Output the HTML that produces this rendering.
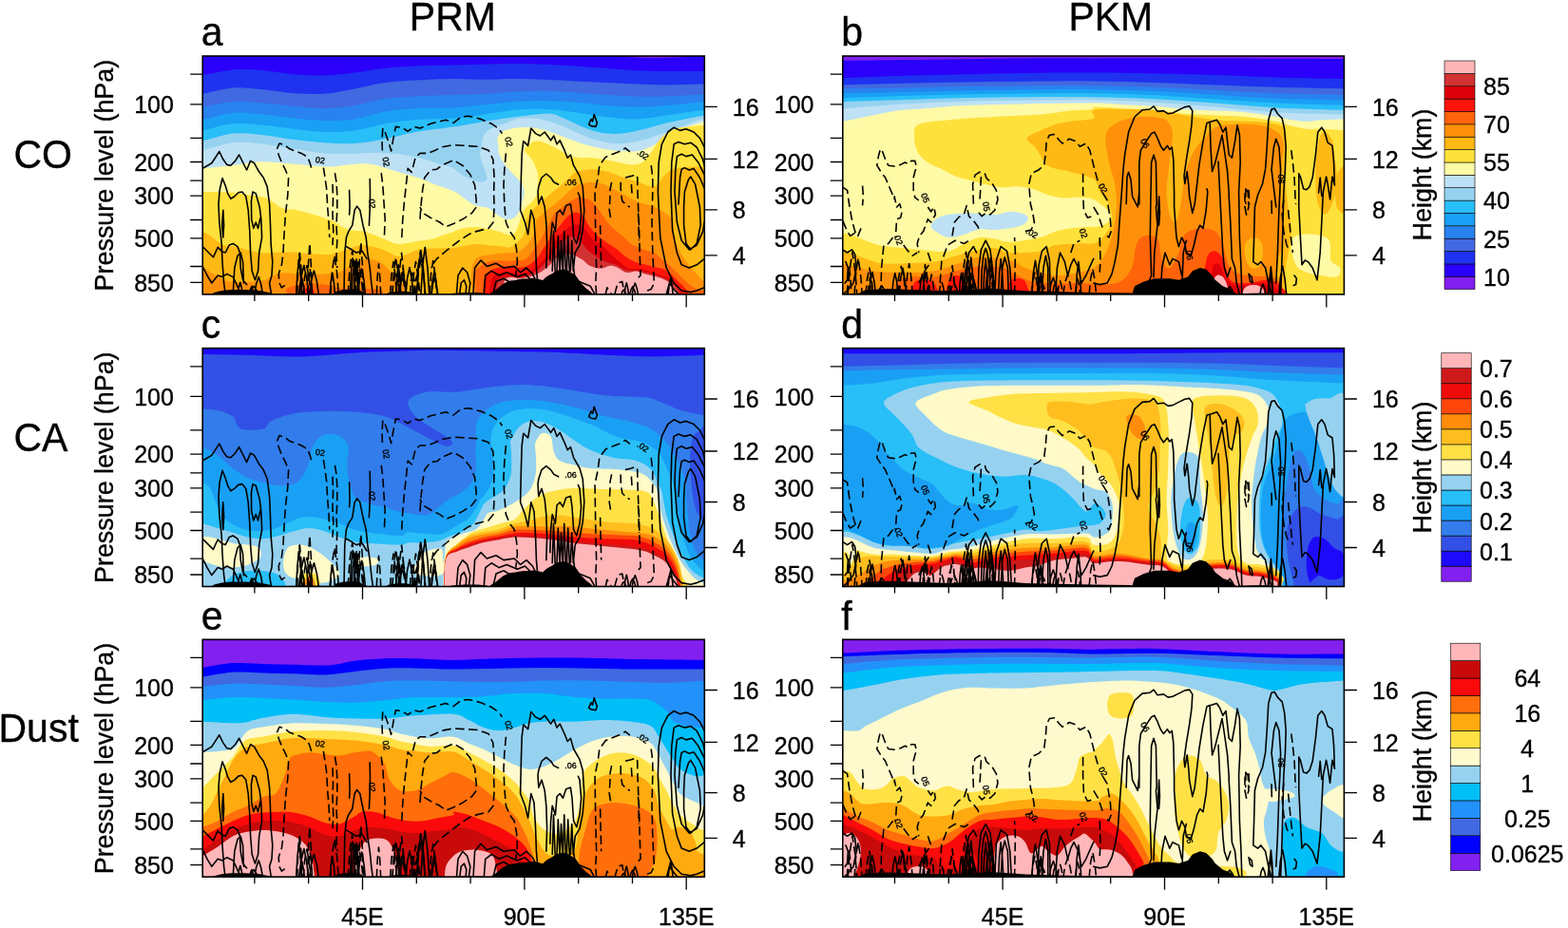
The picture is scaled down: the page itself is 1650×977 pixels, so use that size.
<!DOCTYPE html>
<html lang="en"><head><meta charset="utf-8"><title>Figure</title>
<style>html,body{margin:0;padding:0;background:#fff;overflow:hidden}svg{display:block}text{stroke:#000;stroke-width:0.35px}</style>
</head><body>
<svg width="1650" height="977" viewBox="0 0 1650 977" font-family='"Liberation Sans", Arial, Helvetica, sans-serif' fill="#000">
<rect width="1650" height="977" fill="#fff"/>
<defs>
<clipPath id="cpa"><rect x="0" y="0" width="528.1" height="250.9"/></clipPath>
<clipPath id="cpb"><rect x="0" y="0" width="527.6" height="250.9"/></clipPath>
<clipPath id="cpc"><rect x="0" y="0" width="528.1" height="250.9"/></clipPath>
<clipPath id="cpd"><rect x="0" y="0" width="527.6" height="250.9"/></clipPath>
<clipPath id="cpe"><rect x="0" y="0" width="528.1" height="249.9"/></clipPath>
<clipPath id="cpf"><rect x="0" y="0" width="527.6" height="249.9"/></clipPath>
</defs>
<g transform="translate(213.2 59)">
<g clip-path="url(#cpa)">
<rect x="-2" y="-2" width="532.1" height="254.9" fill="#2a00fa"/>
<path d="M432 -0.8C424.8 -0.3 452 1.6 464 1.9C476 2.3 496.8 1.7 504 1.3C511.2 0.8 519.2 -0.5 507.2 -0.8C495.2 -1.1 439.2 -1.3 432 -0.8Z" fill="#8220f0"/>
<path d="M-6 20C-5 20 -6.3 20.9 0 20C6.3 19.1 21.3 15.2 32 14.4C42.7 13.6 53.3 14.4 64 15.2C74.7 16 85.3 18.3 96 19.2C106.7 20.1 117.3 20.7 128 20.5C138.7 20.2 149.3 18.9 160 17.6C170.7 16.3 181.3 14 192 12.8C202.7 11.6 212 10.9 224 10.4C236 9.9 252 9.9 264 9.6C276 9.3 285.3 9.1 296 8.8C306.7 8.5 317.3 8 328 8C338.7 8 349.3 8.4 360 8.8C370.7 9.2 381.3 9.7 392 10.4C402.7 11.1 413.3 12 424 12.8C434.7 13.6 445.3 14.7 456 15.2C466.7 15.7 476 15.9 488 16C500 16.1 520.3 16 528 16C535.7 16 533.1 16 534.1 16V256.9H-6Z" fill="#1e32f0"/>
<path d="M-6 40C-5 40 -6.3 41.1 0 40C6.3 38.9 21.3 34.4 32 33.6C42.7 32.8 53.3 34.3 64 35.2C74.7 36.1 85.3 38.5 96 39.2C106.7 39.9 117.3 40.5 128 39.7C138.7 38.9 149.3 36.3 160 34.4C170.7 32.5 181.3 29.5 192 28C202.7 26.5 212 26.3 224 25.6C236 24.9 252 24.1 264 24C276 23.9 285.3 24.8 296 24.8C306.7 24.8 317.3 24 328 24C338.7 24 349.3 24.4 360 24.8C370.7 25.2 381.3 25.9 392 26.4C402.7 26.9 413.3 27.5 424 28C434.7 28.5 445.3 29.2 456 29.6C466.7 30 476 30.4 488 30.4C500 30.4 520.3 29.7 528 29.6C535.7 29.5 533.1 29.6 534.1 29.6V256.9H-6Z" fill="#4169e1"/>
<path d="M-6 53.6C-5 53.6 -6.3 54.5 0 53.6C6.3 52.7 21.3 48.7 32 48C42.7 47.3 53.3 48.8 64 49.6C74.7 50.4 85.3 51.9 96 52.8C106.7 53.7 117.3 55.3 128 55.2C138.7 55.1 149.3 53.7 160 52C170.7 50.3 181.3 46.4 192 44.8C202.7 43.2 212 43.1 224 42.4C236 41.7 252 41.2 264 40.8C276 40.4 285.3 40.5 296 40C306.7 39.5 317.3 38.1 328 37.6C338.7 37.1 349.3 36.7 360 36.8C370.7 36.9 381.3 37.7 392 38.4C402.7 39.1 413.3 40.1 424 40.8C434.7 41.5 445.3 42.1 456 42.4C466.7 42.7 476 42.8 488 42.4C500 42 520.3 40.4 528 40C535.7 39.6 533.1 40 534.1 40V256.9H-6Z" fill="#2882f0"/>
<path d="M-6 67.2C-5 67.2 -6.3 68.4 0 67.2C6.3 66 21.3 60.9 32 60C42.7 59.1 53.3 60.7 64 61.6C74.7 62.5 85.3 64.5 96 65.6C106.7 66.7 117.3 67.9 128 68C138.7 68.1 149.3 68 160 66.4C170.7 64.8 181.3 60.3 192 58.4C202.7 56.5 212 55.9 224 55.2C236 54.5 252 55.1 264 54.4C276 53.7 285.3 52.3 296 51.2C306.7 50.1 317.3 48.7 328 48C338.7 47.3 349.3 47.1 360 47.2C370.7 47.3 381.3 48 392 48.8C402.7 49.6 413.3 51.2 424 52C434.7 52.8 445.3 53.6 456 53.6C466.7 53.6 476 52.9 488 52C500 51.1 520.3 48.7 528 48C535.7 47.3 533.1 48 534.1 48V256.9H-6Z" fill="#19a0f5"/>
<path d="M-6 78.4C-5 78.4 -6.3 79.6 0 78.4C6.3 77.2 21.3 72.1 32 71.2C42.7 70.3 53.3 71.9 64 72.8C74.7 73.7 85.3 75.6 96 76.8C106.7 78 117.3 79.7 128 80C138.7 80.3 149.3 79.9 160 78.4C170.7 76.9 181.3 73.1 192 71.2C202.7 69.3 212 68.1 224 67.2C236 66.3 252 66.5 264 65.6C276 64.7 285.3 63.1 296 61.6C306.7 60.1 317.3 57.7 328 56.8C338.7 55.9 349.3 55.6 360 56C370.7 56.4 381.3 57.9 392 59.2C402.7 60.5 413.3 62.8 424 64C434.7 65.2 445.3 66.7 456 66.4C466.7 66.1 476 64 488 62.4C500 60.8 520.3 57.7 528 56.8C535.7 55.9 533.1 56.8 534.1 56.8V256.9H-6Z" fill="#28bef8"/>
<path d="M-6 89.6C-5 89.6 -6.3 90.9 0 89.6C6.3 88.3 21.3 82.7 32 81.6C42.7 80.5 53.3 82.1 64 83.2C74.7 84.3 85.3 86.7 96 88C106.7 89.3 117.3 90.5 128 91.2C138.7 91.9 149.3 92.7 160 92C170.7 91.3 181.3 89.2 192 87.2C202.7 85.2 212 82.1 224 80C236 77.9 253.3 76 264 74.4C274.7 72.8 280 71.7 288 70.4C296 69.1 299.7 68 312 66.4C324.3 64.8 351 61.1 362 60.8C373 60.5 372.7 62.9 378 64.8C383.3 66.7 388.7 69.7 394 72C399.3 74.3 404.7 76.8 410 78.4C415.3 80 420.7 81.1 426 81.6C431.3 82.1 436 82.3 442 81.6C448 80.9 454.3 79.5 462 77.6C469.7 75.7 477 72.9 488 70.4C499 67.9 520.3 63.7 528 62.4C535.7 61.1 533.1 62.4 534.1 62.4V256.9H-6Z" fill="#96d2f0"/>
<path d="M-6 99.2C-5 99.2 -6.3 100.5 0 99.2C6.3 97.9 21.3 92.3 32 91.2C42.7 90.1 53.3 91.7 64 92.8C74.7 93.9 85.3 96 96 97.6C106.7 99.2 118 101.5 128 102.4C138 103.3 147.3 103.1 156 103C164.7 102.9 172 101.8 180 101.8C188 101.8 197.3 102.4 204 103C210.7 103.6 214.7 104.3 220 105.4C225.3 106.5 230.7 107.9 236 109.4C241.3 110.9 247.3 112.7 252 114.2C256.7 115.7 260.7 116.5 264 118.2C267.3 119.9 268.7 122.6 272 124.6C275.3 126.6 280.3 128.9 284 130.2C287.7 131.5 291.9 132.7 294.4 132.6C296.9 132.5 298.7 131.3 299.2 129.4C299.7 127.5 298.5 124.5 297.6 121.4C296.7 118.3 294.5 114.1 293.6 111C292.7 107.9 292 105.7 292 103C292 100.3 292.9 98.3 293.6 95C294.3 91.7 294 86.5 296 83.2C298 79.9 301.6 77.3 305.6 75.2C309.6 73.1 315.9 71.9 320 70.4C324.1 68.9 325.7 67.2 330 66.4C334.3 65.6 340.7 65.3 346 65.6C351.3 65.9 356.7 66.7 362 68C367.3 69.3 372.7 71.5 378 73.6C383.3 75.7 388.7 78.5 394 80.8C399.3 83.1 404.7 85.5 410 87.2C415.3 88.9 420.7 90.4 426 91.2C431.3 92 436 92.4 442 92C448 91.6 454.3 90.8 462 88.8C469.7 86.8 477 83.9 488 80C499 76.1 520.3 68 528 65.6C535.7 63.2 533.1 65.6 534.1 65.6V256.9H-6Z" fill="#bee1f5"/>
<path d="M-6 118.2C-5 118.2 -6.3 118.7 0 118.2C6.3 117.7 22.7 116.1 32 115C41.3 113.9 48 111.9 56 111.4C64 110.9 72 111.7 80 112.2C88 112.7 95.3 113.5 104 114.2C112.7 114.9 124.7 116.5 132 116.6C139.3 116.7 142.7 115.5 148 115C153.3 114.5 158.7 113.5 164 113.4C169.3 113.3 174.7 113.3 180 114.2C185.3 115.1 190.7 117.4 196 119C201.3 120.6 206.7 122.2 212 123.8C217.3 125.4 222.7 126.7 228 128.6C233.3 130.5 238 132.7 244 135C250 137.3 258.7 139.7 264 142.2C269.3 144.7 272.7 147.9 276 150.2C279.3 152.5 281.6 154.5 284 155.8C286.4 157.1 287.7 157.5 290.4 158.2C293.1 158.9 297.5 158.9 300 159.8C302.5 160.7 303.6 162.3 305.6 163.8C307.6 165.3 309.6 167.3 312 168.6C314.4 169.9 317.6 171.4 320 171.8C322.4 172.2 324.4 172.1 326.4 171C328.4 169.9 330.4 168.1 332 165.4C333.6 162.7 334.9 158.7 336 155C337.1 151.3 338.4 146.3 338.4 143C338.4 139.7 337.1 137.3 336 135C334.9 132.7 334 131.7 332 129.4C330 127.1 326.7 124.5 324 121.4C321.3 118.3 318 114.1 316 111C314 107.9 312.8 105.7 312 103C311.2 100.3 311.5 97.8 311.2 95C310.9 92.2 309.7 88.9 310.4 86.4C311.1 83.9 311.9 81.8 315.2 80C318.5 78.2 324.9 76.4 330 75.6C335.1 74.8 340.7 74.7 346 75.2C351.3 75.7 356.7 76.9 362 78.4C367.3 79.9 372.7 82.4 378 84.4C383.3 86.4 388.7 88.6 394 90.4C399.3 92.2 404.7 93.9 410 95.2C415.3 96.5 420.7 97.6 426 98.4C431.3 99.2 436 99.9 442 100C448 100.1 454.3 101.5 462 99.2C469.7 96.9 481 90.1 488 86.4C495 82.7 497.3 79.7 504 76.8C510.7 73.9 523 70.1 528 68.8C533 67.5 533.1 68.8 534.1 68.8V256.9H-6Z" fill="#fffaa5"/>
<path d="M-6 143C-5 143 -3.7 143 0 143C3.7 143 10.7 142.9 16 143C21.3 143.1 26.7 143.3 32 143.8C37.3 144.3 42.7 145.4 48 146.2C53.3 147 60 147.5 64 148.6C68 149.7 69.3 151 72 152.6C74.7 154.2 77.3 156.7 80 158.2C82.7 159.7 85.3 160.9 88 161.4C90.7 161.9 92 160.7 96 161.4C100 162.1 106 163.7 112 165.4C118 167.1 127.3 170.1 132 171.8C136.7 173.5 137.3 174 140 175.4C142.7 176.8 145.3 178.9 148 180.2C150.7 181.5 152.7 182.7 156 183.4C159.3 184.1 164 183.4 168 184.2C172 185 176 186.7 180 188.2C184 189.7 188 191.4 192 193C196 194.6 200 197.1 204 197.8C208 198.5 212 197.5 216 197C220 196.5 224 195.3 228 194.6C232 193.9 236 193.9 240 193C244 192.1 248 190.3 252 189C256 187.7 260.7 186.2 264 185C267.3 183.8 268.2 182.6 272 181.8C275.8 181 282.5 180 287 180C291.5 180 295 181.3 299 182C303 182.7 307 183.3 311 184.4C315 185.5 320.1 188.1 323 188.4C325.9 188.7 327.1 187.6 328.6 186C330.1 184.4 331.1 181.1 332 179C332.9 176.9 333 176 334 173.2C335 170.4 336 165.2 338 162C340 158.8 343.7 156.7 346 154C348.3 151.3 350.5 148.7 351.6 146C352.7 143.3 352.2 140.7 352.4 138C352.6 135.3 353.1 133 353 130C352.9 127 352.8 123.7 351.6 120C350.4 116.3 348.1 111.5 346 108C343.9 104.5 339.2 101.9 339 99.2C338.8 96.5 342.5 93.6 345 92C347.5 90.4 349.8 88.9 354 89.6C358.2 90.3 364.7 93.5 370 96C375.3 98.5 381.3 102.9 386 104.8C390.7 106.7 394 106.8 398 107.2C402 107.6 405.3 106.8 410 107.2C414.7 107.6 420.3 108.6 426 109.6C431.7 110.6 439 112.6 444 113.4C449 114.2 452.7 114.6 456 114.2C459.3 113.8 461.2 113.4 464 111C466.8 108.6 469.9 104.2 473 100C476.1 95.8 478.8 89.8 482.7 86C486.6 82.2 490.8 79 496.4 77C501.9 75 510.7 74.7 516 74C521.3 73.3 525 73.2 528 73C531 72.8 533.1 73 534.1 73V256.9H-6Z" fill="#ffe13c"/>
<path d="M-6 185C-5 185 -2.3 184.3 0 185C2.3 185.7 5.3 187.3 8 189C10.7 190.7 13.3 193.7 16 195.4C18.7 197.1 20.7 198.5 24 199.4C27.3 200.3 32 200.2 36 201C40 201.8 43.3 203.1 48 204.2C52.7 205.3 58.7 207 64 207.4C69.3 207.8 74.7 206.7 80 206.6C85.3 206.5 90.7 206.3 96 206.6C101.3 206.9 106 207.8 112 208.2C118 208.6 127.3 209.1 132 209C136.7 208.9 136.7 208.3 140 207.4C143.3 206.5 148 204.7 152 203.4C156 202.1 160.7 200.1 164 199.4C167.3 198.7 168.7 199 172 199.4C175.3 199.8 180 200.6 184 201.8C188 203 192.7 205.1 196 206.6C199.3 208.1 201.3 210.1 204 210.6C206.7 211.1 208 211 212 209.8C216 208.6 222.7 204.6 228 203.4C233.3 202.2 238 202.9 244 202.6C250 202.3 256.8 202.6 264 201.8C271.2 201 280.5 198.4 287 198C293.5 197.6 298.3 199.2 303 199.6C307.7 200 311.7 200.1 315 200.4C318.3 200.7 320.3 201.9 323 201.2C325.7 200.5 328.3 198.9 331 196.4C333.7 193.9 337.3 189.9 339 186C340.7 182.1 339.8 176.7 341 173C342.2 169.3 343.8 166.5 346 163.6C348.2 160.7 351.3 158.1 354 155.6C356.7 153.1 359.3 150.7 362 148.4C364.7 146.1 367.3 144.1 370 142C372.7 139.9 375.3 137.9 378 135.6C380.7 133.3 383.3 130.3 386 128C388.7 125.7 390 123.1 394 121.6C398 120.1 404.7 119.2 410 119.2C415.3 119.2 422.3 120.8 426 121.6C429.7 122.4 429 122.6 432 123.8C435 125 439.3 127.1 444 128.6C448.7 130.1 455.7 131.6 460 133C464.3 134.4 467 136.5 470 137C473 137.5 475.2 138 478 136C480.8 134 483.5 127.9 486.6 125C489.7 122.1 491.5 120 496.4 118.6C501.3 117.2 510.7 117 516 116.7C521.3 116.4 525 116.7 528 116.7C531 116.7 533.1 116.7 534.1 116.7V256.9H-6Z" fill="#ffb914"/>
<path d="M-6 222.6C-5 222.6 -2.3 221.8 0 222.6C2.3 223.4 5.3 225.8 8 227.4C10.7 229 13.3 230.7 16 232.2C18.7 233.7 21.3 235.3 24 236.2C26.7 237.1 28 237.5 32 237.8C36 238.1 42.7 238.1 48 237.8C53.3 237.5 60 237.1 64 236.2C68 235.3 69.3 233.4 72 232.2C74.7 231 77.3 229.7 80 229C82.7 228.3 85.3 228.2 88 228.2C90.7 228.2 93.3 228.6 96 229C98.7 229.4 101.3 230.3 104 230.6C106.7 230.9 107.3 230.9 112 230.6C116.7 230.3 126.7 229.5 132 229C137.3 228.5 140 228.7 144 227.4C148 226.1 152.7 222.9 156 221C159.3 219.1 160.7 217.4 164 216.2C167.3 215 172 213.5 176 213.8C180 214.1 184.7 215.9 188 217.8C191.3 219.7 193.3 222.5 196 225C198.7 227.5 201.3 230.3 204 233C206.7 235.7 210 237.7 212 241C214 244.3 209.7 250.5 216 253C222.3 255.5 239.2 255.8 250 256C260.8 256.2 275.6 258.5 281 254C286.4 249.5 281.3 235.8 282.5 229C283.7 222.2 284.6 216.3 288 213C291.4 209.7 298.5 210.1 303 209.2C307.5 208.3 311 208 315 207.6C319 207.2 323.7 207.3 327 206.8C330.3 206.3 332.3 206.1 335 204.4C337.7 202.7 340.5 199.7 343 196.4C345.5 193.1 348.7 188.3 350 184.4C351.3 180.5 350.3 175.6 351 173.2C351.7 170.8 352.2 171.9 354 170C355.8 168.1 359.3 164.3 362 162C364.7 159.7 367.3 158.5 370 156.4C372.7 154.3 375.3 151.6 378 149.2C380.7 146.8 383.3 144.1 386 142C388.7 139.9 390.7 137.9 394 136.4C397.3 134.9 401.7 133.6 406 133.2C410.3 132.8 415.7 133.1 420 134.2C424.3 135.3 428 137.8 432 139.8C436 141.8 439.3 143.8 444 146.2C448.7 148.6 455.3 152.3 460 154.2C464.7 156.1 467.8 155.8 472 157.4C476.2 159 481.3 161.4 485 164C488.7 166.6 492.4 168.8 494.2 173C496 177.2 494.9 184.3 495.8 189C496.7 193.7 497.8 196.7 499.8 200.9C501.8 205.2 505.1 210.5 507.8 214.5C510.5 218.5 513.1 221.7 515.8 224.9C518.5 228.1 521.8 231.6 523.8 233.6C525.8 235.6 526.3 236.3 528 236.8C529.7 237.3 533.1 236.8 534.1 236.8V256.9H-6Z" fill="#ff910a"/>
<path d="M-6 253C8.3 253 64.3 254.3 80 253C95.7 251.7 84.7 247 88 245C91.3 243 96 241.9 100 241C104 240.1 106.7 239.4 112 239.4C117.3 239.4 126 240.1 132 241C138 241.9 141.3 244.3 148 245C154.7 245.7 165.3 244.7 172 245C178.7 245.3 184 245.3 188 246.6C192 247.9 185.7 251.4 196 253C206.3 254.6 235.3 255.7 250 256C264.7 256.3 277.8 259.9 284 255C290.2 250.1 285.8 232.3 287 226.8C288.2 221.3 289 223.6 291 222C293 220.4 295.7 218.3 299 217.2C302.3 216.1 306.3 215.9 311 215.6C315.7 215.3 322.3 215.9 327 215.6C331.7 215.3 335.7 215.6 339 214C342.3 212.4 344.3 209.3 347 206C349.7 202.7 352.3 198.3 355 194C357.7 189.7 360.5 184.7 363 180C365.5 175.3 367.5 169.4 370 166C372.5 162.6 375.3 161.7 378 159.6C380.7 157.5 383.3 154.9 386 153.2C388.7 151.5 392 150 394 149.2C396 148.4 395.3 147.7 398 148.4C400.7 149.1 406.7 150.7 410 153.2C413.3 155.7 415.3 160 418 163.6C420.7 167.2 423.3 171.8 426 175C428.7 178.2 431 180.3 434 183C437 185.7 441 188.8 444 191.4C447 194 449.3 196.8 452 198.5C454.7 200.2 457.3 200.6 460 201.7C462.7 202.8 465.3 203.9 468 205C470.7 206.1 473.3 206.4 476 208C478.7 209.6 481.3 212.3 484 214.5C486.7 216.7 489.3 218.5 492 220.9C494.7 223.3 497.3 226.2 500 228.9C502.7 231.6 505.3 234.4 508 236.8C510.7 239.2 513.3 241.6 516 243.2C518.7 244.8 522 245.7 524 246.4C526 247.1 526.3 247.1 528 247.2C529.7 247.3 533.1 247.2 534.1 247.2V256.9H-6Z" fill="#ff640a"/>
<path d="M295 256C295.3 252.3 295.3 239 296.6 234C297.9 229 299.9 228 303 226C306.1 224 311 222.7 315 222C319 221.3 323 222 327 222C331 222 335 223.3 339 222C343 220.7 347.7 217.3 351 214C354.3 210.7 356.3 206 359 202C361.7 198 364.3 193.7 367 190C369.7 186.3 372.2 183.5 375 180C377.8 176.5 381.1 171.6 384 169C386.9 166.4 389.7 164.5 392.4 164.4C395.1 164.3 398.1 166.1 400.4 168.4C402.7 170.7 403.7 174.8 406 178C408.3 181.2 410.7 184.4 414 187.6C417.3 190.8 422.3 194.4 426 197C429.7 199.6 433 201.1 436 203.3C439 205.6 441.3 208.5 444 210.5C446.7 212.5 449.3 214 452 215.3C454.7 216.6 457.3 217.7 460 218.5C462.7 219.3 465.3 219.3 468 220C470.7 220.7 473.3 221.8 476 222.5C478.7 223.2 481.3 222.9 484 224C486.7 225.1 489.3 226.8 492 228.9C494.7 231 497.3 234.2 500 236.8C502.7 239.5 505.7 241.6 508 244.8C510.3 248 513 254.1 514 256Z" fill="#ff140a"/>
<path d="M301.4 256C301.9 252.3 302.3 238.6 304.6 234C306.9 229.4 311.3 229.3 315 228.4C318.7 227.5 323 228.4 327 228.4C331 228.4 335 229.5 339 228.4C343 227.3 347 225.1 351 222C355 218.9 359.8 214.3 363 210C366.2 205.7 366.8 200.5 370 196C373.2 191.5 378.3 186.1 382 183C385.7 179.9 389.1 177.4 392.4 177.2C395.7 177 399.1 179.5 402 182C404.9 184.5 406.7 189.2 410 192.4C413.3 195.6 418.7 198.2 422 201C425.3 203.8 427.7 206.8 430 209C432.3 211.2 433.7 212.5 436 214.5C438.3 216.5 441.6 219.3 444 220.9C446.4 222.5 447.6 223.5 450.3 224C453 224.5 457.1 223.7 460 224C462.9 224.3 465.3 224.9 468 225.7C470.7 226.5 473.3 228 476 228.9C478.7 229.8 481.3 230.1 484 231.3C486.7 232.5 489.3 234 492 236C494.7 238 497.7 239.9 500 243.2C502.3 246.5 505 253.9 506 256Z" fill="#dc000a"/>
<path d="M308 256C308.5 252.8 309 240.9 311 237C313 233.1 316 233.2 320 232.5C324 231.8 329.8 234 335 233C340.2 232 346.3 229.5 351 226.5C355.7 223.5 359.5 218.9 363 215C366.5 211.1 368.8 206.7 372 203C375.2 199.3 379 195.2 382 193C385 190.8 387.3 189.5 390 190C392.7 190.5 395.2 193.3 398 196C400.8 198.7 403.5 203 407 206C410.5 209 415.5 212.1 419 214C422.5 215.9 425.2 216.7 428 217.7C430.8 218.7 433.3 218.9 436 220.1C438.7 221.3 441.3 224 444 224.9C446.7 225.8 449.3 225.4 452 225.7C454.7 226 457.3 226.1 460 226.5C462.7 226.9 465.3 227.3 468 228C470.7 228.7 473.3 229.7 476 230.5C478.7 231.3 481.3 231.7 484 232.9C486.7 234.1 489.3 235.6 492 237.6C494.7 239.6 498 241.7 500 244.8C502 247.9 503.3 254.1 504 256Z" fill="#d23232"/>
<path d="M316 256C316.2 253 316.2 241.8 317.4 238C318.6 234.2 320.1 233.7 323 233C325.9 232.3 330.3 234.5 335 234C339.7 233.5 346.3 232 351 230C355.7 228 359 225.2 363 222C367 218.8 371 213.1 375 210.8C379 208.5 383 207.9 387 208.4C391 208.9 395.7 212 399 214C402.3 216 403.7 218.8 407 220.4C410.3 222 415.5 223.5 419 223.6C422.5 223.7 425.2 221.1 428 220.9C430.8 220.7 433.3 221.4 436 222.5C438.7 223.6 441.8 226.4 444 227.3C446.2 228.2 447 228.1 449 228C451 227.9 453.5 226.3 456 226.5C458.5 226.7 460.7 228.1 464 229C467.3 229.9 472.7 231.1 476 232C479.3 232.9 481.3 233.3 484 234.5C486.7 235.7 489.7 237.2 492 239.2C494.3 241.2 496.4 243.6 498 246.4C499.6 249.2 500.8 254.4 501.4 256Z" fill="#ffb6b9"/>
<path d="M106.4 252.2C104.8 251 107.1 246.5 108 245C108.9 243.5 110.7 243.4 112 243.4C113.3 243.4 115.1 243.5 116 245C116.9 246.5 119.2 251 117.6 252.2C116 253.4 108 253.4 106.4 252.2Z" fill="#ff140a"/>
<path d="M0 118.4L9.6 112.8L17.6 100.5L21.6 108.8L25.6 114.4L29.6 115.2L34.4 110.4L38.4 104L42.4 112L46.4 120L50.4 110.4L54.4 112.8L59.2 121.6L64 128L68 137.6L70.4 156L71.2 175L72 199L73.6 216.6L72.8 231L70.4 239L72.3 251M24 251L22.4 239L20.8 216.6L20 197.4L17.6 175L16.8 155.8L17.9 141.4L20.8 128.6L24 136.6L26.4 144.6L29.6 150.2L33.6 147.8L37.6 143.8L41.6 143L45.6 147.8L48 162.2L49.6 184.6L50.4 207L52 226.2L55.2 235.8L58.4 226.2L59.5 207L62.4 191L61.6 171.8L60 159L56 144.6L52.8 143L51.2 152.6L51.5 171.8L53.6 181.4L56 175L58.4 181.4L60.8 170.2M21.6 162.2L22.4 178.2L21.6 191L20.5 178.2L21.6 162.2M0 200.6L6.4 207L11.2 211.8L16 201.4L20 205.4L24 207L28 199L32 197.4L36.8 200.6L39.2 207L40 223L42.4 235.8L46.4 240.6M0 221.4L4.8 231L9.6 239L16 231L20.8 232.6L25.6 229.4L32 232.6L35.2 239L40 251M32 251L33.6 223L36.8 210.2L40 207L42.4 216.6L43.2 239M176 129.6L176.3 144L176 162.2L175.2 178.2M154.4 141.4L154.9 159L154.4 167M148.8 251L149.6 207L151.2 191L153.6 184.6L157.6 178.2L160 162.2L162.4 158.2L165.6 162.2L168.8 178.2L172 191L173.6 207L176 223L177.6 239L179.2 251M151.2 200.6L156.8 203.8L161.6 207L168 205.4L172.8 213.4M353.6 251L351.2 223L350.4 199L348.8 171.8L345.6 162.2L342.4 187.8L339.2 175L334.4 162.2L335.2 127L336 102.4L337.6 89.6L342.4 94.4L345.6 76L350.4 81.6L355.2 84L360 80L366.4 88.8L369.6 84L372.8 92.8L376 88.8L380.8 99.2L384 107.2L387.2 104L390.4 115.2L396.8 126.4L400 137.6L401.6 162.2L400 183L396.8 199L392 207L390.4 223L392 235.8L400 239L408 242.2L412.8 251M361.6 223L362.4 199L361.6 175L360 159L356.8 147.8L353.6 155.8L352.8 143L353.6 137.6L356.8 128L361.6 124L366.4 128L369.6 132.8L374.4 135.2M395.2 144L396.8 147.8L398.4 167L396.8 184.6L393.6 197.4L390.4 191L388.8 167L387.2 155.8L382.4 157.4L379.2 167L376 162.2L372.8 165.4L371.2 184.6L368 175L366.4 191L365.6 215M368 226.2L369.3 184.6L370.9 226.2M372.8 226.2L374.1 189.4L375.7 226.2M376 226.2L377.3 194.2L378.9 226.2M379.2 226.2L380.5 184.6L382.1 226.2M383.2 226.2L384.5 189.4L386.1 226.2M387.2 226.2L388.5 194.2L390.1 226.2M406.4 72L408.8 66.4L410.4 68.8L412 61.6L415.2 70.4L413.6 74.4L408.8 73.6L406.4 72M284.8 251L286.4 223L292.8 215L299.2 221.4L308.8 218.2L316.8 223L328 221.4L334.4 227.8L340.8 223L347.2 229.4L352 239M296 251L297.6 231L304 226.2L312 231L320 227.8L331.2 232.6L339.2 229.4L345.6 235.8M305.6 251L308.8 237.4L316.8 234.2L324.8 239L332.8 235.8L340.8 240.6M267.2 251L268.8 231L273.6 223L278.4 227.8L281.6 239L280 251M270.4 251L272 239L275.2 235.8L277.6 242.2L276.8 251M513.6 248.6L504 247L496 239L488 223L481.6 191L479.2 143L480 112L483.2 92.8L489.6 80L496 75.2L502.4 78.4L508.8 76.8L516.8 80L523.2 86.4L528 96M528 243.8L520 247L513.6 248.6M528 213.4L520 219.8L512 223L504 219.8L499.2 207L494.4 183L492.8 143L493.6 112L496 92.8L500.8 90.4L507.2 92.8L513.6 91.2L520 96L526.4 108.8L528 115.2M528 175L526.4 184.6L520 199L512 203.8L504 194.2L499.2 175L496.8 143L497.6 120L499.2 105.6L504 103.2L508.8 105.6L515.2 104L521.6 112L528 124.8M506.4 159L507.2 143L511.2 130.2L513.6 127L518.4 135L523.2 159L524 178.2L520 197.4L513.6 203.8L508.8 197.4L506.4 178.2ZM500.8 156L502.4 128L504 119.2L507.2 117.6L512 120L516.8 118.4L523.2 128L528 139.2M488 251L491.2 239L496 245.4L500.8 251M101.9 251L103.8 232.6L106.7 220.3L109.5 234.1L111.5 251M112.5 251L114.4 236L117.3 226.1L120.2 237.3L122.1 251M98.5 251L99.7 229.1L101.4 214.5L103.1 230.9L104.3 251M101.4 251L102.5 240.2L104.3 233.1L106.1 241.1L107.3 251M163.7 251L165.2 234.7L167.5 223.8L169.7 236L171.2 251M156.6 251L158 230.1L160.2 216.1L162.4 231.8L163.8 251M133.9 251L135 237.6L136.6 228.6L138.2 238.7L139.3 251M158.9 251L160.1 228.7L161.9 213.9L163.7 230.6L164.9 251M155.1 251L156.2 228.1L158 212.9L159.8 230L160.9 251M229.7 251L231.5 221.1L234.1 201.2L236.8 223.6L238.5 251M213.8 251L215.4 233.9L217.8 222.5L220.2 235.3L221.8 251M203.4 251L204.5 232.3L206 219.8L207.6 233.9L208.6 251M206 251L207.7 240.8L210.3 233.9L212.8 241.6L214.5 251M207.6 251L208.9 236.8L210.8 227.3L212.7 238L214 251M240.9 251L242.2 240.3L244.2 233.2L246.2 241.2L247.6 251M225.3 251L227.1 223.4L229.7 205.1L232.4 225.7L234.1 251M240.6 251L241.9 236.2L243.9 226.3L245.8 237.4L247.1 251M49.2 251L51 245.8L53.8 242.4L56.6 246.2L58.4 251M54.7 251L56.4 239.9L59 232.5L61.6 240.8L63.3 251M37.2 251L38.2 243.3L39.6 238.2L41.1 244L42 251M49.4 251L50.3 245.8L51.7 242.3L53.1 246.2L54 251M449.5 251L450.7 246.1L452.5 242.8L454.4 246.5L455.6 251M440.6 251L441.6 248L443.2 246L444.7 248.2L445.7 251M443.9 251L444.8 243.6L446.1 238.7L447.4 244.3L448.3 251M489.9 251L491 240.6L492.5 233.7L494 241.5L495 251M452 251L453.3 243.8L455.1 239.1L457 244.4L458.3 251" fill="none" stroke="#000" stroke-width="1.6" stroke-linejoin="round" stroke-linecap="round"/>
<path d="M114.4 117.6L112.8 112L110.4 106.4L104 102.4L97.6 100L91.2 97.6L86.4 93.6L80.8 92L78.4 97.6L80 104L83.2 112L87.2 120L90.4 128L89.6 146.2L87.2 167L85.6 191L84.8 207L83.2 219.8L80 229.4L80.8 239L83.2 243.8L89.6 239M127.2 117.6L128.8 128L130.4 139.2L131.5 159L132.8 175L133.6 191M139.2 123.2L140.8 132.8L141.6 146.2L141.6 162.2L140.8 178.2L141.6 194.2L140.8 210.2L141.6 223M136.8 135L137.3 151L136.8 167L137.6 184.6L136.8 199M189.6 76L188.8 89.6L189.3 102.4M188 123.2L189.6 136L190.9 155.8L192 171.8L191.2 191M192 80L196 91.2L198.4 100L200.8 86.4L203.2 74.4L209.6 75.2L216 79.2L222.4 74.4L228.8 76L240 71.2L249.6 68.8L256 67.2L264 70.4L272 64L280 63.2L292.8 66.4L304 71.2L312 76.8L315.2 81.6M319.2 102.4L317.6 120L316.8 136L317.6 155.8L318.4 165.4L319.2 175L323.2 184.6L328 191L330.4 203.8L331.2 216.6L329.6 231M209.6 191L210.4 175L212 155.8L213.6 140.8L215.2 126.4L216 118.4L220 122.4L224 106.4L228.8 102.4L236.8 102.4L244.8 99.2L251.2 96L264 93.6L276.8 94.4L289.6 95.2L300.8 99.2L305.6 108.8L306.9 128L306.4 144L306.9 159L305.9 175L300.8 181.4L288 184.6L280 187.8L270.4 194.2L264 199L256 205.4L246.4 213.4L240 223M228.8 171.8L229.6 159L231.5 140.8L233.6 128L240 120L246.4 119.2L252.8 114.4L264 109.6L273.6 115.2L281.6 124.8L286.4 136L288 152L288 159L283.2 165.4L273.6 171.8L264 176.6L256 179.8L249.6 175L240 170.2L232 165.4L228.8 159M414.4 251L413.6 239L414.4 223L413.6 191L412.8 143L416 128L417.6 115.2L424 106.4L433.6 102.4L440 100L444.8 96.8L449.6 100.8M472 115.2L473.6 128L473.6 143L472.8 175L473.6 207L475.2 239L472 245.4L464 248.6M430.4 132.8L428.8 140.8L428.8 147.8L428 162.2L429.6 171.8M440 132.8L440 139.8L440.8 147.8L441.6 152.6L446.4 157.4L449.6 159M444.8 128L451.2 126.4L456 124.8L457.6 128L457.6 136.6L458.4 159L459.2 175L460 207L460.8 231L456 235.8M451.2 135L452 147.8M418.4 178.2L418.9 199L419.5 223M458.4 165.4L459.2 194.2M424 251L425.6 243.8L430.4 251M433.6 251L436.8 239L441.6 237.4L443.2 247M105.8 251L107.4 232.8L109.7 220.7L112.1 234.3L113.6 251M99 251L100.3 224.7L102.2 207.2L104 226.9L105.3 251M99.5 251L100.4 225.3L101.7 208.2L103.1 227.5L103.9 251M110.7 251L111.6 234.5L113 223.6L114.4 235.9L115.4 251M110.3 251L111.3 218.6L112.7 197.1L114.2 221.3L115.2 251M163.8 251L164.9 218L166.6 196.1L168.2 220.8L169.4 251M153 251L154.8 223.2L157.6 204.7L160.3 225.6L162.1 251M159.1 251L161 230.4L163.9 216.6L166.8 232.1L168.8 251M134.6 251L136.3 226.5L138.8 210.1L141.4 228.5L143.1 251M183.1 251L184 231.7L185.3 218.8L186.6 233.3L187.5 251M199.7 251L201.2 227.5L203.4 211.9L205.6 229.5L207.1 251M206.6 251L208.2 234.3L210.6 223.2L213.1 235.7L214.7 251M197.4 251L198.8 230.3L200.8 216.5L202.8 232L204.2 251M206 251L207.3 224.8L209.4 207.4L211.5 227L212.8 251M199.2 251L200.8 238.1L203.2 229.5L205.7 239.2L207.3 251M224.6 251L226.5 223.1L229.4 204.5L232.2 225.4L234.1 251M218.3 251L219.4 235.8L221 225.7L222.7 237.1L223.8 251M220.6 251L222.1 230.3L224.3 216.5L226.6 232L228.1 251M222.2 251L223.5 238.9L225.5 230.9L227.5 239.9L228.8 251M225 251L226.9 228.8L229.8 214L232.6 230.7L234.5 251M238.8 251L240.3 229.7L242.6 215.5L244.9 231.5L246.4 251" fill="none" stroke="#000" stroke-width="1.6" stroke-linejoin="round" stroke-dasharray="9.5 4.5"/>
<text x="123.2" y="112.8" font-size="9" text-anchor="middle" transform="rotate(8 123.2 112.8)">02</text>
<text x="190.1" y="112" font-size="9" text-anchor="middle" transform="rotate(80 190.1 112)">02</text>
<text x="319.2" y="91.2" font-size="9" text-anchor="middle" transform="rotate(75 319.2 91.2)">02</text>
<text x="175.2" y="155.8" font-size="9" text-anchor="middle" transform="rotate(85 175.2 155.8)">02</text>
<text x="387.2" y="136" font-size="9" text-anchor="middle" transform="rotate(0 387.2 136)">.06</text>
<text x="461.6" y="106.4" font-size="9" text-anchor="middle" transform="rotate(35 461.6 106.4)">.02</text>
<path d="M300 252L304 249L308 246.5L316 240L320 238L324 236.5L330 236L336 234.6L342 234.5L348 233.8L354 235L358 236L361 233L364 231L368 229L371 226.5L376 225L380 224.5L384 225.5L388 228L392 230.5L394 233L396 236L398 239L400 241L404 245L408 248L412 252Z" fill="#000"/>
<path d="M8 252L12 249L20 247L30 246L45 246L60 247L70 249L76 252Z" fill="#000"/>
<path d="M136 252L140 248L148 246L158 245.5L166 247L172 250L176 252Z" fill="#000"/>
<path d="M190 252L196 249L206 247.5L216 248L224 250L228 252Z" fill="#000"/>
<path d="M256 252L262 250L275 249L290 249L300 250L300 252Z" fill="#000"/>
<path d="M76 252L90 250.5L110 250L136 250.5L136 252Z" fill="#000"/>
<path d="M412 252L420 250.5L440 250.5L450 252Z" fill="#000"/>
</g>
<rect x="0" y="0" width="528.1" height="250.9" fill="none" stroke="#000" stroke-width="1.6"/>
</g>
<path d="M200.2 78.2H213.2M200.2 109.8H213.2M200.2 145.3H213.2M200.2 170.5H213.2M200.2 190.2H213.2M200.2 206.2H213.2M200.2 231.5H213.2M200.2 250.9H213.2M200.2 280.5H213.2M200.2 297.4H213.2M741.3 112.4H754.8M741.3 167.4H754.8M741.3 220.9H754.8M741.3 268.9H754.8M267.9 309.9V316.9M324.7 309.9V316.9M381.5 309.9V323.4M438.3 309.9V316.9M495.1 309.9V316.9M551.9 309.9V323.4M608.7 309.9V316.9M665.5 309.9V316.9M722.2 309.9V323.4" stroke="#000" stroke-width="1.3" fill="none"/>
<text font-size="25" text-anchor="end" transform="translate(182.9 118.9) scale(1 1.043)">100</text>
<text font-size="25" text-anchor="end" transform="translate(182.9 179.6) scale(1 1.043)">200</text>
<text font-size="25" text-anchor="end" transform="translate(182.9 215.3) scale(1 1.043)">300</text>
<text font-size="25" text-anchor="end" transform="translate(182.9 260) scale(1 1.043)">500</text>
<text font-size="25" text-anchor="end" transform="translate(182.9 306.5) scale(1 1.043)">850</text>
<text font-size="25" text-anchor="start" transform="translate(770.8 121.8) scale(1 1.043)">16</text>
<text font-size="25" text-anchor="start" transform="translate(770.8 176.8) scale(1 1.043)">12</text>
<text font-size="25" text-anchor="start" transform="translate(770.8 230.3) scale(1 1.043)">8</text>
<text font-size="25" text-anchor="start" transform="translate(770.8 278.3) scale(1 1.043)">4</text>
<text font-size="41" text-anchor="start" transform="translate(211.7 48.4) scale(1 1.043)">a</text>
<text font-size="26.9" text-anchor="middle" transform="translate(118.6 184.6) rotate(-90) scale(1 1.043)">Pressure level (hPa)</text>
<g transform="translate(886.8 59)">
<g clip-path="url(#cpb)">
<rect x="-2" y="-2" width="531.6" height="254.9" fill="#8220f0"/>
<path d="M-6 4.8C-5 4.8 -11.7 4.9 0 4.8C11.7 4.7 42.7 4.3 64 4C85.3 3.7 106.7 3.5 128 3.2C149.3 2.9 169.3 2.5 192 2.4C214.7 2.3 230.7 2.4 264 2.4C297.3 2.4 348 2.3 392 2.4C436 2.5 504.4 2.8 528 2.9C551.6 3 532.7 2.9 533.6 2.9V256.9H-6Z" fill="#2a00fa"/>
<path d="M-6 23.2C-5 23.2 -11.7 23.6 0 23.2C11.7 22.8 42.7 21.5 64 20.8C85.3 20.1 106.7 19.7 128 19.2C149.3 18.7 169.3 18.2 192 17.9C214.7 17.7 241.3 17.5 264 17.6C286.7 17.7 306.7 18 328 18.4C349.3 18.8 370.7 19.3 392 20C413.3 20.7 433.3 21.7 456 22.4C478.7 23.1 515.1 23.7 528 24C540.9 24.3 532.7 24 533.6 24V256.9H-6Z" fill="#1e32f0"/>
<path d="M-6 30.4C-5 30.4 -11.7 30.7 0 30.4C11.7 30.1 42.7 29.3 64 28.8C85.3 28.3 106.7 27.9 128 27.5C149.3 27.2 169.3 26.9 192 26.7C214.7 26.5 241.3 26.2 264 26.4C286.7 26.6 306.7 27.3 328 28C349.3 28.7 370.7 29.6 392 30.4C413.3 31.2 433.3 32.1 456 32.8C478.7 33.5 515.1 34.1 528 34.4C540.9 34.7 532.7 34.4 533.6 34.4V256.9H-6Z" fill="#4169e1"/>
<path d="M-6 34.4C-5 34.4 -11.7 34.5 0 34.4C11.7 34.3 42.7 34 64 33.6C85.3 33.2 106.7 32.4 128 32C149.3 31.6 169.3 31.5 192 31.4C214.7 31.2 241.3 31 264 31.2C286.7 31.4 306.7 32 328 32.8C349.3 33.6 370.7 34.9 392 36C413.3 37.1 433.3 38.4 456 39.2C478.7 40 515.1 40.5 528 40.8C540.9 41.1 532.7 40.8 533.6 40.8V256.9H-6Z" fill="#2882f0"/>
<path d="M-6 39.2C-5 39.2 -11.7 39.4 0 39.2C11.7 39 42.7 38.5 64 38.1C85.3 37.6 106.7 36.9 128 36.5C149.3 36.1 169.3 35.7 192 35.5C214.7 35.3 241.3 34.9 264 35.2C286.7 35.5 306.7 36.2 328 37.1C349.3 38.1 370.7 39.5 392 40.8C413.3 42.1 433.3 43.9 456 44.8C478.7 45.7 515.1 46.1 528 46.4C540.9 46.7 532.7 46.4 533.6 46.4V256.9H-6Z" fill="#19a0f5"/>
<path d="M-6 44C-5 44 -11.7 44.3 0 44C11.7 43.7 42.7 42.5 64 41.9C85.3 41.3 106.7 40.7 128 40.3C149.3 39.9 169.3 39.7 192 39.5C214.7 39.3 241.3 38.9 264 39.2C286.7 39.5 306.7 40.2 328 41.3C349.3 42.3 370.7 44.2 392 45.6C413.3 47 433.3 48.5 456 49.6C478.7 50.7 515.1 51.6 528 52C540.9 52.4 532.7 52 533.6 52V256.9H-6Z" fill="#28bef8"/>
<path d="M-6 48C-5 48 -11.7 48.3 0 48C11.7 47.7 42.7 46.6 64 45.9C85.3 45.3 106.7 44.5 128 44C149.3 43.5 169.3 43.3 192 43.2C214.7 43.1 241.3 42.9 264 43.2C286.7 43.5 306.7 44.2 328 45.3C349.3 46.3 370.7 48.1 392 49.6C413.3 51.1 433.3 53.2 456 54.4C478.7 55.6 515.1 56.4 528 56.8C540.9 57.2 532.7 56.8 533.6 56.8V256.9H-6Z" fill="#96d2f0"/>
<path d="M-6 55.2C-5 55.2 -11.7 56 0 55.2C11.7 54.4 42.7 51.7 64 50.4C85.3 49.1 106.7 48.3 128 47.7C149.3 47.1 169.3 46.9 192 46.7C214.7 46.5 241.3 46.1 264 46.4C286.7 46.7 306.7 47.6 328 48.8C349.3 50 370.7 51.9 392 53.6C413.3 55.3 433.3 57.9 456 59.2C478.7 60.5 515.1 61.2 528 61.6C540.9 62 532.7 61.6 533.6 61.6V256.9H-6Z" fill="#bee1f5"/>
<path d="M-6 68.8C-5 68.8 -5 69.6 0 68.8C5 68 16 65.6 24 64C32 62.4 41.3 60.4 48 59.2C54.7 58 56 57.6 64 56.8C72 56 85.3 55.2 96 54.4C106.7 53.6 112 52.7 128 52C144 51.3 169.3 50.8 192 50.4C214.7 50 246.7 49.5 264 49.6C281.3 49.7 285.3 50.7 296 51.2C306.7 51.7 317.3 52 328 52.8C338.7 53.6 349.3 55.2 360 56C370.7 56.8 381.3 57.1 392 57.6C402.7 58.1 413.3 58.1 424 59.2C434.7 60.3 448 62.7 456 64C464 65.3 466.7 66.4 472 67.2C477.3 68 482.7 68.8 488 68.8C493.3 68.8 497.3 67.6 504 67.2C510.7 66.8 523.1 66.5 528 66.4C532.9 66.3 532.7 66.4 533.6 66.4V256.9H-6Z" fill="#fffaa5"/>
<path d="M-6 186.2C-5 186.2 -3.7 185.4 0 186.2C3.7 187 10.7 189.1 16 191C21.3 192.9 26.7 195.8 32 197.4C37.3 199 40 199.5 48 200.6C56 201.7 72 203 80 203.8C88 204.6 90.7 205.1 96 205.4C101.3 205.7 106.7 206.7 112 205.4C117.3 204.1 122.7 199.8 128 197.4C133.3 195 138.7 191.8 144 191C149.3 190.2 154.7 191.8 160 192.6C165.3 193.4 168 196.1 176 195.8C184 195.5 200 192.9 208 191C216 189.1 218.7 186.2 224 184.6C229.3 183 233.3 182.2 240 181.4C246.7 180.6 258.4 180.3 264 179.8C269.6 179.3 270.7 179.5 273.6 178.2C276.5 176.9 280.8 174.5 281.6 171.8C282.4 169.1 281.3 165.7 278.4 162.2C275.5 158.7 269.1 153.3 264 151C258.9 148.7 253.3 148.9 248 148.6C242.7 148.3 237.3 149.8 232 149.4C226.7 149 221.3 147.8 216 146.2C210.7 144.6 205.3 141.3 200 139.8C194.7 138.3 189.3 137.7 184 137.4C178.7 137.1 174.7 138.9 168 138.2C161.3 137.5 152 135.3 144 133.4C136 131.5 126.7 129.4 120 127C113.3 124.6 109.3 121.7 104 119C98.7 116.3 92.3 114.2 88 111C83.7 107.8 80.5 104.2 78.4 99.8C76.3 95.4 74.9 89.4 75.2 84.8C75.5 80.2 73.9 74.9 80 72C86.1 69.1 98.7 68.5 112 67.2C125.3 65.9 144 64.9 160 64C176 63.1 194.7 62.7 208 61.6C221.3 60.5 230.7 58.5 240 57.6C249.3 56.7 260 56.7 264 56C268 55.3 258.7 53.7 264 53.6C269.3 53.5 285.3 54.7 296 55.2C306.7 55.7 317.3 55.9 328 56.8C338.7 57.7 349.3 59.9 360 60.8C370.7 61.7 381.3 61.9 392 62.4C402.7 62.9 413.3 62.9 424 64C434.7 65.1 448 67.2 456 68.8C464 70.4 466.7 72.3 472 73.6C477.3 74.9 482.7 76.3 488 76.8C493.3 77.3 497.3 76.5 504 76.8C510.7 77.1 523.1 78.1 528 78.4C532.9 78.7 532.7 78.4 533.6 78.4V256.9H-6Z" fill="#ffe13c"/>
<path d="M-6 205.4C-5 205.4 -3.7 204.6 0 205.4C3.7 206.2 9.3 208.1 16 210.2C22.7 212.3 32 216.9 40 218.2C48 219.5 54.7 218.5 64 218.2C73.3 217.9 86.7 217.9 96 216.6C105.3 215.3 112 212.3 120 210.2C128 208.1 137.3 205.1 144 203.8C150.7 202.5 154.7 201.7 160 202.2C165.3 202.7 168 206.5 176 207C184 207.5 200 206.7 208 205.4C216 204.1 217.3 200.3 224 199C230.7 197.7 241.3 197.7 248 197.4C254.7 197.1 259.7 198.5 264 197.4C268.3 196.3 270.4 194.7 273.6 191C276.8 187.3 282.1 180.9 283.2 175C284.3 169.1 282.1 161.1 280 155.8C277.9 150.5 273.1 147.4 270.4 143C267.7 138.6 269.1 132.9 264 129.4C258.9 125.9 248 124.5 240 122.2C232 119.9 221.3 118.7 216 115.8C210.7 112.9 210.4 108.1 208 104.6C205.6 101.1 204 98 201.6 95C199.2 92 192.5 89.2 193.6 86.4C194.7 83.6 202.9 80.8 208 78.4C213.1 76 218.7 73.6 224 72C229.3 70.4 233.3 69.9 240 68.8C246.7 67.7 260 67.6 264 65.6C268 63.6 258.7 58.4 264 56.8C269.3 55.2 285.3 56 296 56C306.7 56 317.3 55.7 328 56.8C338.7 57.9 349.3 60.7 360 62.4C370.7 64.1 381.3 66.1 392 67.2C402.7 68.3 414.7 68.3 424 68.8C433.3 69.3 441.3 69.3 448 70.4C454.7 71.5 460.8 72 464 75.2C467.2 78.4 466.7 86.3 467.2 89.6C467.7 92.9 467.5 88.8 467.2 95C466.9 101.2 465.3 116.3 465.6 127C465.9 137.7 467.7 149.7 468.8 159C469.9 168.3 472 175 472 183C472 191 469.9 199 468.8 207C467.7 215 465.1 223 465.6 231C466.1 239 460.7 251 472 255C483.3 259 523.3 255 533.6 255V256.9H-6Z" fill="#ffb914"/>
<path d="M500.8 89.6C502.4 83.1 504.8 80 507.2 80C509.6 80 513.3 84.3 515.2 89.6C517.1 94.9 517.6 105.8 518.4 112C519.2 118.2 520.3 120.5 520 127C519.7 133.5 518.9 144.3 516.8 151C514.7 157.7 510.1 167 507.2 167C504.3 167 500.8 159 499.2 151C497.6 143 497.3 129.2 497.6 119C497.9 108.8 499.2 96.1 500.8 89.6Z" fill="#ffb914"/>
<path d="M521.6 121.6C523.5 118.8 528.3 111.6 529.6 118.4C530.9 125.2 531.2 155.4 529.6 162.2C528 169 521.9 163.5 520 159C518.1 154.5 518.1 141.2 518.4 135C518.7 128.8 519.7 124.4 521.6 121.6Z" fill="#ffb914"/>
<path d="M-6 218.2C-5 218.2 -6.3 216.9 0 218.2C6.3 219.5 21.3 224.6 32 226.2C42.7 227.8 53.3 227.8 64 227.8C74.7 227.8 85.3 228.1 96 226.2C106.7 224.3 120 219 128 216.6C136 214.2 136 212.1 144 211.8C152 211.5 168 213.1 176 215C184 216.9 186.7 220.9 192 223C197.3 225.1 202.7 226.5 208 227.8C213.3 229.1 218.7 230.7 224 231C229.3 231.3 233.3 230.7 240 229.4C246.7 228.1 257.9 226.7 264 223C270.1 219.3 273.3 213.7 276.8 207C280.3 200.3 282.9 191 284.8 183C286.7 175 287.7 167 288 159C288.3 151 287.7 143 286.4 135C285.1 127 281.6 119.6 280 111C278.4 102.4 275.5 90 276.8 83.2C278.1 76.4 282.1 73.6 288 70.4C293.9 67.2 304 64.8 312 64C320 63.2 330.7 64.3 336 65.6C341.3 66.9 342.1 69.1 344 72C345.9 74.9 347.2 76.7 347.2 83.2C347.2 89.7 345.1 101 344 111C342.9 121 340.8 133.7 340.8 143C340.8 152.3 342.4 161.7 344 167C345.6 172.3 348.5 176.3 350.4 175C352.3 173.7 353.6 167 355.2 159C356.8 151 357.9 136.3 360 127C362.1 117.7 364.8 109.5 368 103C371.2 96.5 375.2 92.6 379.2 88C383.2 83.4 387.2 77.9 392 75.2C396.8 72.5 401.3 72.5 408 72C414.7 71.5 425.3 71.5 432 72C438.7 72.5 443.2 73.3 448 75.2C452.8 77.1 458.1 79.7 460.8 83.2C463.5 86.7 463.7 91.4 464 96C464.3 100.6 462.9 103.2 462.4 111C461.9 118.8 460.5 132.3 460.8 143C461.1 153.7 463.7 165.7 464 175C464.3 184.3 463.7 191 462.4 199C461.1 207 456.3 216.3 456 223C455.7 229.7 459.2 233.7 460.8 239C462.4 244.3 453.5 252.3 465.6 255C477.7 257.7 522.3 255 533.6 255V256.9H-6Z" fill="#ff910a"/>
<path d="M424 197.4C425.6 193.7 430.7 190.7 433.6 191C436.5 191.3 440.5 194.2 441.6 199C442.7 203.8 441.9 215.8 440 219.8C438.1 223.8 433.1 224.1 430.4 223C427.7 221.9 425.1 217.7 424 213.4C422.9 209.1 422.4 201.1 424 197.4Z" fill="#ffb914"/>
<path d="M-6 255C3 255 37.7 257.7 48 255C58.3 252.3 52 242.7 56 239C60 235.3 65.3 233.7 72 232.6C78.7 231.5 88 233.7 96 232.6C104 231.5 112 228.1 120 226.2C128 224.3 136 221.9 144 221.4C152 220.9 161.3 221.4 168 223C174.7 224.6 178.7 228.6 184 231C189.3 233.4 193.3 236.1 200 237.4C206.7 238.7 216 238.7 224 239C232 239.3 237.3 239 248 239C258.7 239 278.7 241.7 288 239C297.3 236.3 300.5 229.7 304 223C307.5 216.3 306.7 204.6 308.8 199C310.9 193.4 313.1 190.5 316.8 189.4C320.5 188.3 328 188.3 331.2 192.6C334.4 196.9 333.9 209.9 336 215C338.1 220.1 341.1 224.3 344 223C346.9 221.7 350.9 212.9 353.6 207C356.3 201.1 356.3 192.1 360 187.8C363.7 183.5 370.7 181.9 376 181.4C381.3 180.9 388 181.7 392 184.6C396 187.5 397.3 192.6 400 199C402.7 205.4 404 217.7 408 223C412 228.3 417.3 229.4 424 231C430.7 232.6 441.9 231.3 448 232.6C454.1 233.9 457.9 235.3 460.8 239C463.7 242.7 453.5 252.3 465.6 255C477.7 257.7 522.3 255 533.6 255V256.9H-6Z" fill="#ff640a"/>
<path d="M72 255C68 252.3 73.1 242.2 75.2 239C77.3 235.8 81.3 235.8 84.8 235.8C88.3 235.8 93.6 235.8 96 239C98.4 242.2 103.2 252.3 99.2 255C95.2 257.7 76 257.7 72 255Z" fill="#ff140a"/>
<path d="M110.4 255C107.2 251.8 110.4 239.8 112 235.8C113.6 231.8 117.3 231 120 231C122.7 231 126.1 231.8 128 235.8C129.9 239.8 134.1 251.8 131.2 255C128.3 258.2 113.6 258.2 110.4 255Z" fill="#ff140a"/>
<path d="M172.8 255C169.6 252.1 174.1 240.9 176 237.4C177.9 233.9 181.3 234.2 184 234.2C186.7 234.2 190.1 233.9 192 237.4C193.9 240.9 198.4 252.1 195.2 255C192 257.9 176 257.9 172.8 255Z" fill="#ff140a"/>
<path d="M380.8 231C380.8 223.5 382.1 214.5 384 210.2C385.9 205.9 389.3 204.9 392 205.4C394.7 205.9 397.3 208.3 400 213.4C402.7 218.5 404 231.5 408 235.8C412 240.1 417.3 239 424 239C430.7 239 441.9 235.3 448 235.8C454.1 236.3 458.4 239 460.8 242.2C463.2 245.4 475.2 252.9 462.4 255C449.6 257.1 397.6 259 384 255C370.4 251 380.8 238.5 380.8 231Z" fill="#ff140a"/>
<path d="M388.8 232.6C388.5 226.7 389.1 221.9 390.4 219.8C391.7 217.7 394.7 217.4 396.8 219.8C398.9 222.2 400 230.5 403.2 234.2C406.4 237.9 409.9 241.4 416 242.2C422.1 243 433.3 238.5 440 239C446.7 239.5 453.3 242.7 456 245.4C458.7 248.1 466.7 253.4 456 255C445.3 256.6 403.2 258.7 392 255C380.8 251.3 389.1 238.5 388.8 232.6Z" fill="#dc000a"/>
<path d="M390.4 239C389.1 236.1 392 232.1 393.6 231C395.2 229.9 398.1 230.7 400 232.6C401.9 234.5 404.5 239.5 404.8 242.2C405.1 244.9 404 249.1 401.6 248.6C399.2 248.1 391.7 241.9 390.4 239Z" fill="#ffb6b9"/>
<path d="M420.8 248.6C421.1 246.7 422.9 243.4 425.6 242.2C428.3 241 433.9 240.6 436.8 241.4C439.7 242.2 442.7 245 443.2 247C443.7 249 443.2 252.3 440 253.4C436.8 254.5 427.2 254.2 424 253.4C420.8 252.6 420.5 250.5 420.8 248.6Z" fill="#ffb6b9"/>
<path d="M472 199C472 193.9 472.8 191.3 476.8 189.4C480.8 187.5 490.1 187 496 187.8C501.9 188.6 509.1 189.7 512 194.2C514.9 198.7 511.7 210.2 513.6 215C515.5 219.8 522.1 220.1 523.2 223C524.3 225.9 523.2 231.3 520 232.6C516.8 233.9 509.3 231.8 504 231C498.7 230.2 492.5 229.7 488 227.8C483.5 225.9 479.5 224.6 476.8 219.8C474.1 215 472 204.1 472 199Z" fill="#fffaa5"/>
<path d="M92.8 178.2C93.6 175.4 98.1 170.7 104 168.6C109.9 166.5 118.7 165.7 128 165.4C137.3 165.1 152 167.3 160 167C168 166.7 170.7 163.8 176 163.8C181.3 163.8 188.9 165.4 192 167C195.1 168.6 195.7 171.3 194.4 173.4C193.1 175.5 189.7 178.2 184 179.8C178.3 181.4 166.7 182.6 160 183C153.3 183.4 149.3 181.4 144 182.2C138.7 183 133.3 186.3 128 187.8C122.7 189.3 116.8 191.4 112 191C107.2 190.6 102.4 187.5 99.2 185.4C96 183.3 92 181 92.8 178.2Z" fill="#bee1f5"/>
<path d="M142.4 251L143.2 223L145.6 203.8L150.4 194.2L155.2 203.8L157.6 223L158.4 251M145.6 251L146.4 226.2L148 210.2L150.4 202.2L152.8 210.2L154.4 226.2L155.2 251M148 251L148.8 231L150.4 213.4L152 231L152.8 251M160 251L161.6 215L166.4 200.6L172.8 205.4L176 223L177.6 251M166.4 251L168 223L170.4 211.8L173.6 223L174.4 251M204.8 251L206.4 219.8L209.6 205.4L214.4 200.6L217.6 215L218.4 251M209.6 251L211.2 223L213.6 210.2L216 223L216 251M128 251L129.6 223L132.8 207L137.6 200.6L140.8 207M0 203.8L4.8 207L9.6 203.8L12.8 208.6L14.4 223L11.2 239L4.8 247L0 251M3.2 216.6L5.6 223L4.8 235.8L2.4 239M224 251L225.6 223L228.8 207L233.6 216.6L236.8 231L240 219.8L243.2 213.4L248 223L251.2 239L256 231L262.4 216.6L264 213.4M264 239L270.4 240.6L278.4 239L283.2 229.4L286.4 216.6L289.6 199L291.2 175L293.6 143L295.2 119L296.8 104L300.8 80L307.2 64L315.2 56.8L323.2 56L327.2 52.8L331.2 58.4L337.6 57.6L342.4 60.8L347.2 60L353.6 56.8L360 53.6L364.8 52.8L368 57.6L367.2 72L364.8 89.6L361.6 108.8L359.2 126.4L360 134.4L362.4 121.6L364 136L364.8 147.8L368 165.4L370.4 155.8L372.8 135L375.2 114.2L379.2 89.6L383.2 70.4L388.8 68.8L393.6 67.2L396.8 72L400 80L403.2 75.2L404.8 89.6L406.4 104L409.6 107.2L412.8 89.6L415.2 72.8L417.6 83.2L418.4 112L416.8 143L417.6 191L419.2 223L420 251M312 156L312 112L313.6 99.2L318.4 91.2L324.8 81.6L328 80L331.2 86.4L334.4 94.4L337.6 99.2L341.6 94.4L344 98.4L346.4 96L348 108.8L348.8 144L348.8 159L351.2 191L353.6 200.6L356.8 191L360 197.4L361.6 207L366.4 210.2L369.6 199L372.8 184.6L376 178.2L379.2 181.4L382.4 162.2L384 143L383.2 139.8M312 155.8L312 143L310.4 159L304.8 147.8L303.2 130.2L300.8 122.2L299.2 127L298.4 155.8M324 156L324.8 112L327.2 104L329.6 112L330.4 156M324 155.8L323.5 191L324.8 231L321.6 239M330.4 155.8L329.6 159L331.2 178.2L328 207L327.2 232.6M386.4 70.4L387.2 96L388.8 121.6L392 112L396.8 92.8L399.2 83.2L401.6 99.2L404.8 121.6L406.4 144L406.4 147.8L408 175L409.6 213.4L412.8 223L414.4 239L417.6 251M395.2 111L396.8 143L398.4 175L400 207L401.6 223L404.8 232.6L408 223M451.2 251L448 239L444.8 223L440 216.6L436.8 219.8L432 216.6L432.8 191L433.6 159L436.8 146.2L441.6 135L444.8 119L446.4 96L448 67.2L451.2 56L454.4 55.2L457.6 60.8L462.4 65.6L464.8 76.8L466.4 96L465.6 120L464 144L463.2 175L462.4 207L461.6 231L460.8 251M456 159L451.2 119L451.2 120L453.6 96L456 87.2L459.2 96L460.8 120L460 144L459.2 159L457.6 207L456 239M480 123.8L480 159L481.6 191L483.2 219.8L486.4 215L489.6 216.6L494.4 223L499.2 235.8L502.4 207L504 175L505.6 143L508.8 127L510.4 135L512.8 151L515.2 127L517.6 136L516.8 112L515.2 94.4L510.4 91.2L507.2 80L504 75.2L500 80L497.6 104L494.4 128L491.2 137.6L488 140.8L484.8 139.8L481.6 127L480 123.8M500.8 144L502.4 128L504 147.2M475.2 231L477.6 234.2L476.8 240.6L474.4 241.4M332.8 147.8L333.6 165.4L332.8 178.2L332 165.4L332.8 147.8M451.2 152.6L451.5 165.4M356.8 251L358.4 207L361.6 194.2M334.4 251L336 223L339.2 207L344 219.8L347.2 213.4L353.6 216.6L356.8 231M427.2 229.4L430.4 232.6L431.2 239L428.8 237.4L427.2 229.4M36.9 251L38.6 245.5L41.1 241.8L43.7 245.9L45.4 251M51.9 251L53.1 237.6L55 228.6L57 238.7L58.2 251M122.7 251L123.5 237.6L124.8 228.6L126 238.7L126.9 251M27.8 251L29.2 236.9L31.2 227.5L33.3 238.1L34.6 251M125.2 251L126.2 242.1L127.5 236.2L128.9 242.9L129.8 251M80.8 251L82 238.3L83.7 229.8L85.4 239.3L86.5 251M245.3 251L246.4 230.3L248.1 216.5L249.8 232L250.9 251M149.9 251L151.8 231.7L154.7 218.8L157.5 233.3L159.4 251M151 251L152.8 227.9L155.6 212.5L158.3 229.8L160.1 251M206.1 251L207 237.4L208.5 228.4L209.9 238.5L210.9 251M132.3 251L133.4 227.7L135 212.1L136.7 229.6L137.8 251M217.2 251L219 240.4L221.6 233.3L224.2 241.3L226 251M204.9 251L206 239.7L207.5 232.2L209.1 240.7L210.1 251M220.9 251L222 243.8L223.6 238.9L225.3 244.4L226.4 251M198.9 251L200.4 229.7L202.7 215.4L205 231.4L206.5 251M163.8 251L164.8 228.5L166.4 213.5L168 230.4L169.1 251M128.8 251L130.1 240.2L132.2 232.9L134.2 241.1L135.5 251M134.7 251L136 241.8L137.9 235.7L139.7 242.6L141 251M439.1 251L440.3 244.5L442.2 240.1L444.1 245L445.3 251M459 251L460.5 233.3L462.9 221.4L465.3 234.7L466.9 251M447.4 251L448.4 238.5L449.9 230.1L451.4 239.5L452.4 251M402.6 251L404.5 246L407.3 242.6L410.1 246.4L411.9 251M448.4 251L449.3 233.5L450.6 221.8L451.9 235L452.7 251" fill="none" stroke="#000" stroke-width="1.6" stroke-linejoin="round" stroke-linecap="round"/>
<path d="M39.2 99.2L37.6 105.6L36 115.2L40 121.6L44.8 128L49.6 139.2L54.4 150.4L54.4 147.8L56.8 159L60 155.8L62.4 163.8L60.8 170.2L56.8 171.8L56 184.6L55.2 191M41.6 100L44.8 108.8L48 115.2L54.4 116L60.8 114.4L65.6 112L68.8 113.6L72 110.4L76 110.4L77.6 116.8L76 121.6L74.4 128L74.4 140.8L76 148.8L80 152M89.6 159L92.8 163.8L96 159L97.6 167L92.8 175L89.6 171.8L84.8 184.6L80.8 189.4L78.4 197.4L80 207M0 138.2L4.8 141.4L7.2 159L9.6 171.8L12 181.4L14.4 189.4M20.8 136.6L21.6 147.8L20.8 157.4M0 173.4L4.8 184.6L8 189.4L12.8 186.2L16 189.4L19.2 181.4M137.6 155.8L136.8 135L139.2 125.4L144 122.2L149.6 123.8L151.2 128.6L156.8 133.4L161.6 141.4L163.2 151L160 162.2L155.2 167L150.4 165.4L146.4 168.6L140.8 162.2M145.6 127L144.8 143L144 154.2M192 184.6L198.4 183L201.6 175L200 165.4L197.6 155.8L196 135L198.4 123.8L206.4 119.8L212 114.2L213.6 101.4L214.4 89.6L217.6 83.2L223.2 82.4L227.2 88L231.2 92L238.4 87.2L244.8 89.6L249.6 95.2L256 92L260 99.2L262.4 108.8L265.6 121.6L268.8 132.8M273.6 144L278.4 152L280 162.2L281.6 171.8L282.4 184.6L280 191L276.8 187.8M252.8 123.8L252.8 143L253.6 162.2L257.6 170.2L262.4 168.6M115.2 189.4L117.6 175L121.6 170.2L128 165.4L130.4 157.4L132.8 168.6L137.6 173.4L142.4 179.8L144 186.2M102.4 239L104 216.6L110.4 199L118.4 194.2L128 197.4L132.8 194.2M89.6 207L92.8 216.6L86.4 226.2L80 239M40 251L40.8 223L43.2 199L48 197.4L52.8 191M64 199L68.8 205.4L73.6 210.2L78.4 207M180.8 251L181.6 207L180.8 191M240 207L243.2 197.4L249.6 194.2M264 159L268.8 167L273.6 181.4M270.4 191L271.2 215L270.4 227.8M424 139.8L426.4 143L427.2 159L424.8 167L423.2 159L423.2 146.2L424 139.8M472 99.2L473.6 112L475.2 128L476 144L476 147.8L476.8 155.8M464 151L462.4 167L464 184.6L467.2 199L470.4 205.4M468.8 162.2L470.4 178.2L472 194.2L473.6 207M424 139.2L424 156M427.2 140.8L428 156M56.9 251L58.7 233.2L61.5 221.4L64.4 234.7L66.2 251M59.5 251L61 234.3L63.2 223.2L65.5 235.7L67 251M24.2 251L25.8 234.2L28.1 223.1L30.4 235.6L31.9 251M101.2 251L102.4 243L104.1 237.7L105.9 243.7L107.1 251M12.3 251L13.9 228L16.3 212.7L18.8 229.9L20.4 251M5.4 251L7.4 224.4L10.2 206.6L13.1 226.6L15 251M84.2 251L85.2 232.1L86.7 219.5L88.3 233.7L89.3 251M4.6 251L5.5 233.9L6.9 222.5L8.2 235.3L9.1 251M26.6 251L27.5 239.9L28.8 232.5L30.1 240.8L31 251M58.5 251L60.3 235.7L63 225.6L65.7 237L67.5 251M66.4 251L67.8 231.6L69.9 218.6L72 233.2L73.4 251M84.9 251L86.1 235.4L87.8 225L89.5 236.7L90.7 251M125.3 251L127 224.1L129.7 206.2L132.4 226.3L134.2 251M90.7 251L91.8 238.4L93.5 230L95.1 239.4L96.2 251M110 251L111.9 238L114.8 229.4L117.7 239.1L119.6 251M226.1 251L227.2 242.5L228.9 236.9L230.5 243.2L231.7 251M112.8 251L114.6 243.7L117.2 238.9L119.8 244.3L121.5 251M126.9 251L128.2 233.3L130.2 221.4L132.2 234.7L133.6 251M129.9 251L130.9 229.6L132.4 215.4L133.9 231.4L134.9 251M206.2 251L207.5 242.6L209.4 236.9L211.4 243.3L212.7 251M131.4 251L133.3 239.3L136.2 231.6L139.1 240.3L141 251M232 251L233.8 238.6L236.6 230.4L239.3 239.6L241.2 251M131.3 251L133.1 236.7L135.8 227.2L138.5 237.9L140.3 251M204.2 251L206.2 242.9L209.1 237.5L212 243.6L214 251M132 251L133.7 239.6L136.3 232L138.8 240.5L140.5 251M153.6 251L154.5 238.8L155.9 230.6L157.3 239.8L158.2 251M112.5 251L113.7 232.8L115.3 220.6L117 234.3L118.1 251M198.8 251L200.2 237.2L202.2 228L204.2 238.3L205.6 251M259.3 251L260.8 234.8L263.1 224.1L265.3 236.2L266.8 251M244.8 251L245.8 241.2L247.3 234.6L248.8 242L249.8 251" fill="none" stroke="#000" stroke-width="1.6" stroke-linejoin="round" stroke-dasharray="9.5 4.5"/>
<text x="84" y="150.4" font-size="9" text-anchor="middle" transform="rotate(70 84 150.4)">05</text>
<text x="56" y="195" font-size="9" text-anchor="middle" transform="rotate(70 56 195)">02</text>
<text x="148" y="159" font-size="9" text-anchor="middle" transform="rotate(80 148 159)">05</text>
<text x="197.6" y="189.4" font-size="9" text-anchor="middle" transform="rotate(30 197.6 189.4)">.02</text>
<text x="271.2" y="140.8" font-size="9" text-anchor="middle" transform="rotate(60 271.2 140.8)">02</text>
<text x="250.4" y="187.8" font-size="9" text-anchor="middle" transform="rotate(70 250.4 187.8)">02</text>
<text x="315.5" y="93.6" font-size="9" text-anchor="middle" transform="rotate(60 315.5 93.6)">06</text>
<text x="458.4" y="129.6" font-size="9" text-anchor="middle" transform="rotate(90 458.4 129.6)">06</text>
<text x="361.6" y="210.2" font-size="9" text-anchor="middle" transform="rotate(80 361.6 210.2)">06</text>
<path d="M304 251.8L307.2 242.2L316.8 237.4L328 234.2L344 234.2L353.6 235.8L363.2 232.6L368 226.2L376 223L382.4 224.6L388.8 231L392 235.8L400 242.2L408 245.4L416 251.8Z" fill="#000"/>
<path d="M12.8 251.8L24 246.2L48 245.1L80 246.2L112 247.3L136 246.2L152 244.6L168 245.4L192 247.3L224 248.1L264 248.9L264 251.8Z" fill="#000"/>
<path d="M264 248.9L304 249.4L304 251.8L264 251.8Z" fill="#000"/>
<path d="M416 250.2L440 249.4L456 250.5L456 251.8L416 251.8Z" fill="#000"/>
</g>
<rect x="0" y="0" width="527.6" height="250.9" fill="none" stroke="#000" stroke-width="1.6"/>
</g>
<path d="M873.8 78.2H886.8M873.8 109.8H886.8M873.8 145.3H886.8M873.8 170.5H886.8M873.8 190.2H886.8M873.8 206.2H886.8M873.8 231.5H886.8M873.8 250.9H886.8M873.8 280.5H886.8M873.8 297.4H886.8M1414.4 112.4H1427.9M1414.4 167.4H1427.9M1414.4 220.9H1427.9M1414.4 268.9H1427.9M941.5 309.9V316.9M998.3 309.9V316.9M1055.1 309.9V323.4M1111.9 309.9V316.9M1168.7 309.9V316.9M1225.5 309.9V323.4M1282.3 309.9V316.9M1339.1 309.9V316.9M1395.8 309.9V323.4" stroke="#000" stroke-width="1.3" fill="none"/>
<text font-size="25" text-anchor="end" transform="translate(856.5 118.9) scale(1 1.043)">100</text>
<text font-size="25" text-anchor="end" transform="translate(856.5 179.6) scale(1 1.043)">200</text>
<text font-size="25" text-anchor="end" transform="translate(856.5 215.3) scale(1 1.043)">300</text>
<text font-size="25" text-anchor="end" transform="translate(856.5 260) scale(1 1.043)">500</text>
<text font-size="25" text-anchor="end" transform="translate(856.5 306.5) scale(1 1.043)">850</text>
<text font-size="25" text-anchor="start" transform="translate(1443.9 121.8) scale(1 1.043)">16</text>
<text font-size="25" text-anchor="start" transform="translate(1443.9 176.8) scale(1 1.043)">12</text>
<text font-size="25" text-anchor="start" transform="translate(1443.9 230.3) scale(1 1.043)">8</text>
<text font-size="25" text-anchor="start" transform="translate(1443.9 278.3) scale(1 1.043)">4</text>
<text font-size="41" text-anchor="start" transform="translate(885.3 48.4) scale(1 1.043)">b</text>
<g transform="translate(213.2 366.6)">
<g clip-path="url(#cpc)">
<rect x="-2" y="-2" width="532.1" height="254.9" fill="#1e0afa"/>
<path d="M-6 6.4C-5 6.4 -9 6.3 0 6.4C9 6.5 30.7 6.8 48 7.2C65.3 7.6 85.3 9.2 104 8.8C122.7 8.4 140 5.9 160 4.8C180 3.7 206.7 2.8 224 2.4C241.3 2 241.3 2.1 264 2.4C286.7 2.7 333.3 3.2 360 4C386.7 4.8 405.3 6.4 424 7.2C442.7 8 454.7 8.8 472 8.8C489.3 8.8 517.6 7.5 528 7.2C538.4 6.9 533.1 7.2 534.1 7.2V256.9H-6Z" fill="#3250e6"/>
<path d="M-6 64C-5 64 -3.7 63.7 0 64C3.7 64.3 10.7 64.3 16 65.6C21.3 66.9 28 68.8 32 72C36 75.2 34.7 82.7 40 84.8C45.3 86.9 58.7 86.1 64 84.8C69.3 83.5 66.7 79.5 72 76.8C77.3 74.1 86.7 70.5 96 68.8C105.3 67.1 117.3 66.7 128 66.4C138.7 66.1 149.3 66.3 160 67.2C170.7 68.1 182.7 69.3 192 72C201.3 74.7 208 79.2 216 83.2C224 87.2 233.3 92.7 240 96C246.7 99.3 252.1 102.5 256 103.2C259.9 103.9 263.2 101.7 263.2 100C263.2 98.3 259.9 95.6 256 92.8C252.1 90 245.3 86.7 240 83.2C234.7 79.7 228 76.3 224 72C220 67.7 216 61.3 216 57.6C216 53.9 220 51.6 224 49.6C228 47.6 233.3 46.1 240 45.6C246.7 45.1 256 46.8 264 46.4C272 46 280 44.3 288 43.2C296 42.1 304 40.8 312 40C320 39.2 328 38.4 336 38.4C344 38.4 350.7 38.9 360 40C369.3 41.1 381.3 43.2 392 44.8C402.7 46.4 413.3 48.5 424 49.6C434.7 50.7 448 50.7 456 51.2C464 51.7 466.7 51.5 472 52.8C477.3 54.1 482.7 57.1 488 59.2C493.3 61.3 497.3 63.7 504 65.6C510.7 67.5 523 69.6 528 70.4C533 71.2 533.1 70.4 534.1 70.4V256.9H-6Z" fill="#327deb"/>
<path d="M516 94C517.5 90 519.3 89 522 88C524.7 87 530.3 72.7 532 88C533.7 103.3 533.3 165 532 180C530.7 195 526.3 180.3 524 178C521.7 175.7 519.7 172.3 518 166C516.3 159.7 514.8 149 514 140C513.2 131 512.7 119.7 513 112C513.3 104.3 514.5 98 516 94Z" fill="#3250e6"/>
<path d="M-6 104.6C-5 104.6 -3.7 103.3 0 104.6C3.7 105.9 10.7 108.9 16 112.6C21.3 116.3 26.7 123 32 127C37.3 131 42.7 134.2 48 136.6C53.3 139 58.7 140.1 64 141.4C69.3 142.7 74.7 144.3 80 144.6C85.3 144.9 92 144.3 96 143C100 141.7 101.3 140.3 104 136.6C106.7 132.9 110.1 125.9 112 120.6C113.9 115.3 113.1 109.2 115.2 104.6C117.3 100 121.3 95.2 124.8 92.8C128.3 90.4 132.3 90.1 136 90.4C139.7 90.7 144.3 92.1 147.2 94.4C150.1 96.7 152.8 99.6 153.6 104C154.4 108.4 152 115.2 152 120.6C152 126 152.3 130.7 153.6 136.6C154.9 142.5 156.3 151.3 160 155.8C163.7 160.3 170.7 161.9 176 163.8C181.3 165.7 188 165.9 192 167C196 168.1 196 169.3 200 170.4C204 171.5 210.7 172.7 216 173.6C221.3 174.5 228 175.9 232 176C236 176.1 237.3 175.7 240 174.4C242.7 173.1 245 170.4 248 168C251 165.6 254 162.7 258 160C262 157.3 267.7 155.3 272 152C276.3 148.7 281.3 144.5 284 140C286.7 135.5 287.5 130 288 125C288.5 120 287 114.8 287 110C287 105.2 287.8 101 288 96C288.2 91 286.7 84.8 288 80C289.3 75.2 292 70.9 296 67.2C300 63.5 305.3 59.7 312 57.6C318.7 55.5 328 54.7 336 54.4C344 54.1 350.7 54.7 360 56C369.3 57.3 381.3 59.7 392 62.4C402.7 65.1 414.7 69.6 424 72C433.3 74.4 440 74.7 448 76.8C456 78.9 465.3 81.1 472 84.8C478.7 88.5 484 94.7 488 99.2C492 103.7 493.3 107.2 496 112C498.7 116.8 501.9 122.7 504 128C506.1 133.3 508 140.2 508.8 144C509.6 147.8 508.5 145.8 508.8 151C509.1 156.2 509.6 167 510.4 175C511.2 183 512 192.1 513.6 199C515.2 205.9 517.6 212.6 520 216.6C522.4 220.6 525.6 221.9 528 223C530.4 224.1 533.1 223 534.1 223V256.9H-6Z" fill="#19a0f5"/>
<path d="M-6 141.4C-5 141.4 -2.3 140.3 0 141.4C2.3 142.5 5.3 143.5 8 147.8C10.7 152.1 13.3 161.7 16 167C18.7 172.3 20 176.1 24 179.8C28 183.5 34.7 187.3 40 189.4C45.3 191.5 50.7 192.3 56 192.6C61.3 192.9 66.7 192.3 72 191C77.3 189.7 82.7 186.7 88 184.6C93.3 182.5 98.7 179.3 104 178.2C109.3 177.1 113.3 177.1 120 178.2C126.7 179.3 137.3 182.5 144 184.6C150.7 186.7 154.7 189.4 160 191C165.3 192.6 168 193.1 176 194.2C184 195.3 201.3 197.5 208 197.4C214.7 197.3 212 194 216 193.6C220 193.2 226.7 194.8 232 195.2C237.3 195.6 244 196.3 248 196C252 195.7 253.3 194.8 256 193.6C258.7 192.4 261.3 190.4 264 188.8C266.7 187.2 269.3 185.6 272 184C274.7 182.4 277.3 181.9 280 179.2C282.7 176.5 286 171.2 288 168C290 164.8 290 163 292 160C294 157 297.7 154.2 300 150C302.3 145.8 305 140 306 135C307 130 306.3 125 306 120C305.7 115 304.3 110.1 304 105C303.7 99.9 302.7 94.6 304 89.6C305.3 84.6 308 79.2 312 75.2C316 71.2 321.3 67.5 328 65.6C334.7 63.7 344 63.5 352 64C360 64.5 366.7 66.1 376 68.8C385.3 71.5 400 76.8 408 80C416 83.2 418.7 85.6 424 88C429.3 90.4 433.3 92.5 440 94.4C446.7 96.3 457.3 96.5 464 99.2C470.7 101.9 476 106.1 480 110.4C484 114.7 485.3 119.2 488 124.8C490.7 130.4 494.4 139.6 496 144C497.6 148.4 496.8 145.8 497.6 151C498.4 156.2 499.5 167 500.8 175C502.1 183 503.5 191.5 505.6 199C507.7 206.5 510.7 214.5 513.6 219.8C516.5 225.1 520.8 228.6 523.2 231C525.6 233.4 526.2 233.7 528 234.2C529.8 234.7 533.1 234.2 534.1 234.2V256.9H-6Z" fill="#28bef8"/>
<path d="M-6 184.6C-5 184.6 -3.7 183.8 0 184.6C3.7 185.4 10.7 187.8 16 189.4C21.3 191 26.7 192.6 32 194.2C37.3 195.8 42.7 197.9 48 199C53.3 200.1 58.7 200.9 64 200.6C69.3 200.3 74.7 198.7 80 197.4C85.3 196.1 90.7 193.9 96 192.6C101.3 191.3 106.7 189.4 112 189.4C117.3 189.4 122.7 191 128 192.6C133.3 194.2 138.7 197.1 144 199C149.3 200.9 154.7 202.7 160 203.8C165.3 204.9 168 204.9 176 205.4C184 205.9 201.3 207.1 208 207C214.7 206.9 212 205.2 216 204.8C220 204.4 226.7 205.1 232 204.8C237.3 204.5 243.3 204.1 248 203C252.7 201.9 256 199.6 260 198C264 196.4 268 195.6 272 193.6C276 191.6 280.7 189.6 284 186C287.3 182.4 290 175.7 292 172C294 168.3 294 166.3 296 164C298 161.7 300.7 160.3 304 158C307.3 155.7 312.7 153.8 316 150C319.3 146.2 322.5 140.8 324 135C325.5 129.2 325 120.8 325 115C325 109.2 324 103.2 324 100C324 96.8 323.3 98.8 324.8 96C326.3 93.2 329.6 86.4 332.8 83.2C336 80 339.5 77.6 344 76.8C348.5 76 354.7 76.8 360 78.4C365.3 80 370.7 83.2 376 86.4C381.3 89.6 386.7 94.1 392 97.6C397.3 101.1 401.3 104.3 408 107.2C414.7 110.1 424 113.3 432 115.2C440 117.1 449.3 116.3 456 118.4C462.7 120.5 468 123.7 472 128C476 132.3 478.1 140.2 480 144C481.9 147.8 481.9 145.8 483.2 151C484.5 156.2 485.9 167 488 175C490.1 183 493.1 191.5 496 199C498.9 206.5 502.4 213.9 505.6 219.8C508.8 225.7 511.5 230.5 515.2 234.2C518.9 237.9 524.9 240.9 528 242.2C531.1 243.5 533.1 242.2 534.1 242.2V256.9H-6Z" fill="#96d2f0"/>
<path d="M256 203.2C258.7 202 266.7 198.1 272 196C277.3 193.9 284 193.1 288 190.4C292 187.7 294 182.8 296 180C298 177.2 298 174.9 300 173.6C302 172.3 305 172.9 308 172C311 171.1 314 170 318 168C322 166 327.7 163 332 160C336.3 157 341 154.2 344 150C347 145.8 348.8 140 350 135C351.2 130 351 125 351 120C351 115 350.1 108.5 350 105C349.9 101.5 349.3 101.8 350.4 99.2C351.5 96.6 354.1 90.7 356.8 89.6C359.5 88.5 364.3 89.6 366.4 92.8C368.5 96 368 104.5 369.6 108.8C371.2 113.1 372.3 116 376 118.4C379.7 120.8 386.7 121.9 392 123.2C397.3 124.5 400 125.6 408 126.4C416 127.2 430.7 126.9 440 128C449.3 129.1 458.1 130.1 464 132.8C469.9 135.5 472.8 141 475.2 144C477.6 147 477.1 145.8 478.4 151C479.7 156.2 481.1 167 483.2 175C485.3 183 488.3 191.5 491.2 199C494.1 206.5 497.6 213.9 500.8 219.8C504 225.7 507.2 230.2 510.4 234.2C513.6 238.2 516.8 241.4 520 243.8C523.2 246.2 528 246.7 529.6 248.6C531.2 250.5 573.9 253.9 529.6 255C485.3 256.1 309.9 254.8 264 255C218.1 255.2 255.7 261 254 256C252.3 251 254 230.2 254 225Z" fill="#fffac8"/>
<path d="M254 258C254.2 251.8 253 228.8 255 221C257 213.2 261.8 215.2 266 211C270.2 206.8 275 199.5 280 196C285 192.5 290.7 191.8 296 190C301.3 188.2 306.7 186.6 312 185C317.3 183.4 324 182.7 328 180.5C332 178.3 332.7 175.4 336 172C339.3 168.6 344 163.2 348 160C352 156.8 355.3 154.8 360 153C364.7 151.2 370.7 149.9 376 149C381.3 148.1 384 147.6 392 147.5C400 147.4 413.3 148.2 424 148.5C434.7 148.8 449 149 456 149.4C463 149.8 463.3 149.9 466 151C468.7 152.1 469.7 151.8 472 155.8C474.3 159.8 477.3 167.8 480 175C482.7 182.2 485.3 191 488 199C490.7 207 493.3 216.3 496 223C498.7 229.7 501.3 234.2 504 239C506.7 243.8 510.3 248.8 512 252C513.7 255.2 513.7 257 514 258Z" fill="#ffe146"/>
<path d="M253.7 258C254 251.6 253.6 228.2 256 219.5C258.4 210.8 264 209.7 268 206C272 202.3 275.3 199.7 280 197.6C284.7 195.5 290.7 194.7 296 193.5C301.3 192.3 306.7 191.9 312 190.4C317.3 188.9 322.7 186.1 328 184.6C333.3 183.1 338.7 182.8 344 181.5C349.3 180.2 354.7 177.5 360 176.6C365.3 175.7 370.7 175.7 376 176C381.3 176.3 386.7 177.4 392 178.2C397.3 179 402.7 179.8 408 180.6C413.3 181.4 418.7 182.4 424 183C429.3 183.6 434.7 183.7 440 184C445.3 184.3 451.7 184.1 456 184.6C460.3 185.1 462.8 186 466 187C469.2 188 472.1 188.7 475.3 190.6C478.6 192.5 482.5 195.4 485.5 198.5C488.5 201.6 490.8 204.5 493.5 209.2C496.2 213.9 499.3 219.4 501.5 226.5C503.7 233.6 505.5 246.8 506.5 252C507.5 257.2 507.3 257 507.5 258Z" fill="#ffbe1e"/>
<path d="M253.8 258C254.2 251.7 253.6 228.3 256 220C258.4 211.7 264 211.3 268 208C272 204.7 275.3 202.1 280 200.1C284.7 198.1 290.7 197 296 195.9C301.3 194.8 306.7 194.8 312 193.4C317.3 192.1 322.7 188.8 328 187.8C333.3 186.8 338.7 187.3 344 187.3C349.3 187.3 354.7 187.8 360 187.8C365.3 187.8 370.7 187.5 376 187.5C381.3 187.5 386.7 187.4 392 187.8C397.3 188.2 402.7 189.2 408 189.8C413.3 190.4 418.7 190.9 424 191.4C429.3 191.9 434.7 192.3 440 192.8C445.3 193.3 451.7 193.8 456 194.2C460.3 194.7 463 194.9 466 195.5C469 196.1 471.3 196.3 474.3 197.6C477.2 198.9 480.9 201.1 483.8 203.5C486.7 205.9 489.1 208.1 491.8 212.2C494.5 216.3 497.6 221.4 499.8 228C502 234.6 503.8 247 504.8 252C505.8 257 505.6 257 505.8 258Z" fill="#ff8c0a"/>
<path d="M254 258C254.3 251.8 253.7 228.5 256 220.5C258.3 212.5 264 212.8 268 210C272 207.2 275.3 205.4 280 203.6C284.7 201.8 290.7 200.2 296 198.9C301.3 197.6 306.7 197.2 312 196C317.3 194.8 322.7 192.2 328 191.4C333.3 190.6 338.7 191 344 191.1C349.3 191.2 354.7 191.5 360 191.8C365.3 192 370.7 192.2 376 192.6C381.3 193 386.7 193.7 392 194.2C397.3 194.7 402.7 195.1 408 195.4C413.3 195.7 418.7 196 424 196.2C429.3 196.4 434.7 196.6 440 196.8C445.3 197 451.7 196.9 456 197.4C460.3 197.9 463.1 199.1 466 200C468.9 200.9 470.8 201.7 473.6 203.1C476.3 204.5 479.8 206.4 482.6 208.5C485.4 210.6 487.9 212.1 490.6 215.7C493.3 219.3 496.4 223.9 498.6 230C500.8 236.1 502.6 247.3 503.6 252C504.6 256.7 504.4 257 504.6 258Z" fill="#ff460a"/>
<path d="M254.1 258C254.4 251.8 253.7 228.8 256 221C258.3 213.2 264 214 268 211.5C272 209 275.3 207.7 280 206C284.7 204.3 290.7 202.4 296 201.1C301.3 199.8 306.7 199.2 312 198.2C317.3 197.1 322.7 195.4 328 194.8C333.3 194.2 338.7 194.6 344 194.7C349.3 194.8 354.7 195 360 195.4C365.3 195.8 370.7 196.4 376 197C381.3 197.6 386.7 198.5 392 199C397.3 199.5 402.7 199.7 408 200C413.3 200.3 418.7 200.4 424 200.6C429.3 200.8 434.7 201 440 201.2C445.3 201.4 451.7 201.2 456 201.8C460.3 202.4 463.2 203.5 466 204.5C468.8 205.5 470.4 206.3 473 207.6C475.6 208.9 478.8 210.6 481.6 212.5C484.4 214.4 486.9 215.8 489.6 219.2C492.3 222.6 495.4 227.5 497.6 233C499.8 238.5 501.6 247.8 502.6 252C503.6 256.2 503.4 257 503.6 258Z" fill="#f00a0a"/>
<path d="M254.2 258C254.5 251.9 253.7 229 256 221.5C258.3 214 264 215.1 268 212.8C272 210.6 275.3 209.7 280 208C284.7 206.3 290.7 204.2 296 202.9C301.3 201.6 306.7 200.9 312 200C317.3 199.1 322.7 197.8 328 197.4C333.3 197 338.7 197.5 344 197.7C349.3 197.9 354.7 197.9 360 198.4C365.3 198.9 370.7 200 376 200.8C381.3 201.6 386.7 202.7 392 203.4C397.3 204.1 402.7 204.4 408 204.8C413.3 205.2 418.7 205.7 424 206.1C429.3 206.5 434.7 206.9 440 207.4C445.3 207.8 451.7 208.2 456 208.8C460.3 209.4 463.3 210.2 466 211C468.7 211.8 470 212.5 472.4 213.6C474.9 214.7 478 215.9 480.7 217.5C483.4 219.1 486 220.1 488.7 223.2C491.4 226.3 494.5 231.2 496.7 236C498.9 240.8 500.7 248.3 501.7 252C502.7 255.7 502.5 257 502.7 258Z" fill="#cd1919"/>
<path d="M254.4 258C254.7 252 253.7 229.3 256 222C258.3 214.7 264 216.1 268 214C272 211.9 275.3 211.2 280 209.6C284.7 208 290.7 205.8 296 204.5C301.3 203.2 306.7 202.5 312 201.6C317.3 200.7 322.7 199.3 328 199C333.3 198.7 338.7 199.2 344 199.5C349.3 199.8 354.7 200 360 200.6C365.3 201.2 370.7 202.2 376 203C381.3 203.8 386.7 204.7 392 205.4C397.3 206.1 402.7 206.5 408 207C413.3 207.5 418.7 208.1 424 208.6C429.3 209.1 434.7 209.7 440 210.2C445.3 210.7 451.7 211.2 456 211.8C460.3 212.4 463.3 213.2 466 214C468.7 214.8 469.7 215.5 472 216.6C474.3 217.7 477.3 218.9 480 220.5C482.7 222.1 485.3 223.1 488 226.2C490.7 229.3 493.8 234.7 496 239C498.2 243.3 500 248.8 501 252C502 255.2 501.8 257 502 258Z" fill="#ffb6b9"/>
<path d="M0 199C3.7 197.1 10.7 199.5 16 200.6C21.3 201.7 26.7 204.3 32 205.4C37.3 206.5 43.5 206.2 48 207C52.5 207.8 57.1 208.1 59.2 210.2C61.3 212.3 62.7 216.9 60.8 219.8C58.9 222.7 52.8 225.9 48 227.8C43.2 229.7 37.3 230.7 32 231C26.7 231.3 21.3 230.7 16 229.4C10.7 228.1 3.7 225.9 0 223C-3.7 220.1 -6.4 215.8 -6.4 211.8C-6.4 207.8 -3.7 200.9 0 199Z" fill="#fffac8"/>
<path d="M84.8 227.8C84.8 223 86.4 213.7 89.6 210.2C92.8 206.7 98.9 206.5 104 207C109.1 207.5 114.7 210.2 120 213.4C125.3 216.6 132 221.9 136 226.2C140 230.5 145.3 235.5 144 239C142.7 242.5 134.7 246.2 128 247C121.3 247.8 110.4 245.1 104 243.8C97.6 242.5 92.8 241.7 89.6 239C86.4 236.3 84.8 232.6 84.8 227.8Z" fill="#fffac8"/>
<path d="M160 223C160 221.4 164 220.1 168 219.8C172 219.5 181.6 220.1 184 221.4C186.4 222.7 185.1 226.5 182.4 227.8C179.7 229.1 171.7 230.2 168 229.4C164.3 228.6 160 224.6 160 223Z" fill="#fffac8"/>
<path d="M224 238C219.6 235.7 224.3 227.7 225.6 224C226.9 220.3 229.3 218 232 216C234.7 214 238.4 212.8 241.6 212C244.8 211.2 249.3 209.7 251.2 211.2C253.1 212.7 252.7 216.3 252.8 220.8C252.9 225.3 256.8 235.1 252 238C247.2 240.9 228.4 240.3 224 238Z" fill="#fffac8"/>
<path d="M24 255C15.5 252.3 26.7 242.5 32 239C37.3 235.5 48 234.2 56 234.2C64 234.2 75.5 235.5 80 239C84.5 242.5 92.5 252.3 83.2 255C73.9 257.7 32.5 257.7 24 255Z" fill="#28bef8"/>
<path d="M102.4 248.6C101.3 246.2 104 241.1 105.6 239C107.2 236.9 109.6 235.8 112 235.8C114.4 235.8 118.1 236.9 120 239C121.9 241.1 124.5 246.2 123.2 248.6C121.9 251 115.5 253.4 112 253.4C108.5 253.4 103.5 251 102.4 248.6Z" fill="#ffe146"/>
<path d="M107.2 248.6C106.7 246.7 107.9 243.7 108.8 242.2C109.7 240.7 111.5 239.7 112.8 239.8C114.1 239.9 115.9 241.3 116.8 243C117.7 244.7 119.2 248.5 118.4 250.2C117.6 251.9 113.9 253.7 112 253.4C110.1 253.1 107.7 250.5 107.2 248.6Z" fill="#ff8c0a"/>
<path d="M110.4 251C109.7 250.1 110.7 246.5 111.2 245.4C111.7 244.3 112.9 243.7 113.6 244.6C114.3 245.5 115.7 249.9 115.2 251C114.7 252.1 111.1 251.9 110.4 251Z" fill="#f00a0a"/>
<path d="M0 118.4L9.6 112.8L17.6 100.5L21.6 108.8L25.6 114.4L29.6 115.2L34.4 110.4L38.4 104L42.4 112L46.4 120L50.4 110.4L54.4 112.8L59.2 121.6L64 128L68 137.6L70.4 156L71.2 175L72 199L73.6 216.6L72.8 231L70.4 239L72.3 251M24 251L22.4 239L20.8 216.6L20 197.4L17.6 175L16.8 155.8L17.9 141.4L20.8 128.6L24 136.6L26.4 144.6L29.6 150.2L33.6 147.8L37.6 143.8L41.6 143L45.6 147.8L48 162.2L49.6 184.6L50.4 207L52 226.2L55.2 235.8L58.4 226.2L59.5 207L62.4 191L61.6 171.8L60 159L56 144.6L52.8 143L51.2 152.6L51.5 171.8L53.6 181.4L56 175L58.4 181.4L60.8 170.2M21.6 162.2L22.4 178.2L21.6 191L20.5 178.2L21.6 162.2M0 200.6L6.4 207L11.2 211.8L16 201.4L20 205.4L24 207L28 199L32 197.4L36.8 200.6L39.2 207L40 223L42.4 235.8L46.4 240.6M0 221.4L4.8 231L9.6 239L16 231L20.8 232.6L25.6 229.4L32 232.6L35.2 239L40 251M32 251L33.6 223L36.8 210.2L40 207L42.4 216.6L43.2 239M176 129.6L176.3 144L176 162.2L175.2 178.2M154.4 141.4L154.9 159L154.4 167M148.8 251L149.6 207L151.2 191L153.6 184.6L157.6 178.2L160 162.2L162.4 158.2L165.6 162.2L168.8 178.2L172 191L173.6 207L176 223L177.6 239L179.2 251M151.2 200.6L156.8 203.8L161.6 207L168 205.4L172.8 213.4M353.6 251L351.2 223L350.4 199L348.8 171.8L345.6 162.2L342.4 187.8L339.2 175L334.4 162.2L335.2 127L336 102.4L337.6 89.6L342.4 94.4L345.6 76L350.4 81.6L355.2 84L360 80L366.4 88.8L369.6 84L372.8 92.8L376 88.8L380.8 99.2L384 107.2L387.2 104L390.4 115.2L396.8 126.4L400 137.6L401.6 162.2L400 183L396.8 199L392 207L390.4 223L392 235.8L400 239L408 242.2L412.8 251M361.6 223L362.4 199L361.6 175L360 159L356.8 147.8L353.6 155.8L352.8 143L353.6 137.6L356.8 128L361.6 124L366.4 128L369.6 132.8L374.4 135.2M395.2 144L396.8 147.8L398.4 167L396.8 184.6L393.6 197.4L390.4 191L388.8 167L387.2 155.8L382.4 157.4L379.2 167L376 162.2L372.8 165.4L371.2 184.6L368 175L366.4 191L365.6 215M368 226.2L369.3 184.6L370.9 226.2M372.8 226.2L374.1 189.4L375.7 226.2M376 226.2L377.3 194.2L378.9 226.2M379.2 226.2L380.5 184.6L382.1 226.2M383.2 226.2L384.5 189.4L386.1 226.2M387.2 226.2L388.5 194.2L390.1 226.2M406.4 72L408.8 66.4L410.4 68.8L412 61.6L415.2 70.4L413.6 74.4L408.8 73.6L406.4 72M284.8 251L286.4 223L292.8 215L299.2 221.4L308.8 218.2L316.8 223L328 221.4L334.4 227.8L340.8 223L347.2 229.4L352 239M296 251L297.6 231L304 226.2L312 231L320 227.8L331.2 232.6L339.2 229.4L345.6 235.8M305.6 251L308.8 237.4L316.8 234.2L324.8 239L332.8 235.8L340.8 240.6M267.2 251L268.8 231L273.6 223L278.4 227.8L281.6 239L280 251M270.4 251L272 239L275.2 235.8L277.6 242.2L276.8 251M513.6 248.6L504 247L496 239L488 223L481.6 191L479.2 143L480 112L483.2 92.8L489.6 80L496 75.2L502.4 78.4L508.8 76.8L516.8 80L523.2 86.4L528 96M528 243.8L520 247L513.6 248.6M528 213.4L520 219.8L512 223L504 219.8L499.2 207L494.4 183L492.8 143L493.6 112L496 92.8L500.8 90.4L507.2 92.8L513.6 91.2L520 96L526.4 108.8L528 115.2M528 175L526.4 184.6L520 199L512 203.8L504 194.2L499.2 175L496.8 143L497.6 120L499.2 105.6L504 103.2L508.8 105.6L515.2 104L521.6 112L528 124.8M506.4 159L507.2 143L511.2 130.2L513.6 127L518.4 135L523.2 159L524 178.2L520 197.4L513.6 203.8L508.8 197.4L506.4 178.2ZM500.8 156L502.4 128L504 119.2L507.2 117.6L512 120L516.8 118.4L523.2 128L528 139.2M488 251L491.2 239L496 245.4L500.8 251M101.9 251L103.8 232.6L106.7 220.3L109.5 234.1L111.5 251M112.5 251L114.4 236L117.3 226.1L120.2 237.3L122.1 251M98.5 251L99.7 229.1L101.4 214.5L103.1 230.9L104.3 251M101.4 251L102.5 240.2L104.3 233.1L106.1 241.1L107.3 251M163.7 251L165.2 234.7L167.5 223.8L169.7 236L171.2 251M156.6 251L158 230.1L160.2 216.1L162.4 231.8L163.8 251M133.9 251L135 237.6L136.6 228.6L138.2 238.7L139.3 251M158.9 251L160.1 228.7L161.9 213.9L163.7 230.6L164.9 251M155.1 251L156.2 228.1L158 212.9L159.8 230L160.9 251M229.7 251L231.5 221.1L234.1 201.2L236.8 223.6L238.5 251M213.8 251L215.4 233.9L217.8 222.5L220.2 235.3L221.8 251M203.4 251L204.5 232.3L206 219.8L207.6 233.9L208.6 251M206 251L207.7 240.8L210.3 233.9L212.8 241.6L214.5 251M207.6 251L208.9 236.8L210.8 227.3L212.7 238L214 251M240.9 251L242.2 240.3L244.2 233.2L246.2 241.2L247.6 251M225.3 251L227.1 223.4L229.7 205.1L232.4 225.7L234.1 251M240.6 251L241.9 236.2L243.9 226.3L245.8 237.4L247.1 251M49.2 251L51 245.8L53.8 242.4L56.6 246.2L58.4 251M54.7 251L56.4 239.9L59 232.5L61.6 240.8L63.3 251M37.2 251L38.2 243.3L39.6 238.2L41.1 244L42 251M49.4 251L50.3 245.8L51.7 242.3L53.1 246.2L54 251M449.5 251L450.7 246.1L452.5 242.8L454.4 246.5L455.6 251M440.6 251L441.6 248L443.2 246L444.7 248.2L445.7 251M443.9 251L444.8 243.6L446.1 238.7L447.4 244.3L448.3 251M489.9 251L491 240.6L492.5 233.7L494 241.5L495 251M452 251L453.3 243.8L455.1 239.1L457 244.4L458.3 251" fill="none" stroke="#000" stroke-width="1.6" stroke-linejoin="round" stroke-linecap="round"/>
<path d="M114.4 117.6L112.8 112L110.4 106.4L104 102.4L97.6 100L91.2 97.6L86.4 93.6L80.8 92L78.4 97.6L80 104L83.2 112L87.2 120L90.4 128L89.6 146.2L87.2 167L85.6 191L84.8 207L83.2 219.8L80 229.4L80.8 239L83.2 243.8L89.6 239M127.2 117.6L128.8 128L130.4 139.2L131.5 159L132.8 175L133.6 191M139.2 123.2L140.8 132.8L141.6 146.2L141.6 162.2L140.8 178.2L141.6 194.2L140.8 210.2L141.6 223M136.8 135L137.3 151L136.8 167L137.6 184.6L136.8 199M189.6 76L188.8 89.6L189.3 102.4M188 123.2L189.6 136L190.9 155.8L192 171.8L191.2 191M192 80L196 91.2L198.4 100L200.8 86.4L203.2 74.4L209.6 75.2L216 79.2L222.4 74.4L228.8 76L240 71.2L249.6 68.8L256 67.2L264 70.4L272 64L280 63.2L292.8 66.4L304 71.2L312 76.8L315.2 81.6M319.2 102.4L317.6 120L316.8 136L317.6 155.8L318.4 165.4L319.2 175L323.2 184.6L328 191L330.4 203.8L331.2 216.6L329.6 231M209.6 191L210.4 175L212 155.8L213.6 140.8L215.2 126.4L216 118.4L220 122.4L224 106.4L228.8 102.4L236.8 102.4L244.8 99.2L251.2 96L264 93.6L276.8 94.4L289.6 95.2L300.8 99.2L305.6 108.8L306.9 128L306.4 144L306.9 159L305.9 175L300.8 181.4L288 184.6L280 187.8L270.4 194.2L264 199L256 205.4L246.4 213.4L240 223M228.8 171.8L229.6 159L231.5 140.8L233.6 128L240 120L246.4 119.2L252.8 114.4L264 109.6L273.6 115.2L281.6 124.8L286.4 136L288 152L288 159L283.2 165.4L273.6 171.8L264 176.6L256 179.8L249.6 175L240 170.2L232 165.4L228.8 159M414.4 251L413.6 239L414.4 223L413.6 191L412.8 143L416 128L417.6 115.2L424 106.4L433.6 102.4L440 100L444.8 96.8L449.6 100.8M472 115.2L473.6 128L473.6 143L472.8 175L473.6 207L475.2 239L472 245.4L464 248.6M430.4 132.8L428.8 140.8L428.8 147.8L428 162.2L429.6 171.8M440 132.8L440 139.8L440.8 147.8L441.6 152.6L446.4 157.4L449.6 159M444.8 128L451.2 126.4L456 124.8L457.6 128L457.6 136.6L458.4 159L459.2 175L460 207L460.8 231L456 235.8M451.2 135L452 147.8M418.4 178.2L418.9 199L419.5 223M458.4 165.4L459.2 194.2M424 251L425.6 243.8L430.4 251M433.6 251L436.8 239L441.6 237.4L443.2 247M105.8 251L107.4 232.8L109.7 220.7L112.1 234.3L113.6 251M99 251L100.3 224.7L102.2 207.2L104 226.9L105.3 251M99.5 251L100.4 225.3L101.7 208.2L103.1 227.5L103.9 251M110.7 251L111.6 234.5L113 223.6L114.4 235.9L115.4 251M110.3 251L111.3 218.6L112.7 197.1L114.2 221.3L115.2 251M163.8 251L164.9 218L166.6 196.1L168.2 220.8L169.4 251M153 251L154.8 223.2L157.6 204.7L160.3 225.6L162.1 251M159.1 251L161 230.4L163.9 216.6L166.8 232.1L168.8 251M134.6 251L136.3 226.5L138.8 210.1L141.4 228.5L143.1 251M183.1 251L184 231.7L185.3 218.8L186.6 233.3L187.5 251M199.7 251L201.2 227.5L203.4 211.9L205.6 229.5L207.1 251M206.6 251L208.2 234.3L210.6 223.2L213.1 235.7L214.7 251M197.4 251L198.8 230.3L200.8 216.5L202.8 232L204.2 251M206 251L207.3 224.8L209.4 207.4L211.5 227L212.8 251M199.2 251L200.8 238.1L203.2 229.5L205.7 239.2L207.3 251M224.6 251L226.5 223.1L229.4 204.5L232.2 225.4L234.1 251M218.3 251L219.4 235.8L221 225.7L222.7 237.1L223.8 251M220.6 251L222.1 230.3L224.3 216.5L226.6 232L228.1 251M222.2 251L223.5 238.9L225.5 230.9L227.5 239.9L228.8 251M225 251L226.9 228.8L229.8 214L232.6 230.7L234.5 251M238.8 251L240.3 229.7L242.6 215.5L244.9 231.5L246.4 251" fill="none" stroke="#000" stroke-width="1.6" stroke-linejoin="round" stroke-dasharray="9.5 4.5"/>
<text x="123.2" y="112.8" font-size="9" text-anchor="middle" transform="rotate(8 123.2 112.8)">02</text>
<text x="190.1" y="112" font-size="9" text-anchor="middle" transform="rotate(80 190.1 112)">02</text>
<text x="319.2" y="91.2" font-size="9" text-anchor="middle" transform="rotate(75 319.2 91.2)">02</text>
<text x="175.2" y="155.8" font-size="9" text-anchor="middle" transform="rotate(85 175.2 155.8)">02</text>
<text x="387.2" y="136" font-size="9" text-anchor="middle" transform="rotate(0 387.2 136)">.06</text>
<text x="461.6" y="106.4" font-size="9" text-anchor="middle" transform="rotate(35 461.6 106.4)">.02</text>
<path d="M300 252L304 249L308 246.5L316 240L320 238L324 236.5L330 236L336 234.6L342 234.5L348 233.8L354 235L358 236L361 233L364 231L368 229L371 226.5L376 225L380 224.5L384 225.5L388 228L392 230.5L394 233L396 236L398 239L400 241L404 245L408 248L412 252Z" fill="#000"/>
<path d="M8 252L12 249L20 247L30 246L45 246L60 247L70 249L76 252Z" fill="#000"/>
<path d="M136 252L140 248L148 246L158 245.5L166 247L172 250L176 252Z" fill="#000"/>
<path d="M190 252L196 249L206 247.5L216 248L224 250L228 252Z" fill="#000"/>
<path d="M256 252L262 250L275 249L290 249L300 250L300 252Z" fill="#000"/>
<path d="M76 252L90 250.5L110 250L136 250.5L136 252Z" fill="#000"/>
<path d="M412 252L420 250.5L440 250.5L450 252Z" fill="#000"/>
</g>
<rect x="0" y="0" width="528.1" height="250.9" fill="none" stroke="#000" stroke-width="1.6"/>
</g>
<path d="M200.2 385.8H213.2M200.2 417.4H213.2M200.2 452.9H213.2M200.2 478.1H213.2M200.2 497.8H213.2M200.2 513.8H213.2M200.2 539.1H213.2M200.2 558.5H213.2M200.2 588.1H213.2M200.2 605H213.2M741.3 420H754.8M741.3 475H754.8M741.3 528.5H754.8M741.3 576.5H754.8M267.9 617.5V624.5M324.7 617.5V624.5M381.5 617.5V631M438.3 617.5V624.5M495.1 617.5V624.5M551.9 617.5V631M608.7 617.5V624.5M665.5 617.5V624.5M722.2 617.5V631" stroke="#000" stroke-width="1.3" fill="none"/>
<text font-size="25" text-anchor="end" transform="translate(182.9 426.5) scale(1 1.043)">100</text>
<text font-size="25" text-anchor="end" transform="translate(182.9 487.2) scale(1 1.043)">200</text>
<text font-size="25" text-anchor="end" transform="translate(182.9 522.9) scale(1 1.043)">300</text>
<text font-size="25" text-anchor="end" transform="translate(182.9 567.6) scale(1 1.043)">500</text>
<text font-size="25" text-anchor="end" transform="translate(182.9 614.1) scale(1 1.043)">850</text>
<text font-size="25" text-anchor="start" transform="translate(770.8 429.4) scale(1 1.043)">16</text>
<text font-size="25" text-anchor="start" transform="translate(770.8 484.4) scale(1 1.043)">12</text>
<text font-size="25" text-anchor="start" transform="translate(770.8 537.9) scale(1 1.043)">8</text>
<text font-size="25" text-anchor="start" transform="translate(770.8 585.9) scale(1 1.043)">4</text>
<text font-size="41" text-anchor="start" transform="translate(211.7 356) scale(1 1.043)">c</text>
<text font-size="26.9" text-anchor="middle" transform="translate(118.6 492.2) rotate(-90) scale(1 1.043)">Pressure level (hPa)</text>
<g transform="translate(886.8 366.6)">
<g clip-path="url(#cpd)">
<rect x="-2" y="-2" width="531.6" height="254.9" fill="#1e0afa"/>
<path d="M-6 5.6C-5 5.6 -45 5.6 0 5.6C45 5.6 198.7 5.7 264 5.6C329.3 5.5 348 4.9 392 4.8C436 4.7 504.4 4.8 528 4.8C551.6 4.8 532.7 4.8 533.6 4.8V256.9H-6Z" fill="#3250e6"/>
<path d="M-6 19.2C-5 19.2 -11.7 19.5 0 19.2C11.7 18.9 42.7 18.1 64 17.6C85.3 17.1 106.7 16.4 128 16C149.3 15.6 169.3 15.3 192 15.2C214.7 15.1 241.3 15.2 264 15.2C286.7 15.2 306.7 15.1 328 15.2C349.3 15.3 370.7 15.5 392 16C413.3 16.5 433.3 17.6 456 18.4C478.7 19.2 515.1 20.4 528 20.8C540.9 21.2 532.7 20.8 533.6 20.8V256.9H-6Z" fill="#327deb"/>
<path d="M-6 23.7C-5 23.7 -11.7 23.9 0 23.7C11.7 23.5 42.7 22.7 64 22.4C85.3 22.1 106.7 21.9 128 21.6C149.3 21.3 169.3 20.9 192 20.8C214.7 20.7 241.3 20.8 264 20.8C286.7 20.8 306.7 20.5 328 20.8C349.3 21.1 370.7 21.6 392 22.4C413.3 23.2 433.3 24.7 456 25.6C478.7 26.5 515.1 27.6 528 28C540.9 28.4 532.7 28 533.6 28V256.9H-6Z" fill="#19a0f5"/>
<path d="M-6 39.2C-5 39.2 -6.3 39.6 0 39.2C6.3 38.8 21.3 38 32 36.8C42.7 35.6 53.3 33.3 64 32C74.7 30.7 85.3 29.5 96 28.8C106.7 28.1 112 27.9 128 27.5C144 27.1 169.3 26.7 192 26.6C214.7 26.4 241.3 26.4 264 26.4C286.7 26.4 306.7 26 328 26.4C349.3 26.8 370.7 27.6 392 28.8C413.3 30 433.3 32.3 456 33.6C478.7 34.9 515.1 36.3 528 36.8C540.9 37.3 532.7 36.8 533.6 36.8V256.9H-6Z" fill="#28bef8"/>
<path d="M-6.4 76.8C-5.3 58.8 -3.7 78.9 0 80C3.7 81.1 10.7 81.1 16 83.2C21.3 85.3 26.7 88 32 92.8C37.3 97.6 42.7 106.1 48 112C53.3 117.9 58.7 124 64 128C69.3 132 74.7 133.3 80 136C85.3 138.7 93.3 142.6 96 144C98.7 145.4 93.3 141.6 96 144.6C98.7 147.6 107.2 158.7 112 162.2C116.8 165.7 120.8 165.3 124.8 165.4C128.8 165.5 131.5 162.3 136 163C140.5 163.7 146.7 168.2 152 169.4C157.3 170.6 162.7 170.9 168 170.2C173.3 169.5 181.6 165.1 184 165.4C186.4 165.7 183.7 169.4 182.4 171.8C181.1 174.2 179.7 177.5 176 179.8C172.3 182.1 165.3 183.5 160 185.4C154.7 187.3 149.3 188.7 144 191C138.7 193.3 133.3 196.3 128 199C122.7 201.7 117.3 205.1 112 207C106.7 208.9 101.3 209.7 96 210.2C90.7 210.7 88 210.7 80 210.2C72 209.7 56 208.1 48 207C40 205.9 37.3 205.7 32 203.8C26.7 201.9 21.3 198.2 16 195.8C10.7 193.4 3.7 190.7 0 189.4C-3.7 188.1 -5.3 206.6 -6.4 187.8C-7.5 169 -7.5 94.8 -6.4 76.8Z" fill="#19a0f5"/>
<path d="M464 76.8C465.3 75.7 468 72 472 70.4C476 68.8 482.7 66.4 488 67.2C493.3 68 499.7 71.5 504 75.2C508.3 78.9 509.3 86.1 513.6 89.6C517.9 93.1 526.9 68.4 529.6 96C532.3 123.6 539.7 228.5 529.6 255C519.5 281.5 480 257.7 468.8 255C457.6 252.3 465.1 243.8 462.4 239C459.7 234.2 456 231.5 452.8 226.2C449.6 220.9 445.3 215.5 443.2 207C441.1 198.5 440 185.7 440 175C440 164.3 441.1 152.3 443.2 143C445.3 133.7 450.1 127 452.8 119C455.5 111 458.1 99 459.2 95Z" fill="#19a0f5"/>
<path d="M486.4 59.2C488 58.3 491.7 54.7 496 53.6C500.3 52.5 506.4 52.7 512 52.8C517.6 52.9 526.7 38.6 529.6 54.4C532.5 70.2 531.2 131.7 529.6 147.8C528 163.9 522.9 153.1 520 151C517.1 148.9 514.7 141.7 512 135C509.3 128.3 506.1 117.5 504 111C501.9 104.5 501.1 101.2 499.2 96C497.3 90.8 494.7 84.8 492.8 80C490.9 75.2 488.8 69.3 488 67.2Z" fill="#96d2f0"/>
<path d="M468.8 255C468 251 465.3 239 464 231C462.7 223 461.1 216.3 460.8 207C460.5 197.7 461.3 185.7 462.4 175C463.5 164.3 465.6 152.3 467.2 143C468.8 133.7 470.4 124.9 472 119C473.6 113.1 474.7 109.1 476.8 107.8C478.9 106.5 482.4 107.8 484.8 111C487.2 114.2 489.3 120.9 491.2 127C493.1 133.1 493.3 142.5 496 147.8C498.7 153.1 503.2 156.3 507.2 159C511.2 161.7 516.3 162.7 520 163.8C523.7 164.9 528 150.2 529.6 165.4C531.2 180.6 529.6 240.1 529.6 255Z" fill="#327deb"/>
<path d="M476.8 255C475.7 251 472 239 470.4 231C468.8 223 467.5 214.7 467.2 207C466.9 199.3 467.2 190.7 468.8 184.6C470.4 178.5 473.6 173.1 476.8 170.2C480 167.3 483.5 166.2 488 167C492.5 167.8 498.7 172.9 504 175C509.3 177.1 515.7 178.7 520 179.8C524.3 180.9 528 168.9 529.6 181.4C531.2 193.9 529.6 242.7 529.6 255Z" fill="#3250e6"/>
<path d="M491.2 247C490.7 244.3 488.3 237.1 488 231C487.7 224.9 488.3 215.5 489.6 210.2C490.9 204.9 493.1 200.6 496 199C498.9 197.4 503.7 198.7 507.2 200.6C510.7 202.5 513.6 207.5 516.8 210.2C520 212.9 524.8 211.8 526.4 216.6C528 221.4 528.5 234.5 526.4 239C524.3 243.5 517.9 243.8 513.6 243.8C509.3 243.8 502.9 239.8 500.8 239Z" fill="#1e0afa"/>
<path d="M-6 193C-5 193 -2.3 192.9 0 193C2.3 193.1 5.3 193.1 8 193.8C10.7 194.5 13.3 195.9 16 197C18.7 198.1 21.3 199 24 200.2C26.7 201.4 29.3 203.1 32 204.2C34.7 205.3 37.3 205.9 40 206.6C42.7 207.3 44 207.9 48 208.2C52 208.5 58.7 207.9 64 208.2C69.3 208.5 76 209.3 80 209.8C84 210.3 85.3 211.2 88 211.4C90.7 211.6 92.7 211.4 96 211C99.3 210.6 104 210 108 209C112 208 114 206.4 120 205C126 203.6 140 201.3 144 200.6C148 199.9 141.3 201.1 144 200.6C146.7 200.1 154.7 198.5 160 197.4C165.3 196.3 170.7 195.3 176 194.2C181.3 193.1 186.7 191.3 192 191C197.3 190.7 202.7 192.6 208 192.6C213.3 192.6 218.7 191.7 224 191C229.3 190.3 234.7 189.3 240 188.6C245.3 187.9 250.9 187.7 256 187C261.1 186.3 266.9 186.6 270.4 184.6C273.9 182.6 276.8 178.2 276.8 175C276.8 171.8 272.5 167.3 270.4 165.4C268.3 163.5 266.4 162.7 264 163.8C261.6 164.9 260 173.1 256 171.8C252 170.5 245.3 160.6 240 155.8C234.7 151 229.3 146.2 224 143C218.7 139.8 213.3 138.2 208 136.6C202.7 135 198.7 133.7 192 133.4C185.3 133.1 176 135.3 168 135C160 134.7 152 133.4 144 131.8C136 130.2 128 128.3 120 125.4C112 122.5 102.7 117.7 96 114.2C89.3 110.7 84 108.7 80 104.6C76 100.5 76 95 72 89.6C68 84.2 60.8 77.3 56 72C51.2 66.7 43.2 61.6 43.2 57.6C43.2 53.6 51.2 50.7 56 48C60.8 45.3 65.3 43.5 72 41.6C78.7 39.7 86.7 38 96 36.8C105.3 35.6 112 34.9 128 34.4C144 33.9 169.3 33.7 192 33.6C214.7 33.5 241.3 33.5 264 33.6C286.7 33.7 306.7 33.9 328 34.4C349.3 34.9 376 36 392 36.8C408 37.6 414.7 37.7 424 39.2C433.3 40.7 442.7 43.3 448 45.6C453.3 47.9 453.9 49.7 456 52.8C458.1 55.9 459.7 59.5 460.8 64C461.9 68.5 463.2 74.8 462.4 80C461.6 85.2 458.4 88.5 456 95C453.6 101.5 450.7 111 448 119C445.3 127 441.6 133.7 440 143C438.4 152.3 438.4 165.7 438.4 175C438.4 184.3 438.4 191.5 440 199C441.6 206.5 444.5 213.7 448 219.8C451.5 225.9 457.1 229.9 460.8 235.8C464.5 241.7 458.3 251.8 470.4 255C482.5 258.2 523.1 255 533.6 255V256.9H-6Z" fill="#96d2f0"/>
<path d="M-6 198.6C-5 198.6 -2.3 198.5 0 198.6C2.3 198.7 5.3 198.7 8 199.4C10.7 200.1 13.3 201.4 16 202.6C18.7 203.8 21.3 205.4 24 206.6C26.7 207.8 29.3 209 32 209.8C34.7 210.6 37.3 211 40 211.4C42.7 211.8 45.3 211.9 48 212.2C50.7 212.5 53.3 212.7 56 213C58.7 213.3 61.3 213.5 64 213.8C66.7 214.1 69.3 214.3 72 214.6C74.7 214.9 77.3 215.1 80 215.4C82.7 215.7 85.3 216.1 88 216.2C90.7 216.3 93.3 216.6 96 216.2C98.7 215.8 101.3 214.5 104 213.8C106.7 213.1 109.3 212.6 112 212.2C114.7 211.8 116 212 120 211.4C124 210.8 129.3 210.1 136 208.6C142.7 207.1 150.7 204.3 160 202.2C169.3 200.1 181.3 196.9 192 195.8C202.7 194.7 213.3 195.9 224 195.8C234.7 195.7 249.3 194.5 256 195C262.7 195.5 261.1 198.6 264 199C266.9 199.4 270.7 198.7 273.6 197.4C276.5 196.1 279.9 194.7 281.6 191C283.3 187.3 283.7 179.8 284 175C284.3 170.2 284.4 166.2 283.2 162.2C282 158.2 280 153.4 276.8 151C273.6 148.6 268.8 149.7 264 147.8C259.2 145.9 253.3 143.3 248 139.8C242.7 136.3 237.3 129.9 232 127C226.7 124.1 221.3 124.1 216 122.2C210.7 120.3 206.7 117.9 200 115.8C193.3 113.7 185.3 112.1 176 109.4C166.7 106.7 153.3 102.6 144 99.8C134.7 97 126.7 95 120 92.8C113.3 90.6 109.3 89.9 104 86.4C98.7 82.9 92.5 76.8 88 72C83.5 67.2 75.5 61.6 76.8 57.6C78.1 53.6 90.1 50.4 96 48C101.9 45.6 104 44.5 112 43.2C120 41.9 130.7 40.7 144 40C157.3 39.3 172 39.3 192 39.2C212 39.1 244 39.3 264 39.2C284 39.1 296 38.1 312 38.4C328 38.7 346.7 40.1 360 40.8C373.3 41.5 381.3 41.6 392 42.4C402.7 43.2 416 44.1 424 45.6C432 47.1 436 48.1 440 51.2C444 54.3 446.9 59.2 448 64C449.1 68.8 447.7 74.8 446.4 80C445.1 85.2 442.1 87.2 440 95C437.9 102.8 435.2 116.3 433.6 127C432 137.7 430.7 148.3 430.4 159C430.1 169.7 430.9 181.7 432 191C433.1 200.3 434.1 208.9 436.8 215C439.5 221.1 444 223.8 448 227.8C452 231.8 457.6 234.5 460.8 239C464 243.5 455.1 252.3 467.2 255C479.3 257.7 522.5 255 533.6 255V256.9H-6Z" fill="#fffac8"/>
<path d="M347.2 143C348.5 134.5 350.9 121.4 353.6 115.8C356.3 110.2 359.7 109.4 363.2 109.4C366.7 109.4 372.3 110.2 374.4 115.8C376.5 121.4 375.2 133.1 376 143C376.8 152.9 379.2 164.3 379.2 175C379.2 185.7 377.9 199.3 376 207C374.1 214.7 371.2 219.3 368 221.4C364.8 223.5 360 223.5 356.8 219.8C353.6 216.1 350.7 207.8 348.8 199C346.9 190.2 345.9 176.3 345.6 167C345.3 157.7 345.9 151.5 347.2 143Z" fill="#96d2f0"/>
<path d="M355.2 191C355.2 183.8 356.8 172.6 358.4 167C360 161.4 362.1 157.9 364.8 157.4C367.5 156.9 372.5 159.3 374.4 163.8C376.3 168.3 376 177.4 376 184.6C376 191.8 376 201.7 374.4 207C372.8 212.3 369.1 216.1 366.4 216.6C363.7 217.1 360.3 214.5 358.4 210.2C356.5 205.9 355.2 198.2 355.2 191Z" fill="#28bef8"/>
<path d="M360 197.4C360.3 193.1 361.6 186.7 363.2 184.6C364.8 182.5 368 182.5 369.6 184.6C371.2 186.7 373.1 192.6 372.8 197.4C372.5 202.2 369.9 211.3 368 213.4C366.1 215.5 362.9 212.9 361.6 210.2C360.3 207.5 359.7 201.7 360 197.4Z" fill="#19a0f5"/>
<path d="M-6 208.2C-5 208.2 -2.3 207.8 0 208.2C2.3 208.6 5.3 209.8 8 210.6C10.7 211.4 13.3 212.2 16 213C18.7 213.8 21.3 214.7 24 215.4C26.7 216.1 29.3 216.6 32 217C34.7 217.4 37.3 217.8 40 217.8C42.7 217.8 44 217 48 217C52 217 58.7 217.5 64 217.8C69.3 218.1 76 218.3 80 218.6C84 218.9 85.3 219.4 88 219.4C90.7 219.4 93.3 219 96 218.6C98.7 218.2 101.3 217.7 104 217C106.7 216.3 109.3 215.1 112 214.6C114.7 214.1 116 214.1 120 213.8C124 213.5 129.3 213.7 136 212.6C142.7 211.5 150.7 209 160 207C169.3 205 181.3 201.7 192 200.6C202.7 199.5 213.3 200.9 224 200.6C234.7 200.3 249.3 197.9 256 199C262.7 200.1 260 205.9 264 207C268 208.1 276 207.5 280 205.4C284 203.3 286.1 199.3 288 194.2C289.9 189.1 290.9 180.9 291.2 175C291.5 169.1 291.2 164.3 289.6 159C288 153.7 284.5 147.3 281.6 143C278.7 138.7 274.9 136.9 272 133.4C269.1 129.9 266.7 125.2 264 122.2C261.3 119.2 258.7 118 256 115.2C253.3 112.4 252 109.1 248 105.6C244 102.1 237.3 97.6 232 94.4C226.7 91.2 221.3 88.3 216 86.4C210.7 84.5 205.3 84.3 200 83.2C194.7 82.1 189.3 81.6 184 80C178.7 78.4 173.3 76 168 73.6C162.7 71.2 157.9 68.4 152 65.6C146.1 62.8 132.8 59.1 132.8 56.8C132.8 54.5 143.5 53.5 152 52C160.5 50.5 172 48.8 184 48C196 47.2 210.7 47.5 224 47.2C237.3 46.9 252 46.7 264 46.4C276 46.1 286.7 45.3 296 45.6C305.3 45.9 313.3 46.8 320 48C326.7 49.2 332.5 50.1 336 52.8C339.5 55.5 339.7 59.5 340.8 64C341.9 68.5 342 74.8 342.4 80C342.8 85.2 343.2 87.2 343.2 95C343.2 102.8 342.8 116.3 342.4 127C342 137.7 340.8 148.3 340.8 159C340.8 169.7 342.4 181.7 342.4 191C342.4 200.3 340.5 209.4 340.8 215C341.1 220.6 340.8 222.5 344 224.6C347.2 226.7 354.7 227.8 360 227.8C365.3 227.8 372.3 228.1 376 224.6C379.7 221.1 381.1 215.3 382.4 207C383.7 198.7 384.3 185.7 384 175C383.7 164.3 382.1 153.7 380.8 143C379.5 132.3 377.9 122.8 376 111C374.1 99.2 370.9 81.2 369.6 72C368.3 62.8 366.9 59.5 368 56C369.1 52.5 370.7 52.3 376 51.2C381.3 50.1 392 49.3 400 49.6C408 49.9 418.1 50.4 424 52.8C429.9 55.2 433.1 59.5 435.2 64C437.3 68.5 437.6 74.8 436.8 80C436 85.2 433.1 87.2 430.4 95C427.7 102.8 423.2 116.3 420.8 127C418.4 137.7 417.1 148.3 416 159C414.9 169.7 414.4 181.7 414.4 191C414.4 200.3 414.4 209.1 416 215C417.6 220.9 420 224.1 424 226.2C428 228.3 434.7 226.7 440 227.8C445.3 228.9 452 230.2 456 232.6C460 235 462.1 238.5 464 242.2C465.9 245.9 455.6 252.9 467.2 255C478.8 257.1 522.5 255 533.6 255V256.9H-6Z" fill="#ffe146"/>
<path d="M-6 229C-5 229 -2.3 228.7 0 229C2.3 229.3 6 231.3 8 230.6C10 229.9 10.7 226.6 12 225C13.3 223.4 14 221.9 16 221C18 220.1 21.3 219.7 24 219.4C26.7 219.1 29.3 219 32 219C34.7 219 37.3 219.3 40 219.4C42.7 219.5 44 219.3 48 219.4C52 219.5 58.7 219.7 64 219.8C69.3 219.9 76 220 80 220.2C84 220.4 85.3 221 88 221C90.7 221 93.3 220.6 96 220.2C98.7 219.8 101.3 219.1 104 218.6C106.7 218.1 109.3 217.5 112 217C114.7 216.5 116 215.6 120 215.4C124 215.2 129.3 216.7 136 215.8C142.7 214.9 150.7 211.9 160 210.2C169.3 208.5 181.3 206.2 192 205.4C202.7 204.6 213.3 205.7 224 205.4C234.7 205.1 249.3 202.5 256 203.8C262.7 205.1 260 212.1 264 213.4C268 214.7 275.5 213.4 280 211.8C284.5 210.2 288.5 208.6 291.2 203.8C293.9 199 295.5 190.5 296 183C296.5 175.5 295.5 167 294.4 159C293.3 151 292 143 289.6 135C287.2 127 284.3 116.2 280 111C275.7 105.8 268 106.5 264 104C260 101.5 258.7 98.9 256 96C253.3 93.1 252 89.6 248 86.4C244 83.2 237.1 79.2 232 76.8C226.9 74.4 220.3 75.2 217.6 72C214.9 68.8 213.6 60.3 216 57.6C218.4 54.9 226.7 56 232 56C237.3 56 242.7 57.1 248 57.6C253.3 58.1 261.3 59.1 264 59.2C266.7 59.3 260 59.2 264 58.4C268 57.6 280 55.3 288 54.4C296 53.5 305.3 52.5 312 52.8C318.7 53.1 324.5 53.6 328 56C331.5 58.4 331.7 63.2 332.8 67.2C333.9 71.2 334.1 75.4 334.4 80C334.7 84.6 334.7 87.2 334.4 95C334.1 102.8 333.9 117.7 332.8 127C331.7 136.3 329.9 144.3 328 151C326.1 157.7 321.6 161.7 321.6 167C321.6 172.3 325.9 177.7 328 183C330.1 188.3 333.1 192.9 334.4 199C335.7 205.1 333.9 215 336 219.8C338.1 224.6 343.2 225.9 347.2 227.8C351.2 229.7 355.2 231 360 231C364.8 231 371.7 229.1 376 227.8C380.3 226.5 380.3 223.8 385.6 223C390.9 222.2 401.6 221.9 408 223C414.4 224.1 418.7 228.1 424 229.4C429.3 230.7 434.7 229.9 440 231C445.3 232.1 452.3 233.7 456 235.8C459.7 237.9 460.8 240.6 462.4 243.8C464 247 453.7 253.1 465.6 255C477.5 256.9 522.3 255 533.6 255V256.9H-6Z" fill="#ffbe1e"/>
<path d="M380.8 64C381.5 61.3 382.4 60 385.6 59.2C388.8 58.4 394.9 57.9 400 59.2C405.1 60.5 412.3 64.3 416 67.2C419.7 70.1 421.6 73.6 422.4 76.8C423.2 80 422.4 83.7 420.8 86.4C419.2 89.1 414.9 89.9 412.8 92.8C410.7 95.7 409.1 99.6 408 104C406.9 108.4 406.9 112.5 406.4 119C405.9 125.5 405.6 135.8 404.8 143C404 150.2 403.2 158.7 401.6 162.2C400 165.7 397.1 167 395.2 163.8C393.3 160.6 391.7 151.8 390.4 143C389.1 134.2 388.3 119.9 387.2 111C386.1 102.1 384.9 95.6 384 89.6C383.1 83.6 382.1 79.5 381.6 75.2C381.1 70.9 380.1 66.7 380.8 64Z" fill="#ffbe1e"/>
<path d="M298.4 72C299.1 70.3 301.7 69.6 304 69.6C306.3 69.6 309.7 70 312 72C314.3 74 316.5 78.1 317.6 81.6C318.7 85.1 319.1 90.4 318.4 92.8C317.7 95.2 315.7 96.3 313.6 96C311.5 95.7 307.9 93.9 305.6 91.2C303.3 88.5 301.2 83.2 300 80C298.8 76.8 297.7 73.7 298.4 72Z" fill="#ff8c0a"/>
<path d="M-6 245C-5 245 -2.3 245.3 0 245C2.3 244.7 5.3 244.5 8 243.4C10.7 242.3 13.3 240.2 16 238.6C18.7 237 21.3 235.4 24 233.8C26.7 232.2 29.3 230.3 32 229C34.7 227.7 37.3 226.6 40 225.8C42.7 225 45.3 224.6 48 224.2C50.7 223.8 53.3 223.6 56 223.4C58.7 223.2 60 223.1 64 223C68 222.9 76 222.6 80 222.6C84 222.6 85.3 223.1 88 223C90.7 222.9 93.3 222.3 96 221.8C98.7 221.3 101.3 220.7 104 220.2C106.7 219.7 109.3 219.1 112 218.6C114.7 218.1 116 216.9 120 217C124 217.1 129.3 219.5 136 219C142.7 218.5 150.7 215.7 160 214.2C169.3 212.7 181.3 211 192 210.2C202.7 209.4 213.3 209.9 224 209.4C234.7 208.9 249.3 205.5 256 207C262.7 208.5 260 216.6 264 218.2C268 219.8 274.7 216.9 280 216.6C285.3 216.3 289.3 215.8 296 216.6C302.7 217.4 313.3 220.3 320 221.4C326.7 222.5 331.5 221.4 336 223C340.5 224.6 343.2 229.1 347.2 231C351.2 232.9 355.2 234.2 360 234.2C364.8 234.2 371.7 232.3 376 231C380.3 229.7 380.3 227 385.6 226.2C390.9 225.4 401.6 225.1 408 226.2C414.4 227.3 418.7 231.3 424 232.6C429.3 233.9 434.7 233.1 440 234.2C445.3 235.3 452.5 237.1 456 239C459.5 240.9 459.5 242.7 460.8 245.4C462.1 248.1 451.9 253.4 464 255C476.1 256.6 522 255 533.6 255V256.9H-6Z" fill="#ff8c0a"/>
<path d="M-6 253C-1.7 253 15 253.3 20 253C25 252.7 22 253 24 251C26 249 29.3 243.9 32 241C34.7 238.1 37.3 235.5 40 233.8C42.7 232.1 45.3 231.5 48 230.6C50.7 229.7 53.3 228.9 56 228.2C58.7 227.5 61.3 227 64 226.6C66.7 226.2 69.3 226.1 72 225.8C74.7 225.5 77.3 225.1 80 225C82.7 224.9 85.3 225.1 88 225C90.7 224.9 93.3 224.7 96 224.2C98.7 223.7 101.3 222.5 104 221.8C106.7 221.1 109.3 220.7 112 220.2C114.7 219.7 116 218.3 120 218.6C124 218.9 129.3 222.4 136 222.2C142.7 222 150.7 218.7 160 217.4C169.3 216.1 181.3 215 192 214.2C202.7 213.4 213.3 213.3 224 212.6C234.7 211.9 249.3 208.9 256 210.2C262.7 211.5 260 219.1 264 220.6C268 222.1 274.7 219.3 280 219C285.3 218.7 289.3 218.3 296 219C302.7 219.7 313.3 222.1 320 223C326.7 223.9 331.5 223 336 224.6C340.5 226.2 343.2 230.7 347.2 232.6C351.2 234.5 355.2 235.8 360 235.8C364.8 235.8 371.7 233.9 376 232.6C380.3 231.3 380.3 228.6 385.6 227.8C390.9 227 401.6 226.7 408 227.8C414.4 228.9 418.7 232.9 424 234.2C429.3 235.5 434.7 234.7 440 235.8C445.3 236.9 452.7 238.7 456 240.6C459.3 242.5 458.8 244.6 460 247C461.2 249.4 450.9 253.7 463.2 255C475.5 256.3 521.9 255 533.6 255V256.9H-6Z" fill="#ff460a"/>
<path d="M-6 253C0.3 253 25 253.3 32 253C39 252.7 34 252.9 36 251C38 249.1 41.3 244.3 44 241.8C46.7 239.3 49.3 237.8 52 236.2C54.7 234.6 57.3 233.3 60 232.2C62.7 231.1 65.3 230.5 68 229.8C70.7 229.1 72.7 228.6 76 228.2C79.3 227.8 84.7 227.7 88 227.4C91.3 227.1 93.3 227.1 96 226.6C98.7 226.1 101.3 225 104 224.2C106.7 223.4 109.3 222.5 112 221.8C114.7 221.1 116 219.6 120 220.2C124 220.8 129.3 225.3 136 225.4C142.7 225.5 150.7 221.8 160 220.6C169.3 219.4 181.3 219 192 218.2C202.7 217.4 213.3 216.6 224 215.8C234.7 215 249.3 212.2 256 213.4C262.7 214.6 260 221.7 264 223C268 224.3 274.7 221.7 280 221.4C285.3 221.1 289.3 220.9 296 221.4C302.7 221.9 313.3 223.8 320 224.6C326.7 225.4 331.5 224.6 336 226.2C340.5 227.8 343.2 232.3 347.2 234.2C351.2 236.1 355.2 237.4 360 237.4C364.8 237.4 371.7 235.5 376 234.2C380.3 232.9 380.3 230.2 385.6 229.4C390.9 228.6 401.6 228.3 408 229.4C414.4 230.5 418.7 234.5 424 235.8C429.3 237.1 434.7 236.3 440 237.4C445.3 238.5 452.8 240.5 456 242.2C459.2 243.9 458.1 245.7 459.2 247.8C460.3 249.9 450 253.8 462.4 255C474.8 256.2 521.7 255 533.6 255V256.9H-6Z" fill="#f00a0a"/>
<path d="M-6 253C2.3 253 35 253.3 44 253C53 252.7 46 252.6 48 251C50 249.4 53.3 245.7 56 243.4C58.7 241.1 61.3 238.6 64 237C66.7 235.4 69.3 234.6 72 233.8C74.7 233 77.3 232.5 80 232.2C82.7 231.9 85.3 232.5 88 232.2C90.7 231.9 93.3 231.4 96 230.6C98.7 229.8 101.3 228.3 104 227.4C106.7 226.5 109.3 225.5 112 225C114.7 224.5 116 223.6 120 224.2C124 224.8 129.3 228.5 136 228.6C142.7 228.7 150.7 225.5 160 224.6C169.3 223.7 181.3 223.9 192 223C202.7 222.1 213.3 220.1 224 219C234.7 217.9 249.3 215.7 256 216.6C262.7 217.5 260 223.5 264 224.6C268 225.7 274.7 223.3 280 223C285.3 222.7 289.3 222.5 296 223C302.7 223.5 313.3 225.4 320 226.2C326.7 227 331.5 226.2 336 227.8C340.5 229.4 343.2 233.9 347.2 235.8C351.2 237.7 355.2 239 360 239C364.8 239 371.7 237.1 376 235.8C380.3 234.5 380.3 231.8 385.6 231C390.9 230.2 401.6 229.9 408 231C414.4 232.1 418.7 236.1 424 237.4C429.3 238.7 434.7 237.9 440 239C445.3 240.1 452.9 242.2 456 243.8C459.1 245.4 457.5 246.7 458.4 248.6C459.3 250.5 449.1 253.9 461.6 255C474.1 256.1 521.6 255 533.6 255V256.9H-6Z" fill="#cd1919"/>
<path d="M-6 253C5 253 48.3 253.3 60 253C71.7 252.7 62.7 252.3 64 251C65.3 249.7 66 247.3 68 245C70 242.7 73.3 238.6 76 237C78.7 235.4 82 235.4 84 235.4C86 235.4 86.7 236.3 88 237C89.3 237.7 90.7 239.4 92 239.4C93.3 239.4 94 238.5 96 237C98 235.5 101.3 232.1 104 230.6C106.7 229.1 109.3 228.7 112 228.2C114.7 227.7 116 226.8 120 227.4C124 228 132 231.2 136 231.8C140 232.4 140 230.9 144 231C148 231.1 154.7 232.1 160 232.6C165.3 233.1 170.7 234.5 176 234.2C181.3 233.9 186.7 232.1 192 231C197.3 229.9 202.7 229.1 208 227.8C213.3 226.5 218.7 224.1 224 223C229.3 221.9 234.7 221.9 240 221.4C245.3 220.9 252 219 256 219.8C260 220.6 260 225.4 264 226.2C268 227 274.7 224.9 280 224.6C285.3 224.3 289.3 224.1 296 224.6C302.7 225.1 313.3 227 320 227.8C326.7 228.6 331.5 227.8 336 229.4C340.5 231 343.2 235.5 347.2 237.4C351.2 239.3 355.2 240.6 360 240.6C364.8 240.6 371.7 238.7 376 237.4C380.3 236.1 380.3 233.4 385.6 232.6C390.9 231.8 401.6 231.5 408 232.6C414.4 233.7 418.7 237.7 424 239C429.3 240.3 434.7 239.5 440 240.6C445.3 241.7 453.1 243.9 456 245.4C458.9 246.9 456.8 247.8 457.6 249.4C458.4 251 448.1 254.1 460.8 255C473.5 255.9 521.5 255 533.6 255V256.9H-6Z" fill="#ffb6b9"/>
<path d="M-4 203.4C-2.7 198.7 1.6 202.3 4 202.6C6.4 202.9 8.8 203.5 10.4 205C12 206.5 13.3 208.7 13.6 211.4C13.9 214.1 13.2 218.1 12 221C10.8 223.9 9.1 227.4 6.4 229C3.7 230.6 -2.3 234.9 -4 230.6C-5.7 226.3 -5.3 208.1 -4 203.4Z" fill="#fffac8"/>
<path d="M-4 217.8C-2.8 213.8 1.3 214.1 3.2 214.6C5.1 215.1 6.9 217.8 7.2 221C7.5 224.2 6.7 230.9 4.8 233.8C2.9 236.7 -2.5 241.3 -4 238.6C-5.5 235.9 -5.2 221.8 -4 217.8Z" fill="#ffe146"/>
<path d="M142.4 251L143.2 223L145.6 203.8L150.4 194.2L155.2 203.8L157.6 223L158.4 251M145.6 251L146.4 226.2L148 210.2L150.4 202.2L152.8 210.2L154.4 226.2L155.2 251M148 251L148.8 231L150.4 213.4L152 231L152.8 251M160 251L161.6 215L166.4 200.6L172.8 205.4L176 223L177.6 251M166.4 251L168 223L170.4 211.8L173.6 223L174.4 251M204.8 251L206.4 219.8L209.6 205.4L214.4 200.6L217.6 215L218.4 251M209.6 251L211.2 223L213.6 210.2L216 223L216 251M128 251L129.6 223L132.8 207L137.6 200.6L140.8 207M0 203.8L4.8 207L9.6 203.8L12.8 208.6L14.4 223L11.2 239L4.8 247L0 251M3.2 216.6L5.6 223L4.8 235.8L2.4 239M224 251L225.6 223L228.8 207L233.6 216.6L236.8 231L240 219.8L243.2 213.4L248 223L251.2 239L256 231L262.4 216.6L264 213.4M264 239L270.4 240.6L278.4 239L283.2 229.4L286.4 216.6L289.6 199L291.2 175L293.6 143L295.2 119L296.8 104L300.8 80L307.2 64L315.2 56.8L323.2 56L327.2 52.8L331.2 58.4L337.6 57.6L342.4 60.8L347.2 60L353.6 56.8L360 53.6L364.8 52.8L368 57.6L367.2 72L364.8 89.6L361.6 108.8L359.2 126.4L360 134.4L362.4 121.6L364 136L364.8 147.8L368 165.4L370.4 155.8L372.8 135L375.2 114.2L379.2 89.6L383.2 70.4L388.8 68.8L393.6 67.2L396.8 72L400 80L403.2 75.2L404.8 89.6L406.4 104L409.6 107.2L412.8 89.6L415.2 72.8L417.6 83.2L418.4 112L416.8 143L417.6 191L419.2 223L420 251M312 156L312 112L313.6 99.2L318.4 91.2L324.8 81.6L328 80L331.2 86.4L334.4 94.4L337.6 99.2L341.6 94.4L344 98.4L346.4 96L348 108.8L348.8 144L348.8 159L351.2 191L353.6 200.6L356.8 191L360 197.4L361.6 207L366.4 210.2L369.6 199L372.8 184.6L376 178.2L379.2 181.4L382.4 162.2L384 143L383.2 139.8M312 155.8L312 143L310.4 159L304.8 147.8L303.2 130.2L300.8 122.2L299.2 127L298.4 155.8M324 156L324.8 112L327.2 104L329.6 112L330.4 156M324 155.8L323.5 191L324.8 231L321.6 239M330.4 155.8L329.6 159L331.2 178.2L328 207L327.2 232.6M386.4 70.4L387.2 96L388.8 121.6L392 112L396.8 92.8L399.2 83.2L401.6 99.2L404.8 121.6L406.4 144L406.4 147.8L408 175L409.6 213.4L412.8 223L414.4 239L417.6 251M395.2 111L396.8 143L398.4 175L400 207L401.6 223L404.8 232.6L408 223M451.2 251L448 239L444.8 223L440 216.6L436.8 219.8L432 216.6L432.8 191L433.6 159L436.8 146.2L441.6 135L444.8 119L446.4 96L448 67.2L451.2 56L454.4 55.2L457.6 60.8L462.4 65.6L464.8 76.8L466.4 96L465.6 120L464 144L463.2 175L462.4 207L461.6 231L460.8 251M456 159L451.2 119L451.2 120L453.6 96L456 87.2L459.2 96L460.8 120L460 144L459.2 159L457.6 207L456 239M480 123.8L480 159L481.6 191L483.2 219.8L486.4 215L489.6 216.6L494.4 223L499.2 235.8L502.4 207L504 175L505.6 143L508.8 127L510.4 135L512.8 151L515.2 127L517.6 136L516.8 112L515.2 94.4L510.4 91.2L507.2 80L504 75.2L500 80L497.6 104L494.4 128L491.2 137.6L488 140.8L484.8 139.8L481.6 127L480 123.8M500.8 144L502.4 128L504 147.2M475.2 231L477.6 234.2L476.8 240.6L474.4 241.4M332.8 147.8L333.6 165.4L332.8 178.2L332 165.4L332.8 147.8M451.2 152.6L451.5 165.4M356.8 251L358.4 207L361.6 194.2M334.4 251L336 223L339.2 207L344 219.8L347.2 213.4L353.6 216.6L356.8 231M427.2 229.4L430.4 232.6L431.2 239L428.8 237.4L427.2 229.4M36.9 251L38.6 245.5L41.1 241.8L43.7 245.9L45.4 251M51.9 251L53.1 237.6L55 228.6L57 238.7L58.2 251M122.7 251L123.5 237.6L124.8 228.6L126 238.7L126.9 251M27.8 251L29.2 236.9L31.2 227.5L33.3 238.1L34.6 251M125.2 251L126.2 242.1L127.5 236.2L128.9 242.9L129.8 251M80.8 251L82 238.3L83.7 229.8L85.4 239.3L86.5 251M245.3 251L246.4 230.3L248.1 216.5L249.8 232L250.9 251M149.9 251L151.8 231.7L154.7 218.8L157.5 233.3L159.4 251M151 251L152.8 227.9L155.6 212.5L158.3 229.8L160.1 251M206.1 251L207 237.4L208.5 228.4L209.9 238.5L210.9 251M132.3 251L133.4 227.7L135 212.1L136.7 229.6L137.8 251M217.2 251L219 240.4L221.6 233.3L224.2 241.3L226 251M204.9 251L206 239.7L207.5 232.2L209.1 240.7L210.1 251M220.9 251L222 243.8L223.6 238.9L225.3 244.4L226.4 251M198.9 251L200.4 229.7L202.7 215.4L205 231.4L206.5 251M163.8 251L164.8 228.5L166.4 213.5L168 230.4L169.1 251M128.8 251L130.1 240.2L132.2 232.9L134.2 241.1L135.5 251M134.7 251L136 241.8L137.9 235.7L139.7 242.6L141 251M439.1 251L440.3 244.5L442.2 240.1L444.1 245L445.3 251M459 251L460.5 233.3L462.9 221.4L465.3 234.7L466.9 251M447.4 251L448.4 238.5L449.9 230.1L451.4 239.5L452.4 251M402.6 251L404.5 246L407.3 242.6L410.1 246.4L411.9 251M448.4 251L449.3 233.5L450.6 221.8L451.9 235L452.7 251" fill="none" stroke="#000" stroke-width="1.6" stroke-linejoin="round" stroke-linecap="round"/>
<path d="M39.2 99.2L37.6 105.6L36 115.2L40 121.6L44.8 128L49.6 139.2L54.4 150.4L54.4 147.8L56.8 159L60 155.8L62.4 163.8L60.8 170.2L56.8 171.8L56 184.6L55.2 191M41.6 100L44.8 108.8L48 115.2L54.4 116L60.8 114.4L65.6 112L68.8 113.6L72 110.4L76 110.4L77.6 116.8L76 121.6L74.4 128L74.4 140.8L76 148.8L80 152M89.6 159L92.8 163.8L96 159L97.6 167L92.8 175L89.6 171.8L84.8 184.6L80.8 189.4L78.4 197.4L80 207M0 138.2L4.8 141.4L7.2 159L9.6 171.8L12 181.4L14.4 189.4M20.8 136.6L21.6 147.8L20.8 157.4M0 173.4L4.8 184.6L8 189.4L12.8 186.2L16 189.4L19.2 181.4M137.6 155.8L136.8 135L139.2 125.4L144 122.2L149.6 123.8L151.2 128.6L156.8 133.4L161.6 141.4L163.2 151L160 162.2L155.2 167L150.4 165.4L146.4 168.6L140.8 162.2M145.6 127L144.8 143L144 154.2M192 184.6L198.4 183L201.6 175L200 165.4L197.6 155.8L196 135L198.4 123.8L206.4 119.8L212 114.2L213.6 101.4L214.4 89.6L217.6 83.2L223.2 82.4L227.2 88L231.2 92L238.4 87.2L244.8 89.6L249.6 95.2L256 92L260 99.2L262.4 108.8L265.6 121.6L268.8 132.8M273.6 144L278.4 152L280 162.2L281.6 171.8L282.4 184.6L280 191L276.8 187.8M252.8 123.8L252.8 143L253.6 162.2L257.6 170.2L262.4 168.6M115.2 189.4L117.6 175L121.6 170.2L128 165.4L130.4 157.4L132.8 168.6L137.6 173.4L142.4 179.8L144 186.2M102.4 239L104 216.6L110.4 199L118.4 194.2L128 197.4L132.8 194.2M89.6 207L92.8 216.6L86.4 226.2L80 239M40 251L40.8 223L43.2 199L48 197.4L52.8 191M64 199L68.8 205.4L73.6 210.2L78.4 207M180.8 251L181.6 207L180.8 191M240 207L243.2 197.4L249.6 194.2M264 159L268.8 167L273.6 181.4M270.4 191L271.2 215L270.4 227.8M424 139.8L426.4 143L427.2 159L424.8 167L423.2 159L423.2 146.2L424 139.8M472 99.2L473.6 112L475.2 128L476 144L476 147.8L476.8 155.8M464 151L462.4 167L464 184.6L467.2 199L470.4 205.4M468.8 162.2L470.4 178.2L472 194.2L473.6 207M424 139.2L424 156M427.2 140.8L428 156M56.9 251L58.7 233.2L61.5 221.4L64.4 234.7L66.2 251M59.5 251L61 234.3L63.2 223.2L65.5 235.7L67 251M24.2 251L25.8 234.2L28.1 223.1L30.4 235.6L31.9 251M101.2 251L102.4 243L104.1 237.7L105.9 243.7L107.1 251M12.3 251L13.9 228L16.3 212.7L18.8 229.9L20.4 251M5.4 251L7.4 224.4L10.2 206.6L13.1 226.6L15 251M84.2 251L85.2 232.1L86.7 219.5L88.3 233.7L89.3 251M4.6 251L5.5 233.9L6.9 222.5L8.2 235.3L9.1 251M26.6 251L27.5 239.9L28.8 232.5L30.1 240.8L31 251M58.5 251L60.3 235.7L63 225.6L65.7 237L67.5 251M66.4 251L67.8 231.6L69.9 218.6L72 233.2L73.4 251M84.9 251L86.1 235.4L87.8 225L89.5 236.7L90.7 251M125.3 251L127 224.1L129.7 206.2L132.4 226.3L134.2 251M90.7 251L91.8 238.4L93.5 230L95.1 239.4L96.2 251M110 251L111.9 238L114.8 229.4L117.7 239.1L119.6 251M226.1 251L227.2 242.5L228.9 236.9L230.5 243.2L231.7 251M112.8 251L114.6 243.7L117.2 238.9L119.8 244.3L121.5 251M126.9 251L128.2 233.3L130.2 221.4L132.2 234.7L133.6 251M129.9 251L130.9 229.6L132.4 215.4L133.9 231.4L134.9 251M206.2 251L207.5 242.6L209.4 236.9L211.4 243.3L212.7 251M131.4 251L133.3 239.3L136.2 231.6L139.1 240.3L141 251M232 251L233.8 238.6L236.6 230.4L239.3 239.6L241.2 251M131.3 251L133.1 236.7L135.8 227.2L138.5 237.9L140.3 251M204.2 251L206.2 242.9L209.1 237.5L212 243.6L214 251M132 251L133.7 239.6L136.3 232L138.8 240.5L140.5 251M153.6 251L154.5 238.8L155.9 230.6L157.3 239.8L158.2 251M112.5 251L113.7 232.8L115.3 220.6L117 234.3L118.1 251M198.8 251L200.2 237.2L202.2 228L204.2 238.3L205.6 251M259.3 251L260.8 234.8L263.1 224.1L265.3 236.2L266.8 251M244.8 251L245.8 241.2L247.3 234.6L248.8 242L249.8 251" fill="none" stroke="#000" stroke-width="1.6" stroke-linejoin="round" stroke-dasharray="9.5 4.5"/>
<text x="84" y="150.4" font-size="9" text-anchor="middle" transform="rotate(70 84 150.4)">05</text>
<text x="56" y="195" font-size="9" text-anchor="middle" transform="rotate(70 56 195)">02</text>
<text x="148" y="159" font-size="9" text-anchor="middle" transform="rotate(80 148 159)">05</text>
<text x="197.6" y="189.4" font-size="9" text-anchor="middle" transform="rotate(30 197.6 189.4)">.02</text>
<text x="271.2" y="140.8" font-size="9" text-anchor="middle" transform="rotate(60 271.2 140.8)">02</text>
<text x="250.4" y="187.8" font-size="9" text-anchor="middle" transform="rotate(70 250.4 187.8)">02</text>
<text x="315.5" y="93.6" font-size="9" text-anchor="middle" transform="rotate(60 315.5 93.6)">06</text>
<text x="458.4" y="129.6" font-size="9" text-anchor="middle" transform="rotate(90 458.4 129.6)">06</text>
<text x="361.6" y="210.2" font-size="9" text-anchor="middle" transform="rotate(80 361.6 210.2)">06</text>
<path d="M304 251.8L307.2 242.2L316.8 237.4L328 234.2L344 234.2L353.6 235.8L363.2 232.6L368 226.2L376 223L382.4 224.6L388.8 231L392 235.8L400 242.2L408 245.4L416 251.8Z" fill="#000"/>
<path d="M12.8 251.8L24 246.2L48 245.1L80 246.2L112 247.3L136 246.2L152 244.6L168 245.4L192 247.3L224 248.1L264 248.9L264 251.8Z" fill="#000"/>
<path d="M264 248.9L304 249.4L304 251.8L264 251.8Z" fill="#000"/>
<path d="M416 250.2L440 249.4L456 250.5L456 251.8L416 251.8Z" fill="#000"/>
</g>
<rect x="0" y="0" width="527.6" height="250.9" fill="none" stroke="#000" stroke-width="1.6"/>
</g>
<path d="M873.8 385.8H886.8M873.8 417.4H886.8M873.8 452.9H886.8M873.8 478.1H886.8M873.8 497.8H886.8M873.8 513.8H886.8M873.8 539.1H886.8M873.8 558.5H886.8M873.8 588.1H886.8M873.8 605H886.8M1414.4 420H1427.9M1414.4 475H1427.9M1414.4 528.5H1427.9M1414.4 576.5H1427.9M941.5 617.5V624.5M998.3 617.5V624.5M1055.1 617.5V631M1111.9 617.5V624.5M1168.7 617.5V624.5M1225.5 617.5V631M1282.3 617.5V624.5M1339.1 617.5V624.5M1395.8 617.5V631" stroke="#000" stroke-width="1.3" fill="none"/>
<text font-size="25" text-anchor="end" transform="translate(856.5 426.5) scale(1 1.043)">100</text>
<text font-size="25" text-anchor="end" transform="translate(856.5 487.2) scale(1 1.043)">200</text>
<text font-size="25" text-anchor="end" transform="translate(856.5 522.9) scale(1 1.043)">300</text>
<text font-size="25" text-anchor="end" transform="translate(856.5 567.6) scale(1 1.043)">500</text>
<text font-size="25" text-anchor="end" transform="translate(856.5 614.1) scale(1 1.043)">850</text>
<text font-size="25" text-anchor="start" transform="translate(1443.9 429.4) scale(1 1.043)">16</text>
<text font-size="25" text-anchor="start" transform="translate(1443.9 484.4) scale(1 1.043)">12</text>
<text font-size="25" text-anchor="start" transform="translate(1443.9 537.9) scale(1 1.043)">8</text>
<text font-size="25" text-anchor="start" transform="translate(1443.9 585.9) scale(1 1.043)">4</text>
<text font-size="41" text-anchor="start" transform="translate(885.3 356) scale(1 1.043)">d</text>
<g transform="translate(213.2 673.3)">
<g clip-path="url(#cpe)">
<rect x="-2" y="-2" width="532.1" height="253.9" fill="#8220f0"/>
<path d="M-6 29.6C-5 29.6 -6.3 30.4 0 29.6C6.3 28.8 21.3 25.5 32 24.8C42.7 24.1 53.3 25.3 64 25.6C74.7 25.9 85.3 26.1 96 26.4C106.7 26.7 120 27.3 128 27.2C136 27.1 138.7 26.4 144 25.6C149.3 24.8 152 23.3 160 22.4C168 21.5 181.3 20.4 192 20C202.7 19.6 212 19.7 224 20C236 20.3 249.3 21.6 264 21.6C278.7 21.6 296 20.4 312 20C328 19.6 344 19.3 360 19.2C376 19.1 392 19.3 408 19.5C424 19.8 436 20.5 456 20.8C476 21.1 515 21.5 528 21.6C541 21.7 533.1 21.6 534.1 21.6V255.9H-6Z" fill="#0000ff"/>
<path d="M-6 39.2C-5 39.2 -6.3 40 0 39.2C6.3 38.4 21.3 35.1 32 34.4C42.7 33.7 53.3 34.9 64 35.2C74.7 35.5 85.3 35.7 96 36C106.7 36.3 117.3 37.5 128 37.1C138.7 36.7 149.3 34.7 160 33.6C170.7 32.5 181.3 31 192 30.4C202.7 29.8 212 29.9 224 30.1C236 30.2 249.3 31.1 264 31.2C278.7 31.3 296 30.7 312 30.4C328 30.1 344 29.6 360 29.6C376 29.6 392 30.1 408 30.4C424 30.7 436 31.1 456 31.2C476 31.3 515 31.2 528 31.2C541 31.2 533.1 31.2 534.1 31.2V255.9H-6Z" fill="#4169e1"/>
<path d="M-6 49.6C-5 49.6 -6.3 50.1 0 49.6C6.3 49.1 21.3 46.8 32 46.4C42.7 46 53.3 46.8 64 47.2C74.7 47.6 85.3 48.3 96 48.8C106.7 49.3 117.3 50.5 128 50.4C138.7 50.3 149.3 49.1 160 48C170.7 46.9 181.3 44.8 192 44C202.7 43.2 212 43.2 224 43.2C236 43.2 249.3 43.7 264 44C278.7 44.3 296 44.9 312 44.8C328 44.7 344 43.5 360 43.2C376 42.9 392 42.9 408 43.2C424 43.5 442.7 44.4 456 44.8C469.3 45.2 476 45.9 488 45.6C500 45.3 520.3 43.6 528 43.2C535.7 42.8 533.1 43.2 534.1 43.2V255.9H-6Z" fill="#2391fa"/>
<path d="M-6 64C-5 64 -6.3 64.5 0 64C6.3 63.5 21.3 61.2 32 60.8C42.7 60.4 53.3 61.2 64 61.6C74.7 62 85.3 62.5 96 63.2C106.7 63.9 117.3 65.1 128 65.6C138.7 66.1 149.3 66.7 160 66.4C170.7 66.1 181.3 64.9 192 64C202.7 63.1 212 61.3 224 60.8C236 60.3 252 60.9 264 60.8C276 60.7 285.3 60.7 296 60C306.7 59.3 317.3 57.3 328 56.8C338.7 56.3 349.3 56.1 360 56.8C370.7 57.5 381.3 59.9 392 60.8C402.7 61.7 413.3 62.1 424 62.4C434.7 62.7 448 62.1 456 62.4C464 62.7 466.7 61.9 472 64C477.3 66.1 484 71.5 488 75.2C492 78.9 492 83.7 496 86.4C500 89.1 506.7 90.1 512 91.2C517.3 92.3 524.3 92.5 528 92.8C531.7 93.1 533.1 92.8 534.1 92.8V255.9H-6Z" fill="#00bef8"/>
<path d="M-6 86.4C-5 86.4 -6.3 86.1 0 86.4C6.3 86.7 24.5 87.9 32 88C39.5 88.1 39.5 88.1 44.8 87.2C50.1 86.3 55.5 83.9 64 82.4C72.5 80.9 85.3 78.5 96 78.4C106.7 78.3 117.3 80.8 128 81.6C138.7 82.4 149.3 82.9 160 83.2C170.7 83.5 181.3 83.7 192 83.2C202.7 82.7 212 80.8 224 80C236 79.2 254.7 77.6 264 78.4C273.3 79.2 274.7 82.4 280 84.8C285.3 87.2 290.7 90.9 296 92.8C301.3 94.7 306.7 96 312 96C317.3 96 322.7 94.1 328 92.8C333.3 91.5 338.7 89.1 344 88C349.3 86.9 352 86.7 360 86.4C368 86.1 381.3 86.7 392 86.4C402.7 86.1 413.3 84.7 424 84.8C434.7 84.9 448 86.1 456 87.2C464 88.3 468 88.7 472 91.2C476 93.7 477.3 98.4 480 102.4C482.7 106.4 485.3 110.9 488 115.2C490.7 119.5 493.3 124.3 496 128C498.7 131.7 500 134.9 504 137.6C508 140.3 516 143.2 520 144C524 144.8 525.6 142.7 528 142.4C530.4 142.1 533.1 142.4 534.1 142.4V255.9H-6Z" fill="#96d2f0"/>
<path d="M-6 118.4C-5 118.4 -3.7 118.5 0 118.4C3.7 118.3 10.7 118.1 16 117.6C21.3 117.1 28 117.2 32 115.2C36 113.2 37.3 108.8 40 105.6C42.7 102.4 44 98.3 48 96C52 93.7 56 93.3 64 92C72 90.7 85.3 88.5 96 88C106.7 87.5 117.3 88.4 128 88.8C138.7 89.2 149.3 89.5 160 90.4C170.7 91.3 184 92.9 192 94.4C200 95.9 202.7 97.9 208 99.2C213.3 100.5 218.7 101.6 224 102.4C229.3 103.2 233.3 104 240 104C246.7 104 257.3 101.5 264 102.4C270.7 103.3 274.7 107.2 280 109.4C285.3 111.6 290.7 113.4 296 115.8C301.3 118.2 306.7 121.1 312 123.8C317.3 126.5 322.7 129.7 328 131.8C333.3 133.9 338.7 136.3 344 136.6C349.3 136.9 354.7 135.3 360 133.4C365.3 131.5 370.7 128.3 376 125.4C381.3 122.5 386.7 118.7 392 115.8C397.3 112.9 402.7 109.9 408 107.8C413.3 105.7 418.7 104.1 424 103C429.3 101.9 434.7 101.4 440 101.4C445.3 101.4 450.7 101.7 456 103C461.3 104.3 468 106.2 472 109.4C476 112.6 477.3 117.7 480 122.2C482.7 126.7 485.3 131.5 488 136.6C490.7 141.7 493.3 148.1 496 152.6C498.7 157.1 500 160.6 504 163.8C508 167 516 169.9 520 171.8C524 173.7 525.6 174.5 528 175C530.4 175.5 533.1 175 534.1 175V255.9H-6Z" fill="#fffacd"/>
<path d="M-6 155.8C-5 155.8 -2.3 157.1 0 155.8C2.3 154.5 5.3 150.5 8 147.8C10.7 145.1 13.3 142.5 16 139.8C18.7 137.1 21.3 134.5 24 131.8C26.7 129.1 29.3 127.3 32 123.8C34.7 120.3 37.3 114.2 40 111C42.7 107.8 44 106.1 48 104.6C52 103.1 58.7 103.1 64 102.2C69.3 101.3 74.7 99.9 80 99C85.3 98.1 88 97.1 96 96.6C104 96.1 117.3 95.7 128 95.8C138.7 95.9 149.3 96.3 160 97.4C170.7 98.5 184 100.6 192 102.2C200 103.8 202.7 105.7 208 107C213.3 108.3 218.7 109.3 224 110.2C229.3 111.1 233.3 112.3 240 112.6C246.7 112.9 257.3 110.7 264 111.8C270.7 112.9 274.7 116.5 280 119C285.3 121.5 290.7 124.1 296 127C301.3 129.9 306.7 132.9 312 136.6C317.3 140.3 324 145.7 328 149.4C332 153.1 333.3 155.5 336 159C338.7 162.5 341.9 165.4 344 170.2C346.1 175 346.1 182.7 348.8 187.8C351.5 192.9 355.5 197.9 360 200.6C364.5 203.3 370.7 205.4 376 203.8C381.3 202.2 388.3 197.1 392 191C395.7 184.9 397.1 175 398.4 167C399.7 159 398.4 148.9 400 143C401.6 137.1 404 135.3 408 131.8C412 128.3 418.7 124.3 424 122.2C429.3 120.1 434.7 119 440 119C445.3 119 450.7 120.1 456 122.2C461.3 124.3 468 128.1 472 131.8C476 135.5 477.3 140.1 480 144.6C482.7 149.1 485.3 153.9 488 159C490.7 164.1 493.3 170.5 496 175C498.7 179.5 500 182.5 504 186.2C508 189.9 516 195 520 197.4C524 199.8 525.6 200.1 528 200.6C530.4 201.1 533.1 200.6 534.1 200.6V255.9H-6Z" fill="#ffe146"/>
<path d="M-6 184.6C-5 184.6 -2.3 186.2 0 184.6C2.3 183 5.3 179.3 8 175C10.7 170.7 13.3 164.3 16 159C18.7 153.7 21.3 148.3 24 143C26.7 137.7 29.3 131.3 32 127C34.7 122.7 37.3 119.8 40 117.4C42.7 115 44 113.9 48 112.6C52 111.3 58.7 110.5 64 109.4C69.3 108.3 74.7 107.1 80 106.2C85.3 105.3 88 104.1 96 103.8C104 103.5 117.3 104.2 128 104.6C138.7 105 149.3 105.1 160 106.2C170.7 107.3 184 109.4 192 111C200 112.6 202.7 114.7 208 115.8C213.3 116.9 218.7 116.9 224 117.4C229.3 117.9 233.3 118.9 240 119C246.7 119.1 257.3 116.9 264 118.2C270.7 119.5 274.7 123.9 280 127C285.3 130.1 290.7 133.1 296 136.6C301.3 140.1 306.7 143.5 312 147.8C317.3 152.1 324 157.7 328 162.2C332 166.7 333.3 170.2 336 175C338.7 179.8 341.3 185.1 344 191C346.7 196.9 348.8 204.3 352 210.2C355.2 216.1 358.7 223.3 363.2 226.2C367.7 229.1 374.4 228.9 379.2 227.8C384 226.7 389.3 224.6 392 219.8C394.7 215 393.9 206.5 395.2 199C396.5 191.5 398.4 181.7 400 175C401.6 168.3 402.1 163.8 404.8 159C407.5 154.2 411.5 149.1 416 146.2C420.5 143.3 426.7 142.2 432 141.4C437.3 140.6 442.7 140.6 448 141.4C453.3 142.2 459.5 143.3 464 146.2C468.5 149.1 472.5 154.2 475.2 159C477.9 163.8 477.9 169.7 480 175C482.1 180.3 485.3 186.2 488 191C490.7 195.8 493.3 200.1 496 203.8C498.7 207.5 500 210.2 504 213.4C508 216.6 516 220.9 520 223C524 225.1 525.6 225.7 528 226.2C530.4 226.7 533.1 226.2 534.1 226.2V255.9H-6Z" fill="#ffaa0f"/>
<path d="M-6 197.4C-5 197.4 -3.7 198.5 0 197.4C3.7 196.3 10.7 193.7 16 191C21.3 188.3 26.7 184.1 32 181.4C37.3 178.7 42.7 177.7 48 175C53.3 172.3 59.2 167.5 64 165.4C68.8 163.3 73.1 165.9 76.8 162.2C80.5 158.5 84 148.9 86.4 143C88.8 137.1 89.6 130.5 91.2 127C92.8 123.5 92.5 123.5 96 122.2C99.5 120.9 106.7 119.3 112 119C117.3 118.7 122.7 120.1 128 120.6C133.3 121.1 138.7 122.5 144 122.2C149.3 121.9 154.7 119.8 160 119C165.3 118.2 172 116.9 176 117.4C180 117.9 181.3 119.8 184 122.2C186.7 124.6 189.9 127.5 192 131.8C194.1 136.1 194.1 143.3 196.8 147.8C199.5 152.3 203.5 157.1 208 159C212.5 160.9 218.7 160.3 224 159C229.3 157.7 234.7 153.7 240 151C245.3 148.3 252 144.9 256 143C260 141.1 260 139.3 264 139.8C268 140.3 274.7 143.3 280 146.2C285.3 149.1 290.7 153.4 296 157.4C301.3 161.4 306.7 165.7 312 170.2C317.3 174.7 324 180.1 328 184.6C332 189.1 333.3 192.3 336 197.4C338.7 202.5 341.6 208.6 344 215C346.4 221.4 347.7 229.1 350.4 235.8C353.1 242.5 353.1 251.8 360 255C366.9 258.2 385.9 260.3 392 255C398.1 249.7 394.9 232.3 396.8 223C398.7 213.7 401.3 205.7 403.2 199C405.1 192.3 405.9 187 408 183C410.1 179 412 176.9 416 175C420 173.1 426.7 172.1 432 171.8C437.3 171.5 442.7 172.3 448 173.4C453.3 174.5 459.5 175.8 464 178.2C468.5 180.6 472.8 183 475.2 187.8C477.6 192.6 478.1 199.8 478.4 207C478.7 214.2 477.9 223 476.8 231C475.7 239 462.5 251 472 255C481.5 259 523.7 255 534.1 255V255.9H-6Z" fill="#ff6e0a"/>
<path d="M-6 207C-5 207 -3.7 208.3 0 207C3.7 205.7 10.7 201.7 16 199C21.3 196.3 26.7 193.4 32 191C37.3 188.6 42.7 186.1 48 184.6C53.3 183.1 58.7 182.7 64 182.2C69.3 181.7 74.7 181.4 80 181.4C85.3 181.4 90.7 181.4 96 182.2C101.3 183 106.7 184.5 112 186.2C117.3 187.9 122.7 191.3 128 192.6C133.3 193.9 138.7 195.3 144 194.2C149.3 193.1 156 188.3 160 186.2C164 184.1 164 182.1 168 181.4C172 180.7 178.7 181.1 184 182.2C189.3 183.3 194.7 186.3 200 187.8C205.3 189.3 210.7 190.5 216 191C221.3 191.5 226.7 191.5 232 191C237.3 190.5 242.7 188.9 248 187.8C253.3 186.7 261.3 185.7 264 184.6C266.7 183.5 261.3 181.4 264 181.4C266.7 181.4 274.7 183 280 184.6C285.3 186.2 290.7 188.9 296 191C301.3 193.1 306.7 194.7 312 197.4C317.3 200.1 323.2 203.3 328 207C332.8 210.7 337.6 215 340.8 219.8C344 224.6 345.6 229.9 347.2 235.8C348.8 241.7 319.2 251.8 350.4 255C381.5 258.2 503.5 255 534.1 255V255.9H-6Z" fill="#fa0a0a"/>
<path d="M-6 221.4C-5 221.4 -3.7 223.3 0 221.4C3.7 219.5 10.7 213.7 16 210.2C21.3 206.7 26.7 203.3 32 200.6C37.3 197.9 42.7 195.8 48 194.2C53.3 192.6 58.7 191.5 64 191C69.3 190.5 74.7 190.7 80 191C85.3 191.3 90.7 191.5 96 192.6C101.3 193.7 106.7 195.3 112 197.4C117.3 199.5 122.7 203.8 128 205.4C133.3 207 138.7 207.8 144 207C149.3 206.2 154.7 202.2 160 200.6C165.3 199 170.7 197.7 176 197.4C181.3 197.1 186.7 198.2 192 199C197.3 199.8 202.7 201.4 208 202.2C213.3 203 218.7 203.8 224 203.8C229.3 203.8 233.3 203 240 202.2C246.7 201.4 260 199.8 264 199C268 198.2 261.3 197.4 264 197.4C266.7 197.4 274.7 197.7 280 199C285.3 200.3 290.7 203 296 205.4C301.3 207.8 306.7 210.5 312 213.4C317.3 216.3 324 219.8 328 223C332 226.2 333.9 227.3 336 232.6C338.1 237.9 307.8 251.3 340.8 255C373.8 258.7 501.9 255 534.1 255V255.9H-6Z" fill="#c80a0a"/>
<path d="M-6.4 255C-6.4 251 -7.5 235.5 -6.4 231C-5.3 226.5 -3.7 229.9 0 227.8C3.7 225.7 10.7 221.7 16 218.2C21.3 214.7 26.7 209.7 32 207C37.3 204.3 42.7 203.3 48 202.2C53.3 201.1 58.7 200.6 64 200.6C69.3 200.6 74.7 201.1 80 202.2C85.3 203.3 91.2 204.6 96 207C100.8 209.4 105.6 212.6 108.8 216.6C112 220.6 113.6 224.6 115.2 231C116.8 237.4 117.9 251 118.4 255Z" fill="#ffb6b9"/>
<path d="M160 255C160.3 251 160.3 237.4 161.6 231C162.9 224.6 165.6 220.1 168 216.6C170.4 213.1 172 211.3 176 210.2C180 209.1 188 208.6 192 210.2C196 211.8 197.9 215.5 200 219.8C202.1 224.1 203.7 229.9 204.8 235.8C205.9 241.7 206.1 251.8 206.4 255Z" fill="#ffb6b9"/>
<path d="M254.4 255C254.7 252.3 254.7 243.3 256 239C257.3 234.7 259.7 232.1 262.4 229.4C265.1 226.7 267.7 224.3 272 223C276.3 221.7 282.7 220.9 288 221.4C293.3 221.9 300.5 223.3 304 226.2C307.5 229.1 307.7 234.2 308.8 239C309.9 243.8 310.1 252.3 310.4 255Z" fill="#ffb6b9"/>
<path d="M488 239C487.7 235.8 485.9 225.7 486.4 219.8C486.9 213.9 488.8 207.5 491.2 203.8C493.6 200.1 497.1 197.4 500.8 197.4C504.5 197.4 510.4 200.1 513.6 203.8C516.8 207.5 519.5 214.5 520 219.8C520.5 225.1 519.5 231.8 516.8 235.8C514.1 239.8 506.1 242.5 504 243.8Z" fill="#ffaa0f"/>
<path d="M0 118.4L9.6 112.8L17.6 100.5L21.6 108.8L25.6 114.4L29.6 115.2L34.4 110.4L38.4 104L42.4 112L46.4 120L50.4 110.4L54.4 112.8L59.2 121.6L64 128L68 137.6L70.4 156L71.2 175L72 199L73.6 216.6L72.8 231L70.4 239L72.3 251M24 251L22.4 239L20.8 216.6L20 197.4L17.6 175L16.8 155.8L17.9 141.4L20.8 128.6L24 136.6L26.4 144.6L29.6 150.2L33.6 147.8L37.6 143.8L41.6 143L45.6 147.8L48 162.2L49.6 184.6L50.4 207L52 226.2L55.2 235.8L58.4 226.2L59.5 207L62.4 191L61.6 171.8L60 159L56 144.6L52.8 143L51.2 152.6L51.5 171.8L53.6 181.4L56 175L58.4 181.4L60.8 170.2M21.6 162.2L22.4 178.2L21.6 191L20.5 178.2L21.6 162.2M0 200.6L6.4 207L11.2 211.8L16 201.4L20 205.4L24 207L28 199L32 197.4L36.8 200.6L39.2 207L40 223L42.4 235.8L46.4 240.6M0 221.4L4.8 231L9.6 239L16 231L20.8 232.6L25.6 229.4L32 232.6L35.2 239L40 251M32 251L33.6 223L36.8 210.2L40 207L42.4 216.6L43.2 239M176 129.6L176.3 144L176 162.2L175.2 178.2M154.4 141.4L154.9 159L154.4 167M148.8 251L149.6 207L151.2 191L153.6 184.6L157.6 178.2L160 162.2L162.4 158.2L165.6 162.2L168.8 178.2L172 191L173.6 207L176 223L177.6 239L179.2 251M151.2 200.6L156.8 203.8L161.6 207L168 205.4L172.8 213.4M353.6 251L351.2 223L350.4 199L348.8 171.8L345.6 162.2L342.4 187.8L339.2 175L334.4 162.2L335.2 127L336 102.4L337.6 89.6L342.4 94.4L345.6 76L350.4 81.6L355.2 84L360 80L366.4 88.8L369.6 84L372.8 92.8L376 88.8L380.8 99.2L384 107.2L387.2 104L390.4 115.2L396.8 126.4L400 137.6L401.6 162.2L400 183L396.8 199L392 207L390.4 223L392 235.8L400 239L408 242.2L412.8 251M361.6 223L362.4 199L361.6 175L360 159L356.8 147.8L353.6 155.8L352.8 143L353.6 137.6L356.8 128L361.6 124L366.4 128L369.6 132.8L374.4 135.2M395.2 144L396.8 147.8L398.4 167L396.8 184.6L393.6 197.4L390.4 191L388.8 167L387.2 155.8L382.4 157.4L379.2 167L376 162.2L372.8 165.4L371.2 184.6L368 175L366.4 191L365.6 215M368 226.2L369.3 184.6L370.9 226.2M372.8 226.2L374.1 189.4L375.7 226.2M376 226.2L377.3 194.2L378.9 226.2M379.2 226.2L380.5 184.6L382.1 226.2M383.2 226.2L384.5 189.4L386.1 226.2M387.2 226.2L388.5 194.2L390.1 226.2M406.4 72L408.8 66.4L410.4 68.8L412 61.6L415.2 70.4L413.6 74.4L408.8 73.6L406.4 72M284.8 251L286.4 223L292.8 215L299.2 221.4L308.8 218.2L316.8 223L328 221.4L334.4 227.8L340.8 223L347.2 229.4L352 239M296 251L297.6 231L304 226.2L312 231L320 227.8L331.2 232.6L339.2 229.4L345.6 235.8M305.6 251L308.8 237.4L316.8 234.2L324.8 239L332.8 235.8L340.8 240.6M267.2 251L268.8 231L273.6 223L278.4 227.8L281.6 239L280 251M270.4 251L272 239L275.2 235.8L277.6 242.2L276.8 251M513.6 248.6L504 247L496 239L488 223L481.6 191L479.2 143L480 112L483.2 92.8L489.6 80L496 75.2L502.4 78.4L508.8 76.8L516.8 80L523.2 86.4L528 96M528 243.8L520 247L513.6 248.6M528 213.4L520 219.8L512 223L504 219.8L499.2 207L494.4 183L492.8 143L493.6 112L496 92.8L500.8 90.4L507.2 92.8L513.6 91.2L520 96L526.4 108.8L528 115.2M528 175L526.4 184.6L520 199L512 203.8L504 194.2L499.2 175L496.8 143L497.6 120L499.2 105.6L504 103.2L508.8 105.6L515.2 104L521.6 112L528 124.8M506.4 159L507.2 143L511.2 130.2L513.6 127L518.4 135L523.2 159L524 178.2L520 197.4L513.6 203.8L508.8 197.4L506.4 178.2ZM500.8 156L502.4 128L504 119.2L507.2 117.6L512 120L516.8 118.4L523.2 128L528 139.2M488 251L491.2 239L496 245.4L500.8 251M101.9 251L103.8 232.6L106.7 220.3L109.5 234.1L111.5 251M112.5 251L114.4 236L117.3 226.1L120.2 237.3L122.1 251M98.5 251L99.7 229.1L101.4 214.5L103.1 230.9L104.3 251M101.4 251L102.5 240.2L104.3 233.1L106.1 241.1L107.3 251M163.7 251L165.2 234.7L167.5 223.8L169.7 236L171.2 251M156.6 251L158 230.1L160.2 216.1L162.4 231.8L163.8 251M133.9 251L135 237.6L136.6 228.6L138.2 238.7L139.3 251M158.9 251L160.1 228.7L161.9 213.9L163.7 230.6L164.9 251M155.1 251L156.2 228.1L158 212.9L159.8 230L160.9 251M229.7 251L231.5 221.1L234.1 201.2L236.8 223.6L238.5 251M213.8 251L215.4 233.9L217.8 222.5L220.2 235.3L221.8 251M203.4 251L204.5 232.3L206 219.8L207.6 233.9L208.6 251M206 251L207.7 240.8L210.3 233.9L212.8 241.6L214.5 251M207.6 251L208.9 236.8L210.8 227.3L212.7 238L214 251M240.9 251L242.2 240.3L244.2 233.2L246.2 241.2L247.6 251M225.3 251L227.1 223.4L229.7 205.1L232.4 225.7L234.1 251M240.6 251L241.9 236.2L243.9 226.3L245.8 237.4L247.1 251M49.2 251L51 245.8L53.8 242.4L56.6 246.2L58.4 251M54.7 251L56.4 239.9L59 232.5L61.6 240.8L63.3 251M37.2 251L38.2 243.3L39.6 238.2L41.1 244L42 251M49.4 251L50.3 245.8L51.7 242.3L53.1 246.2L54 251M449.5 251L450.7 246.1L452.5 242.8L454.4 246.5L455.6 251M440.6 251L441.6 248L443.2 246L444.7 248.2L445.7 251M443.9 251L444.8 243.6L446.1 238.7L447.4 244.3L448.3 251M489.9 251L491 240.6L492.5 233.7L494 241.5L495 251M452 251L453.3 243.8L455.1 239.1L457 244.4L458.3 251" fill="none" stroke="#000" stroke-width="1.6" stroke-linejoin="round" stroke-linecap="round"/>
<path d="M114.4 117.6L112.8 112L110.4 106.4L104 102.4L97.6 100L91.2 97.6L86.4 93.6L80.8 92L78.4 97.6L80 104L83.2 112L87.2 120L90.4 128L89.6 146.2L87.2 167L85.6 191L84.8 207L83.2 219.8L80 229.4L80.8 239L83.2 243.8L89.6 239M127.2 117.6L128.8 128L130.4 139.2L131.5 159L132.8 175L133.6 191M139.2 123.2L140.8 132.8L141.6 146.2L141.6 162.2L140.8 178.2L141.6 194.2L140.8 210.2L141.6 223M136.8 135L137.3 151L136.8 167L137.6 184.6L136.8 199M189.6 76L188.8 89.6L189.3 102.4M188 123.2L189.6 136L190.9 155.8L192 171.8L191.2 191M192 80L196 91.2L198.4 100L200.8 86.4L203.2 74.4L209.6 75.2L216 79.2L222.4 74.4L228.8 76L240 71.2L249.6 68.8L256 67.2L264 70.4L272 64L280 63.2L292.8 66.4L304 71.2L312 76.8L315.2 81.6M319.2 102.4L317.6 120L316.8 136L317.6 155.8L318.4 165.4L319.2 175L323.2 184.6L328 191L330.4 203.8L331.2 216.6L329.6 231M209.6 191L210.4 175L212 155.8L213.6 140.8L215.2 126.4L216 118.4L220 122.4L224 106.4L228.8 102.4L236.8 102.4L244.8 99.2L251.2 96L264 93.6L276.8 94.4L289.6 95.2L300.8 99.2L305.6 108.8L306.9 128L306.4 144L306.9 159L305.9 175L300.8 181.4L288 184.6L280 187.8L270.4 194.2L264 199L256 205.4L246.4 213.4L240 223M228.8 171.8L229.6 159L231.5 140.8L233.6 128L240 120L246.4 119.2L252.8 114.4L264 109.6L273.6 115.2L281.6 124.8L286.4 136L288 152L288 159L283.2 165.4L273.6 171.8L264 176.6L256 179.8L249.6 175L240 170.2L232 165.4L228.8 159M414.4 251L413.6 239L414.4 223L413.6 191L412.8 143L416 128L417.6 115.2L424 106.4L433.6 102.4L440 100L444.8 96.8L449.6 100.8M472 115.2L473.6 128L473.6 143L472.8 175L473.6 207L475.2 239L472 245.4L464 248.6M430.4 132.8L428.8 140.8L428.8 147.8L428 162.2L429.6 171.8M440 132.8L440 139.8L440.8 147.8L441.6 152.6L446.4 157.4L449.6 159M444.8 128L451.2 126.4L456 124.8L457.6 128L457.6 136.6L458.4 159L459.2 175L460 207L460.8 231L456 235.8M451.2 135L452 147.8M418.4 178.2L418.9 199L419.5 223M458.4 165.4L459.2 194.2M424 251L425.6 243.8L430.4 251M433.6 251L436.8 239L441.6 237.4L443.2 247M105.8 251L107.4 232.8L109.7 220.7L112.1 234.3L113.6 251M99 251L100.3 224.7L102.2 207.2L104 226.9L105.3 251M99.5 251L100.4 225.3L101.7 208.2L103.1 227.5L103.9 251M110.7 251L111.6 234.5L113 223.6L114.4 235.9L115.4 251M110.3 251L111.3 218.6L112.7 197.1L114.2 221.3L115.2 251M163.8 251L164.9 218L166.6 196.1L168.2 220.8L169.4 251M153 251L154.8 223.2L157.6 204.7L160.3 225.6L162.1 251M159.1 251L161 230.4L163.9 216.6L166.8 232.1L168.8 251M134.6 251L136.3 226.5L138.8 210.1L141.4 228.5L143.1 251M183.1 251L184 231.7L185.3 218.8L186.6 233.3L187.5 251M199.7 251L201.2 227.5L203.4 211.9L205.6 229.5L207.1 251M206.6 251L208.2 234.3L210.6 223.2L213.1 235.7L214.7 251M197.4 251L198.8 230.3L200.8 216.5L202.8 232L204.2 251M206 251L207.3 224.8L209.4 207.4L211.5 227L212.8 251M199.2 251L200.8 238.1L203.2 229.5L205.7 239.2L207.3 251M224.6 251L226.5 223.1L229.4 204.5L232.2 225.4L234.1 251M218.3 251L219.4 235.8L221 225.7L222.7 237.1L223.8 251M220.6 251L222.1 230.3L224.3 216.5L226.6 232L228.1 251M222.2 251L223.5 238.9L225.5 230.9L227.5 239.9L228.8 251M225 251L226.9 228.8L229.8 214L232.6 230.7L234.5 251M238.8 251L240.3 229.7L242.6 215.5L244.9 231.5L246.4 251" fill="none" stroke="#000" stroke-width="1.6" stroke-linejoin="round" stroke-dasharray="9.5 4.5"/>
<text x="123.2" y="112.8" font-size="9" text-anchor="middle" transform="rotate(8 123.2 112.8)">02</text>
<text x="190.1" y="112" font-size="9" text-anchor="middle" transform="rotate(80 190.1 112)">02</text>
<text x="319.2" y="91.2" font-size="9" text-anchor="middle" transform="rotate(75 319.2 91.2)">02</text>
<text x="175.2" y="155.8" font-size="9" text-anchor="middle" transform="rotate(85 175.2 155.8)">02</text>
<text x="387.2" y="136" font-size="9" text-anchor="middle" transform="rotate(0 387.2 136)">.06</text>
<text x="461.6" y="106.4" font-size="9" text-anchor="middle" transform="rotate(35 461.6 106.4)">.02</text>
<path d="M300 252L304 249L308 246.5L316 240L320 238L324 236.5L330 236L336 234.6L342 234.5L348 233.8L354 235L358 236L361 233L364 231L368 229L371 226.5L376 225L380 224.5L384 225.5L388 228L392 230.5L394 233L396 236L398 239L400 241L404 245L408 248L412 252Z" fill="#000"/>
<path d="M8 252L12 249L20 247L30 246L45 246L60 247L70 249L76 252Z" fill="#000"/>
<path d="M136 252L140 248L148 246L158 245.5L166 247L172 250L176 252Z" fill="#000"/>
<path d="M190 252L196 249L206 247.5L216 248L224 250L228 252Z" fill="#000"/>
<path d="M256 252L262 250L275 249L290 249L300 250L300 252Z" fill="#000"/>
<path d="M76 252L90 250.5L110 250L136 250.5L136 252Z" fill="#000"/>
<path d="M412 252L420 250.5L440 250.5L450 252Z" fill="#000"/>
</g>
<rect x="0" y="0" width="528.1" height="249.9" fill="none" stroke="#000" stroke-width="1.6"/>
</g>
<path d="M200.2 692.4H213.2M200.2 723.9H213.2M200.2 759.3H213.2M200.2 784.4H213.2M200.2 804H213.2M200.2 819.9H213.2M200.2 845.1H213.2M200.2 864.4H213.2M200.2 893.9H213.2M200.2 910.7H213.2M741.3 726.5H754.8M741.3 781.3H754.8M741.3 834.6H754.8M741.3 882.4H754.8M267.9 923.2V930.2M324.7 923.2V930.2M381.5 923.2V936.7M438.3 923.2V930.2M495.1 923.2V930.2M551.9 923.2V936.7M608.7 923.2V930.2M665.5 923.2V930.2M722.2 923.2V936.7" stroke="#000" stroke-width="1.3" fill="none"/>
<text font-size="25" text-anchor="end" transform="translate(182.9 733) scale(1 1.043)">100</text>
<text font-size="25" text-anchor="end" transform="translate(182.9 793.5) scale(1 1.043)">200</text>
<text font-size="25" text-anchor="end" transform="translate(182.9 829) scale(1 1.043)">300</text>
<text font-size="25" text-anchor="end" transform="translate(182.9 873.5) scale(1 1.043)">500</text>
<text font-size="25" text-anchor="end" transform="translate(182.9 919.8) scale(1 1.043)">850</text>
<text font-size="25" text-anchor="start" transform="translate(770.8 735.9) scale(1 1.043)">16</text>
<text font-size="25" text-anchor="start" transform="translate(770.8 790.7) scale(1 1.043)">12</text>
<text font-size="25" text-anchor="start" transform="translate(770.8 844) scale(1 1.043)">8</text>
<text font-size="25" text-anchor="start" transform="translate(770.8 891.8) scale(1 1.043)">4</text>
<text font-size="25" text-anchor="middle" transform="translate(381.5 973.6) scale(1 1.043)">45E</text>
<text font-size="25" text-anchor="middle" transform="translate(551.9 973.6) scale(1 1.043)">90E</text>
<text font-size="25" text-anchor="middle" transform="translate(722.2 973.6) scale(1 1.043)">135E</text>
<text font-size="41" text-anchor="start" transform="translate(211.7 662.7) scale(1 1.043)">e</text>
<text font-size="26.9" text-anchor="middle" transform="translate(118.6 798.5) rotate(-90) scale(1 1.043)">Pressure level (hPa)</text>
<g transform="translate(886.8 673.3)">
<g clip-path="url(#cpf)">
<rect x="-2" y="-2" width="531.6" height="253.9" fill="#8220f0"/>
<path d="M-6 14.4C-5 14.4 -9 14.8 0 14.4C9 14 32 12.7 48 12C64 11.3 77.3 10.8 96 10.4C114.7 10 138.7 9.7 160 9.6C181.3 9.5 206.7 9.5 224 9.6C241.3 9.7 246.7 10.4 264 10.4C281.3 10.4 306.7 9.2 328 9.6C349.3 10 370.7 11.9 392 12.8C413.3 13.7 433.3 14.8 456 15.2C478.7 15.6 515.1 15.2 528 15.2C540.9 15.2 532.7 15.2 533.6 15.2V255.9H-6Z" fill="#0000ff"/>
<path d="M-6 17.9C-5 17.9 -9 18.2 0 17.9C9 17.6 32 16.6 48 16C64 15.4 77.3 14.8 96 14.4C114.7 14 138.7 13.7 160 13.6C181.3 13.5 206.7 13.7 224 13.9C241.3 14.2 246.7 15.1 264 15.2C281.3 15.3 306.7 14.1 328 14.4C349.3 14.7 370.7 16 392 16.8C413.3 17.6 433.3 18.7 456 19.2C478.7 19.7 515.1 19.9 528 20C540.9 20.1 532.7 20 533.6 20V255.9H-6Z" fill="#4169e1"/>
<path d="M-6 25.6C-5 25.6 -9 26.3 0 25.6C9 24.9 32 22.5 48 21.6C64 20.7 77.3 20.5 96 20C114.7 19.5 138.7 18.6 160 18.4C181.3 18.2 206.7 18.6 224 18.7C241.3 18.9 246.7 19.3 264 19.2C281.3 19.1 306.7 17.9 328 18.4C349.3 18.9 370.7 21.2 392 22.4C413.3 23.6 433.3 24.8 456 25.6C478.7 26.4 515.1 26.9 528 27.2C540.9 27.5 532.7 27.2 533.6 27.2V255.9H-6Z" fill="#2391fa"/>
<path d="M-6 35.2C-5 35.2 -9 36.1 0 35.2C9 34.3 32 30.9 48 29.6C64 28.3 77.3 27.9 96 27.2C114.7 26.5 138.7 25.9 160 25.6C181.3 25.3 206.7 25.6 224 25.6C241.3 25.6 246.7 25.7 264 25.6C281.3 25.5 306.7 24.1 328 24.8C349.3 25.5 370.7 28.3 392 29.6C413.3 30.9 433.3 32.1 456 32.8C478.7 33.5 515.1 33.5 528 33.6C540.9 33.7 532.7 33.6 533.6 33.6V255.9H-6Z" fill="#00bef8"/>
<path d="M-6 53.6C-5 53.6 -3.7 54 0 53.6C3.7 53.2 10.7 52.1 16 51.2C21.3 50.3 24 49.6 32 48C40 46.4 53.3 43.3 64 41.6C74.7 39.9 85.3 38.5 96 37.6C106.7 36.7 117.3 36.4 128 36C138.7 35.6 144 35.5 160 35.2C176 34.9 206.7 34.7 224 34.4C241.3 34.1 246.7 33.9 264 33.6C281.3 33.3 312 32.4 328 32.8C344 33.2 349.3 34.7 360 36C370.7 37.3 381.3 39.1 392 40.8C402.7 42.5 414.7 44.4 424 46.4C433.3 48.4 442.7 51.6 448 52.8C453.3 54 452 54.1 456 53.6C460 53.1 466.7 50.8 472 49.6C477.3 48.4 478.7 47.5 488 46.4C497.3 45.3 520.4 43.7 528 43.2C535.6 42.7 532.7 43.2 533.6 43.2V255.9H-6Z" fill="#96d2f0"/>
<path d="M-6 96C-5 96 -3.7 96 0 96C3.7 96 12 96.8 16 96C20 95.2 20 93.3 24 91.2C28 89.1 34.7 85.9 40 83.2C45.3 80.5 50.7 77.6 56 75.2C61.3 72.8 66.7 70.9 72 68.8C77.3 66.7 82.7 64.5 88 62.4C93.3 60.3 98.7 57.7 104 56C109.3 54.3 114.7 52.9 120 52C125.3 51.1 129.3 50.5 136 50.4C142.7 50.3 150.7 51.1 160 51.2C169.3 51.3 181.3 51.7 192 51.2C202.7 50.7 212 49.1 224 48C236 46.9 252 45.6 264 44.8C276 44 285.3 43.2 296 43.2C306.7 43.2 317.3 43.7 328 44.8C338.7 45.9 349.3 46.9 360 49.6C370.7 52.3 384 57.3 392 60.8C400 64.3 402.7 66.4 408 70.4C413.3 74.4 420.8 79.4 424 84.8C427.2 90.2 425.6 97.3 427.2 103C428.8 108.7 431.7 113.7 433.6 119C435.5 124.3 437.1 129.7 438.4 135C439.7 140.3 440 145.9 441.6 151C443.2 156.1 447.2 160.9 448 165.4C448.8 169.9 447.2 173.9 446.4 178.2C445.6 182.5 443.5 186.2 443.2 191C442.9 195.8 443.7 201.7 444.8 207C445.9 212.3 448.3 217.7 449.6 223C450.9 228.3 452 233.7 452.8 239C453.6 244.3 440.9 252.3 454.4 255C467.9 257.7 520.4 255 533.6 255V255.9H-6Z" fill="#fffacd"/>
<path d="M440 159C441.3 156.9 450.7 157.1 456 157.4C461.3 157.7 468.8 159.3 472 160.6C475.2 161.9 476.5 164.1 475.2 165.4C473.9 166.7 468.5 167.8 464 168.6C459.5 169.4 452 171.8 448 170.2C444 168.6 438.7 161.1 440 159Z" fill="#fffacd"/>
<path d="M504 170.2C503.5 166.5 509.3 161.7 513.6 159C517.9 156.3 526.9 149.7 529.6 154.2C532.3 158.7 531.7 181.7 529.6 186.2C527.5 190.7 521.1 184.1 516.8 181.4C512.5 178.7 504.5 173.9 504 170.2Z" fill="#fffacd"/>
<path d="M465.6 255C465.3 251 464.5 239 464 231C463.5 223 462.1 213.7 462.4 207C462.7 200.3 463.5 194.2 465.6 191C467.7 187.8 471.5 186.7 475.2 187.8C478.9 188.9 483.2 194.7 488 197.4C492.8 200.1 499.7 200.6 504 203.8C508.3 207 510.4 213.4 513.6 216.6C516.8 219.8 520.5 221.4 523.2 223C525.9 224.6 528.5 220.9 529.6 226.2C530.7 231.5 529.6 250.2 529.6 255Z" fill="#00bef8"/>
<path d="M484.8 255C485.3 253.4 485.9 248.1 488 245.4C490.1 242.7 493.9 239.8 497.6 239C501.3 238.2 506.7 239.5 510.4 240.6C514.1 241.7 517.9 243 520 245.4C522.1 247.8 522.7 253.4 523.2 255Z" fill="#2391fa"/>
<path d="M-6 138.2C-5 138.2 -2.3 137.9 0 138.2C2.3 138.5 5.3 137.7 8 139.8C10.7 141.9 13.3 148.1 16 151C18.7 153.9 20 156.5 24 157.4C28 158.3 36 157.7 40 156.6C44 155.5 45.9 152.7 48 151C50.1 149.3 50.1 147.4 52.8 146.2C55.5 145 60.8 143.3 64 143.8C67.2 144.3 69.3 147.4 72 149.4C74.7 151.4 76 154.2 80 155.8C84 157.4 92 159 96 159C100 159 101.3 156.6 104 155.8C106.7 155 109.3 153.9 112 154.2C114.7 154.5 116 156.3 120 157.4C124 158.5 129.3 160.6 136 160.6C142.7 160.6 150.7 158.1 160 157.4C169.3 156.7 181.3 156.9 192 156.6C202.7 156.3 216 156.7 224 155.8C232 154.9 236.3 154.5 240 151C243.7 147.5 244.8 139.5 246.4 135C248 130.5 247.5 126.5 249.6 123.8C251.7 121.1 256.8 120.1 259.2 119C261.6 117.9 261.6 119.3 264 117.4C266.4 115.5 270.9 110.7 273.6 107.8C276.3 104.9 278.3 100.1 280 99.8C281.7 99.5 282.7 101.7 284 106.2C285.3 110.7 286 119.5 288 127C290 134.5 293.3 145.1 296 151C298.7 156.9 301.3 158.2 304 162.2C306.7 166.2 309.3 170.2 312 175C314.7 179.8 317.3 185.7 320 191C322.7 196.3 325.3 202.2 328 207C330.7 211.8 333.3 216.3 336 219.8C338.7 223.3 341.1 225.1 344 227.8C346.9 230.5 348.3 233.9 353.6 235.8C358.9 237.7 366.9 238.5 376 239C385.1 239.5 400 238.2 408 239C416 239.8 419.7 241.1 424 243.8C428.3 246.5 415.3 253.1 433.6 255C451.9 256.9 516.9 255 533.6 255V255.9H-6Z" fill="#ffe146"/>
<path d="M348.8 159C349.1 149.7 349.6 141.1 352 135C354.4 128.9 359.2 123.5 363.2 122.2C367.2 120.9 372.8 123.5 376 127C379.2 130.5 379.7 139.5 382.4 143C385.1 146.5 388.8 145.1 392 147.8C395.2 150.5 399.2 154.5 401.6 159C404 163.5 406.1 169.7 406.4 175C406.7 180.3 405.1 186.2 403.2 191C401.3 195.8 397.1 198.5 395.2 203.8C393.3 209.1 395.2 218.5 392 223C388.8 227.5 381.3 231 376 231C370.7 231 364.3 229.7 360 223C355.7 216.3 352.3 201.7 350.4 191C348.5 180.3 348.5 168.3 348.8 159Z" fill="#ffe146"/>
<path d="M278.4 68.8C278.4 65.2 279.2 60.5 281.6 58.4C284 56.3 289.1 56.1 292.8 56C296.5 55.9 301.7 55.5 304 57.6C306.3 59.7 306.4 65.1 306.4 68.8C306.4 72.5 306.3 77.6 304 80C301.7 82.4 296.5 83.2 292.8 83.2C289.1 83.2 284 82.4 281.6 80C279.2 77.6 278.4 72.4 278.4 68.8Z" fill="#ffe146"/>
<path d="M-6 159C-5 159 -2.3 158.5 0 159C2.3 159.5 5.3 160.3 8 162.2C10.7 164.1 13.3 168.3 16 170.2C18.7 172.1 18.7 173.1 24 173.4C29.3 173.7 41.3 171.5 48 171.8C54.7 172.1 58.7 172.9 64 175C69.3 177.1 74.7 182.7 80 184.6C85.3 186.5 90.7 186.2 96 186.2C101.3 186.2 106.7 185.9 112 184.6C117.3 183.3 122.7 179.8 128 178.2C133.3 176.6 138.7 175.8 144 175C149.3 174.2 154.7 174.2 160 173.4C165.3 172.6 170.7 171 176 170.2C181.3 169.4 186.7 169 192 168.6C197.3 168.2 202.7 167.8 208 167.8C213.3 167.8 214.7 168.2 224 168.6C233.3 169 255.7 170.7 264 170.2C272.3 169.7 270.4 166.7 273.6 165.4C276.8 164.1 280 161.7 283.2 162.2C286.4 162.7 289.3 165.4 292.8 168.6C296.3 171.8 300.8 177.1 304 181.4C307.2 185.7 309.3 189.4 312 194.2C314.7 199 317.3 205.4 320 210.2C322.7 215 325.9 219.3 328 223C330.1 226.7 331.5 227.3 332.8 232.6C334.1 237.9 302.5 251.3 336 255C369.5 258.7 500.7 255 533.6 255V255.9H-6Z" fill="#ffaa0f"/>
<path d="M-6 178.2C-5 178.2 -3.7 176.9 0 178.2C3.7 179.5 10.7 183.8 16 186.2C21.3 188.6 26.7 190.2 32 192.6C37.3 195 42.7 198.5 48 200.6C53.3 202.7 58.7 203.8 64 205.4C69.3 207 74.7 209.1 80 210.2C85.3 211.3 90.7 212.9 96 211.8C101.3 210.7 106.7 206.7 112 203.8C117.3 200.9 122.7 197.4 128 194.2C133.3 191 138.7 186.7 144 184.6C149.3 182.5 154.7 182.2 160 181.4C165.3 180.6 170.7 180.3 176 179.8C181.3 179.3 186.7 178.5 192 178.2C197.3 177.9 202.7 178.1 208 178.2C213.3 178.3 214.7 178.7 224 179C233.3 179.3 255.7 179.9 264 179.8C272.3 179.7 270.4 178.5 273.6 178.2C276.8 177.9 280 177.4 283.2 178.2C286.4 179 289.3 179.8 292.8 183C296.3 186.2 300.8 192.9 304 197.4C307.2 201.9 309.6 205.9 312 210.2C314.4 214.5 316.5 219 318.4 223C320.3 227 321.9 228.9 323.2 234.2C324.5 239.5 291.3 251.5 326.4 255C361.5 258.5 499.1 255 533.6 255V255.9H-6Z" fill="#ff6e0a"/>
<path d="M-6 184.6C-5 184.6 -3.7 183.3 0 184.6C3.7 185.9 10.7 189.9 16 192.6C21.3 195.3 26.7 197.7 32 200.6C37.3 203.5 42.7 207.8 48 210.2C53.3 212.6 58.7 213.7 64 215C69.3 216.3 74.7 217.4 80 218.2C85.3 219 90.7 220.6 96 219.8C101.3 219 106.7 216.6 112 213.4C117.3 210.2 122.7 204.3 128 200.6C133.3 196.9 138.7 192.9 144 191C149.3 189.1 154.7 189.9 160 189.4C165.3 188.9 170.7 188.3 176 187.8C181.3 187.3 186.7 186.3 192 186.2C197.3 186.1 202.7 186.5 208 187C213.3 187.5 218.7 189 224 189.4C229.3 189.8 233.3 189.7 240 189.4C246.7 189.1 257.3 187.5 264 187.8C270.7 188.1 274.7 188.3 280 191C285.3 193.7 292 200.1 296 203.8C300 207.5 301.3 209.7 304 213.4C306.7 217.1 309.9 222.5 312 226.2C314.1 229.9 315.5 231 316.8 235.8C318.1 240.6 283.9 251.8 320 255C356.1 258.2 498 255 533.6 255V255.9H-6Z" fill="#fa0a0a"/>
<path d="M-6 194.2C-5 194.2 -3.7 193.1 0 194.2C3.7 195.3 10.7 198.2 16 200.6C21.3 203 26.7 205.7 32 208.6C37.3 211.5 42.7 215.5 48 218.2C53.3 220.9 58.7 223 64 224.6C69.3 226.2 74.7 226.7 80 227.8C85.3 228.9 90.7 230.2 96 231C101.3 231.8 106.7 235 112 232.6C117.3 230.2 124 220.9 128 216.6C132 212.3 133.3 209.9 136 207C138.7 204.1 140 200.6 144 199C148 197.4 154.7 197.4 160 197.4C165.3 197.4 170.7 198.5 176 199C181.3 199.5 186.7 200.6 192 200.6C197.3 200.6 202.7 199.3 208 199C213.3 198.7 218.7 199 224 199C229.3 199 233.3 199.3 240 199C246.7 198.7 257.3 196.6 264 197.4C270.7 198.2 276 201.7 280 203.8C284 205.9 285.3 207.5 288 210.2C290.7 212.9 293.3 216.3 296 219.8C298.7 223.3 301.9 227.8 304 231C306.1 234.2 307.5 235 308.8 239C310.1 243 274.5 252.3 312 255C349.5 257.7 496.7 255 533.6 255V255.9H-6Z" fill="#c80a0a"/>
<path d="M99.2 227.8C101.1 225.1 107.2 222.5 112 221.4C116.8 220.3 123.5 220.3 128 221.4C132.5 222.5 137.1 224.9 139.2 227.8C141.3 230.7 142.7 236.3 140.8 239C138.9 241.7 132.8 243.3 128 243.8C123.2 244.3 116.5 243.3 112 242.2C107.5 241.1 102.9 239.8 100.8 237.4C98.7 235 97.3 230.5 99.2 227.8Z" fill="#fa0a0a"/>
<path d="M-6.4 255C-6.4 246.7 -7.5 213.7 -6.4 205.4C-5.3 197.1 -2.4 205.7 0 205.4C2.4 205.1 5.3 203 8 203.8C10.7 204.6 14.1 207 16 210.2C17.9 213.4 19.2 218.2 19.2 223C19.2 227.8 17.6 233.7 16 239C14.4 244.3 10.7 252.3 9.6 255Z" fill="#ffb6b9"/>
<path d="M158.4 255C158.7 249.7 159.2 229.9 160 223C160.8 216.1 161.1 216.1 163.2 213.4C165.3 210.7 169.3 208.1 172.8 207C176.3 205.9 180.8 205.9 184 207C187.2 208.1 189.7 210.4 192 213.4C194.3 216.4 195.7 224 198 225C200.3 226 204 220.6 206 219.4C208 218.2 208 217 210 217.8C212 218.6 215.3 222.6 218 224.2C220.7 225.8 223.3 228.5 226 227.4C228.7 226.3 231.3 220.5 234 217.8C236.7 215.1 239.3 213.3 242 211.4C244.7 209.5 248 207.8 250 206.6C252 205.4 252.7 204.2 254 204.2C255.3 204.2 256 204.9 258 206.6C260 208.3 264 212.3 266 214.6C268 216.9 268 219.1 270 220.2C272 221.3 275.3 220.6 278 221C280.7 221.4 283.3 221.5 286 222.6C288.7 223.7 291.6 225.3 294 227.4C296.4 229.5 298.7 232.9 300.4 235.4C302.1 237.9 303.5 239.2 304.4 242.6C305.3 246 305.7 253.8 306 256Z" fill="#ffb6b9"/>
<path d="M68.8 245.4C68.5 243.8 71.2 240.9 73.6 239.8C76 238.7 80.5 238.3 83.2 239C85.9 239.7 89.1 242.2 89.6 243.8C90.1 245.4 88.8 247.7 86.4 248.6C84 249.5 78.1 249.9 75.2 249.4C72.3 248.9 69.1 247 68.8 245.4Z" fill="#ffb6b9"/>
<path d="M142.4 251L143.2 223L145.6 203.8L150.4 194.2L155.2 203.8L157.6 223L158.4 251M145.6 251L146.4 226.2L148 210.2L150.4 202.2L152.8 210.2L154.4 226.2L155.2 251M148 251L148.8 231L150.4 213.4L152 231L152.8 251M160 251L161.6 215L166.4 200.6L172.8 205.4L176 223L177.6 251M166.4 251L168 223L170.4 211.8L173.6 223L174.4 251M204.8 251L206.4 219.8L209.6 205.4L214.4 200.6L217.6 215L218.4 251M209.6 251L211.2 223L213.6 210.2L216 223L216 251M128 251L129.6 223L132.8 207L137.6 200.6L140.8 207M0 203.8L4.8 207L9.6 203.8L12.8 208.6L14.4 223L11.2 239L4.8 247L0 251M3.2 216.6L5.6 223L4.8 235.8L2.4 239M224 251L225.6 223L228.8 207L233.6 216.6L236.8 231L240 219.8L243.2 213.4L248 223L251.2 239L256 231L262.4 216.6L264 213.4M264 239L270.4 240.6L278.4 239L283.2 229.4L286.4 216.6L289.6 199L291.2 175L293.6 143L295.2 119L296.8 104L300.8 80L307.2 64L315.2 56.8L323.2 56L327.2 52.8L331.2 58.4L337.6 57.6L342.4 60.8L347.2 60L353.6 56.8L360 53.6L364.8 52.8L368 57.6L367.2 72L364.8 89.6L361.6 108.8L359.2 126.4L360 134.4L362.4 121.6L364 136L364.8 147.8L368 165.4L370.4 155.8L372.8 135L375.2 114.2L379.2 89.6L383.2 70.4L388.8 68.8L393.6 67.2L396.8 72L400 80L403.2 75.2L404.8 89.6L406.4 104L409.6 107.2L412.8 89.6L415.2 72.8L417.6 83.2L418.4 112L416.8 143L417.6 191L419.2 223L420 251M312 156L312 112L313.6 99.2L318.4 91.2L324.8 81.6L328 80L331.2 86.4L334.4 94.4L337.6 99.2L341.6 94.4L344 98.4L346.4 96L348 108.8L348.8 144L348.8 159L351.2 191L353.6 200.6L356.8 191L360 197.4L361.6 207L366.4 210.2L369.6 199L372.8 184.6L376 178.2L379.2 181.4L382.4 162.2L384 143L383.2 139.8M312 155.8L312 143L310.4 159L304.8 147.8L303.2 130.2L300.8 122.2L299.2 127L298.4 155.8M324 156L324.8 112L327.2 104L329.6 112L330.4 156M324 155.8L323.5 191L324.8 231L321.6 239M330.4 155.8L329.6 159L331.2 178.2L328 207L327.2 232.6M386.4 70.4L387.2 96L388.8 121.6L392 112L396.8 92.8L399.2 83.2L401.6 99.2L404.8 121.6L406.4 144L406.4 147.8L408 175L409.6 213.4L412.8 223L414.4 239L417.6 251M395.2 111L396.8 143L398.4 175L400 207L401.6 223L404.8 232.6L408 223M451.2 251L448 239L444.8 223L440 216.6L436.8 219.8L432 216.6L432.8 191L433.6 159L436.8 146.2L441.6 135L444.8 119L446.4 96L448 67.2L451.2 56L454.4 55.2L457.6 60.8L462.4 65.6L464.8 76.8L466.4 96L465.6 120L464 144L463.2 175L462.4 207L461.6 231L460.8 251M456 159L451.2 119L451.2 120L453.6 96L456 87.2L459.2 96L460.8 120L460 144L459.2 159L457.6 207L456 239M480 123.8L480 159L481.6 191L483.2 219.8L486.4 215L489.6 216.6L494.4 223L499.2 235.8L502.4 207L504 175L505.6 143L508.8 127L510.4 135L512.8 151L515.2 127L517.6 136L516.8 112L515.2 94.4L510.4 91.2L507.2 80L504 75.2L500 80L497.6 104L494.4 128L491.2 137.6L488 140.8L484.8 139.8L481.6 127L480 123.8M500.8 144L502.4 128L504 147.2M475.2 231L477.6 234.2L476.8 240.6L474.4 241.4M332.8 147.8L333.6 165.4L332.8 178.2L332 165.4L332.8 147.8M451.2 152.6L451.5 165.4M356.8 251L358.4 207L361.6 194.2M334.4 251L336 223L339.2 207L344 219.8L347.2 213.4L353.6 216.6L356.8 231M427.2 229.4L430.4 232.6L431.2 239L428.8 237.4L427.2 229.4M36.9 251L38.6 245.5L41.1 241.8L43.7 245.9L45.4 251M51.9 251L53.1 237.6L55 228.6L57 238.7L58.2 251M122.7 251L123.5 237.6L124.8 228.6L126 238.7L126.9 251M27.8 251L29.2 236.9L31.2 227.5L33.3 238.1L34.6 251M125.2 251L126.2 242.1L127.5 236.2L128.9 242.9L129.8 251M80.8 251L82 238.3L83.7 229.8L85.4 239.3L86.5 251M245.3 251L246.4 230.3L248.1 216.5L249.8 232L250.9 251M149.9 251L151.8 231.7L154.7 218.8L157.5 233.3L159.4 251M151 251L152.8 227.9L155.6 212.5L158.3 229.8L160.1 251M206.1 251L207 237.4L208.5 228.4L209.9 238.5L210.9 251M132.3 251L133.4 227.7L135 212.1L136.7 229.6L137.8 251M217.2 251L219 240.4L221.6 233.3L224.2 241.3L226 251M204.9 251L206 239.7L207.5 232.2L209.1 240.7L210.1 251M220.9 251L222 243.8L223.6 238.9L225.3 244.4L226.4 251M198.9 251L200.4 229.7L202.7 215.4L205 231.4L206.5 251M163.8 251L164.8 228.5L166.4 213.5L168 230.4L169.1 251M128.8 251L130.1 240.2L132.2 232.9L134.2 241.1L135.5 251M134.7 251L136 241.8L137.9 235.7L139.7 242.6L141 251M439.1 251L440.3 244.5L442.2 240.1L444.1 245L445.3 251M459 251L460.5 233.3L462.9 221.4L465.3 234.7L466.9 251M447.4 251L448.4 238.5L449.9 230.1L451.4 239.5L452.4 251M402.6 251L404.5 246L407.3 242.6L410.1 246.4L411.9 251M448.4 251L449.3 233.5L450.6 221.8L451.9 235L452.7 251" fill="none" stroke="#000" stroke-width="1.6" stroke-linejoin="round" stroke-linecap="round"/>
<path d="M39.2 99.2L37.6 105.6L36 115.2L40 121.6L44.8 128L49.6 139.2L54.4 150.4L54.4 147.8L56.8 159L60 155.8L62.4 163.8L60.8 170.2L56.8 171.8L56 184.6L55.2 191M41.6 100L44.8 108.8L48 115.2L54.4 116L60.8 114.4L65.6 112L68.8 113.6L72 110.4L76 110.4L77.6 116.8L76 121.6L74.4 128L74.4 140.8L76 148.8L80 152M89.6 159L92.8 163.8L96 159L97.6 167L92.8 175L89.6 171.8L84.8 184.6L80.8 189.4L78.4 197.4L80 207M0 138.2L4.8 141.4L7.2 159L9.6 171.8L12 181.4L14.4 189.4M20.8 136.6L21.6 147.8L20.8 157.4M0 173.4L4.8 184.6L8 189.4L12.8 186.2L16 189.4L19.2 181.4M137.6 155.8L136.8 135L139.2 125.4L144 122.2L149.6 123.8L151.2 128.6L156.8 133.4L161.6 141.4L163.2 151L160 162.2L155.2 167L150.4 165.4L146.4 168.6L140.8 162.2M145.6 127L144.8 143L144 154.2M192 184.6L198.4 183L201.6 175L200 165.4L197.6 155.8L196 135L198.4 123.8L206.4 119.8L212 114.2L213.6 101.4L214.4 89.6L217.6 83.2L223.2 82.4L227.2 88L231.2 92L238.4 87.2L244.8 89.6L249.6 95.2L256 92L260 99.2L262.4 108.8L265.6 121.6L268.8 132.8M273.6 144L278.4 152L280 162.2L281.6 171.8L282.4 184.6L280 191L276.8 187.8M252.8 123.8L252.8 143L253.6 162.2L257.6 170.2L262.4 168.6M115.2 189.4L117.6 175L121.6 170.2L128 165.4L130.4 157.4L132.8 168.6L137.6 173.4L142.4 179.8L144 186.2M102.4 239L104 216.6L110.4 199L118.4 194.2L128 197.4L132.8 194.2M89.6 207L92.8 216.6L86.4 226.2L80 239M40 251L40.8 223L43.2 199L48 197.4L52.8 191M64 199L68.8 205.4L73.6 210.2L78.4 207M180.8 251L181.6 207L180.8 191M240 207L243.2 197.4L249.6 194.2M264 159L268.8 167L273.6 181.4M270.4 191L271.2 215L270.4 227.8M424 139.8L426.4 143L427.2 159L424.8 167L423.2 159L423.2 146.2L424 139.8M472 99.2L473.6 112L475.2 128L476 144L476 147.8L476.8 155.8M464 151L462.4 167L464 184.6L467.2 199L470.4 205.4M468.8 162.2L470.4 178.2L472 194.2L473.6 207M424 139.2L424 156M427.2 140.8L428 156M56.9 251L58.7 233.2L61.5 221.4L64.4 234.7L66.2 251M59.5 251L61 234.3L63.2 223.2L65.5 235.7L67 251M24.2 251L25.8 234.2L28.1 223.1L30.4 235.6L31.9 251M101.2 251L102.4 243L104.1 237.7L105.9 243.7L107.1 251M12.3 251L13.9 228L16.3 212.7L18.8 229.9L20.4 251M5.4 251L7.4 224.4L10.2 206.6L13.1 226.6L15 251M84.2 251L85.2 232.1L86.7 219.5L88.3 233.7L89.3 251M4.6 251L5.5 233.9L6.9 222.5L8.2 235.3L9.1 251M26.6 251L27.5 239.9L28.8 232.5L30.1 240.8L31 251M58.5 251L60.3 235.7L63 225.6L65.7 237L67.5 251M66.4 251L67.8 231.6L69.9 218.6L72 233.2L73.4 251M84.9 251L86.1 235.4L87.8 225L89.5 236.7L90.7 251M125.3 251L127 224.1L129.7 206.2L132.4 226.3L134.2 251M90.7 251L91.8 238.4L93.5 230L95.1 239.4L96.2 251M110 251L111.9 238L114.8 229.4L117.7 239.1L119.6 251M226.1 251L227.2 242.5L228.9 236.9L230.5 243.2L231.7 251M112.8 251L114.6 243.7L117.2 238.9L119.8 244.3L121.5 251M126.9 251L128.2 233.3L130.2 221.4L132.2 234.7L133.6 251M129.9 251L130.9 229.6L132.4 215.4L133.9 231.4L134.9 251M206.2 251L207.5 242.6L209.4 236.9L211.4 243.3L212.7 251M131.4 251L133.3 239.3L136.2 231.6L139.1 240.3L141 251M232 251L233.8 238.6L236.6 230.4L239.3 239.6L241.2 251M131.3 251L133.1 236.7L135.8 227.2L138.5 237.9L140.3 251M204.2 251L206.2 242.9L209.1 237.5L212 243.6L214 251M132 251L133.7 239.6L136.3 232L138.8 240.5L140.5 251M153.6 251L154.5 238.8L155.9 230.6L157.3 239.8L158.2 251M112.5 251L113.7 232.8L115.3 220.6L117 234.3L118.1 251M198.8 251L200.2 237.2L202.2 228L204.2 238.3L205.6 251M259.3 251L260.8 234.8L263.1 224.1L265.3 236.2L266.8 251M244.8 251L245.8 241.2L247.3 234.6L248.8 242L249.8 251" fill="none" stroke="#000" stroke-width="1.6" stroke-linejoin="round" stroke-dasharray="9.5 4.5"/>
<text x="84" y="150.4" font-size="9" text-anchor="middle" transform="rotate(70 84 150.4)">05</text>
<text x="56" y="195" font-size="9" text-anchor="middle" transform="rotate(70 56 195)">02</text>
<text x="148" y="159" font-size="9" text-anchor="middle" transform="rotate(80 148 159)">05</text>
<text x="197.6" y="189.4" font-size="9" text-anchor="middle" transform="rotate(30 197.6 189.4)">.02</text>
<text x="271.2" y="140.8" font-size="9" text-anchor="middle" transform="rotate(60 271.2 140.8)">02</text>
<text x="250.4" y="187.8" font-size="9" text-anchor="middle" transform="rotate(70 250.4 187.8)">02</text>
<text x="315.5" y="93.6" font-size="9" text-anchor="middle" transform="rotate(60 315.5 93.6)">06</text>
<text x="458.4" y="129.6" font-size="9" text-anchor="middle" transform="rotate(90 458.4 129.6)">06</text>
<text x="361.6" y="210.2" font-size="9" text-anchor="middle" transform="rotate(80 361.6 210.2)">06</text>
<path d="M304 251.8L307.2 242.2L316.8 237.4L328 234.2L344 234.2L353.6 235.8L363.2 232.6L368 226.2L376 223L382.4 224.6L388.8 231L392 235.8L400 242.2L408 245.4L416 251.8Z" fill="#000"/>
<path d="M12.8 251.8L24 246.2L48 245.1L80 246.2L112 247.3L136 246.2L152 244.6L168 245.4L192 247.3L224 248.1L264 248.9L264 251.8Z" fill="#000"/>
<path d="M264 248.9L304 249.4L304 251.8L264 251.8Z" fill="#000"/>
<path d="M416 250.2L440 249.4L456 250.5L456 251.8L416 251.8Z" fill="#000"/>
</g>
<rect x="0" y="0" width="527.6" height="249.9" fill="none" stroke="#000" stroke-width="1.6"/>
</g>
<path d="M873.8 692.4H886.8M873.8 723.9H886.8M873.8 759.3H886.8M873.8 784.4H886.8M873.8 804H886.8M873.8 819.9H886.8M873.8 845.1H886.8M873.8 864.4H886.8M873.8 893.9H886.8M873.8 910.7H886.8M1414.4 726.5H1427.9M1414.4 781.3H1427.9M1414.4 834.6H1427.9M1414.4 882.4H1427.9M941.5 923.2V930.2M998.3 923.2V930.2M1055.1 923.2V936.7M1111.9 923.2V930.2M1168.7 923.2V930.2M1225.5 923.2V936.7M1282.3 923.2V930.2M1339.1 923.2V930.2M1395.8 923.2V936.7" stroke="#000" stroke-width="1.3" fill="none"/>
<text font-size="25" text-anchor="end" transform="translate(856.5 733) scale(1 1.043)">100</text>
<text font-size="25" text-anchor="end" transform="translate(856.5 793.5) scale(1 1.043)">200</text>
<text font-size="25" text-anchor="end" transform="translate(856.5 829) scale(1 1.043)">300</text>
<text font-size="25" text-anchor="end" transform="translate(856.5 873.5) scale(1 1.043)">500</text>
<text font-size="25" text-anchor="end" transform="translate(856.5 919.8) scale(1 1.043)">850</text>
<text font-size="25" text-anchor="start" transform="translate(1443.9 735.9) scale(1 1.043)">16</text>
<text font-size="25" text-anchor="start" transform="translate(1443.9 790.7) scale(1 1.043)">12</text>
<text font-size="25" text-anchor="start" transform="translate(1443.9 844) scale(1 1.043)">8</text>
<text font-size="25" text-anchor="start" transform="translate(1443.9 891.8) scale(1 1.043)">4</text>
<text font-size="25" text-anchor="middle" transform="translate(1055.1 973.6) scale(1 1.043)">45E</text>
<text font-size="25" text-anchor="middle" transform="translate(1225.5 973.6) scale(1 1.043)">90E</text>
<text font-size="25" text-anchor="middle" transform="translate(1395.8 973.6) scale(1 1.043)">135E</text>
<text font-size="41" text-anchor="start" transform="translate(885.3 662.7) scale(1 1.043)">f</text>
<text font-size="41" text-anchor="middle" transform="translate(476.4 31.6) scale(1 1.043)">PRM</text>
<text font-size="41" text-anchor="middle" transform="translate(1168.8 31.6) scale(1 1.043)">PKM</text>
<text font-size="41" text-anchor="start" transform="translate(14.5 176.8) scale(1 1.043)">CO</text>
<text font-size="41" text-anchor="start" transform="translate(14.5 475.2) scale(1 1.043)">CA</text>
<text font-size="41" text-anchor="start" transform="translate(-1.5 781) scale(1 1.043)">Dust</text>
<rect x="1520" y="291.2" width="32" height="13.4" fill="#8220f0" stroke="#000" stroke-width="0.6"/>
<rect x="1520" y="277.9" width="32" height="13.4" fill="#2a00fa" stroke="#000" stroke-width="0.6"/>
<rect x="1520" y="264.5" width="32" height="13.4" fill="#1e32f0" stroke="#000" stroke-width="0.6"/>
<rect x="1520" y="251.1" width="32" height="13.4" fill="#4169e1" stroke="#000" stroke-width="0.6"/>
<rect x="1520" y="237.8" width="32" height="13.4" fill="#2882f0" stroke="#000" stroke-width="0.6"/>
<rect x="1520" y="224.4" width="32" height="13.4" fill="#19a0f5" stroke="#000" stroke-width="0.6"/>
<rect x="1520" y="211" width="32" height="13.4" fill="#28bef8" stroke="#000" stroke-width="0.6"/>
<rect x="1520" y="197.7" width="32" height="13.4" fill="#96d2f0" stroke="#000" stroke-width="0.6"/>
<rect x="1520" y="184.3" width="32" height="13.4" fill="#bee1f5" stroke="#000" stroke-width="0.6"/>
<rect x="1520" y="170.9" width="32" height="13.4" fill="#fffaa5" stroke="#000" stroke-width="0.6"/>
<rect x="1520" y="157.6" width="32" height="13.4" fill="#ffe13c" stroke="#000" stroke-width="0.6"/>
<rect x="1520" y="144.2" width="32" height="13.4" fill="#ffb914" stroke="#000" stroke-width="0.6"/>
<rect x="1520" y="130.8" width="32" height="13.4" fill="#ff910a" stroke="#000" stroke-width="0.6"/>
<rect x="1520" y="117.5" width="32" height="13.4" fill="#ff640a" stroke="#000" stroke-width="0.6"/>
<rect x="1520" y="104.1" width="32" height="13.4" fill="#ff140a" stroke="#000" stroke-width="0.6"/>
<rect x="1520" y="90.7" width="32" height="13.4" fill="#dc000a" stroke="#000" stroke-width="0.6"/>
<rect x="1520" y="77.4" width="32" height="13.4" fill="#d23232" stroke="#000" stroke-width="0.6"/>
<rect x="1520" y="64" width="32" height="13.4" fill="#ffb6b9" stroke="#000" stroke-width="0.6"/>
<text font-size="25" text-anchor="start" transform="translate(1561 300.6) scale(1 1.043)">10</text>
<text font-size="25" text-anchor="start" transform="translate(1561 260.5) scale(1 1.043)">25</text>
<text font-size="25" text-anchor="start" transform="translate(1561 220.4) scale(1 1.043)">40</text>
<text font-size="25" text-anchor="start" transform="translate(1561 180.3) scale(1 1.043)">55</text>
<text font-size="25" text-anchor="start" transform="translate(1561 140.2) scale(1 1.043)">70</text>
<text font-size="25" text-anchor="start" transform="translate(1561 100.1) scale(1 1.043)">85</text>
<text font-size="26.9" text-anchor="middle" transform="translate(1505.6 184) rotate(-90) scale(1 1.043)">Height (km)</text>
<rect x="1516.8" y="596.2" width="31.4" height="16" fill="#8220f0" stroke="#000" stroke-width="0.6"/>
<rect x="1516.8" y="580.1" width="31.4" height="16" fill="#1e0afa" stroke="#000" stroke-width="0.6"/>
<rect x="1516.8" y="564.1" width="31.4" height="16" fill="#3250e6" stroke="#000" stroke-width="0.6"/>
<rect x="1516.8" y="548.1" width="31.4" height="16" fill="#327deb" stroke="#000" stroke-width="0.6"/>
<rect x="1516.8" y="532" width="31.4" height="16" fill="#19a0f5" stroke="#000" stroke-width="0.6"/>
<rect x="1516.8" y="516" width="31.4" height="16" fill="#28bef8" stroke="#000" stroke-width="0.6"/>
<rect x="1516.8" y="500" width="31.4" height="16" fill="#96d2f0" stroke="#000" stroke-width="0.6"/>
<rect x="1516.8" y="483.9" width="31.4" height="16" fill="#fffac8" stroke="#000" stroke-width="0.6"/>
<rect x="1516.8" y="467.9" width="31.4" height="16" fill="#ffe146" stroke="#000" stroke-width="0.6"/>
<rect x="1516.8" y="451.9" width="31.4" height="16" fill="#ffbe1e" stroke="#000" stroke-width="0.6"/>
<rect x="1516.8" y="435.8" width="31.4" height="16" fill="#ff8c0a" stroke="#000" stroke-width="0.6"/>
<rect x="1516.8" y="419.8" width="31.4" height="16" fill="#ff460a" stroke="#000" stroke-width="0.6"/>
<rect x="1516.8" y="403.8" width="31.4" height="16" fill="#f00a0a" stroke="#000" stroke-width="0.6"/>
<rect x="1516.8" y="387.7" width="31.4" height="16" fill="#cd1919" stroke="#000" stroke-width="0.6"/>
<rect x="1516.8" y="371.7" width="31.4" height="16" fill="#ffb6b9" stroke="#000" stroke-width="0.6"/>
<text font-size="25" text-anchor="start" transform="translate(1557 589.5) scale(1 1.043)">0.1</text>
<text font-size="25" text-anchor="start" transform="translate(1557 557.5) scale(1 1.043)">0.2</text>
<text font-size="25" text-anchor="start" transform="translate(1557 525.4) scale(1 1.043)">0.3</text>
<text font-size="25" text-anchor="start" transform="translate(1557 493.3) scale(1 1.043)">0.4</text>
<text font-size="25" text-anchor="start" transform="translate(1557 461.3) scale(1 1.043)">0.5</text>
<text font-size="25" text-anchor="start" transform="translate(1557 429.2) scale(1 1.043)">0.6</text>
<text font-size="25" text-anchor="start" transform="translate(1557 397.1) scale(1 1.043)">0.7</text>
<text font-size="26.9" text-anchor="middle" transform="translate(1505.6 492) rotate(-90) scale(1 1.043)">Height (km)</text>
<rect x="1526.6" y="898.2" width="31.2" height="18.4" fill="#8220f0" stroke="#000" stroke-width="0.6"/>
<rect x="1526.6" y="879.8" width="31.2" height="18.4" fill="#0000ff" stroke="#000" stroke-width="0.6"/>
<rect x="1526.6" y="861.4" width="31.2" height="18.4" fill="#4169e1" stroke="#000" stroke-width="0.6"/>
<rect x="1526.6" y="842.9" width="31.2" height="18.4" fill="#2391fa" stroke="#000" stroke-width="0.6"/>
<rect x="1526.6" y="824.5" width="31.2" height="18.4" fill="#00bef8" stroke="#000" stroke-width="0.6"/>
<rect x="1526.6" y="806.1" width="31.2" height="18.4" fill="#96d2f0" stroke="#000" stroke-width="0.6"/>
<rect x="1526.6" y="787.7" width="31.2" height="18.4" fill="#fffacd" stroke="#000" stroke-width="0.6"/>
<rect x="1526.6" y="769.3" width="31.2" height="18.4" fill="#ffe146" stroke="#000" stroke-width="0.6"/>
<rect x="1526.6" y="750.9" width="31.2" height="18.4" fill="#ffaa0f" stroke="#000" stroke-width="0.6"/>
<rect x="1526.6" y="732.4" width="31.2" height="18.4" fill="#ff6e0a" stroke="#000" stroke-width="0.6"/>
<rect x="1526.6" y="714" width="31.2" height="18.4" fill="#fa0a0a" stroke="#000" stroke-width="0.6"/>
<rect x="1526.6" y="695.6" width="31.2" height="18.4" fill="#c80a0a" stroke="#000" stroke-width="0.6"/>
<rect x="1526.6" y="677.2" width="31.2" height="18.4" fill="#ffb6b9" stroke="#000" stroke-width="0.6"/>
<text font-size="25" text-anchor="middle" transform="translate(1607.3 907.6) scale(1 1.043)">0.0625</text>
<text font-size="25" text-anchor="middle" transform="translate(1607.3 870.8) scale(1 1.043)">0.25</text>
<text font-size="25" text-anchor="middle" transform="translate(1607.3 833.9) scale(1 1.043)">1</text>
<text font-size="25" text-anchor="middle" transform="translate(1607.3 797.1) scale(1 1.043)">4</text>
<text font-size="25" text-anchor="middle" transform="translate(1607.3 760.3) scale(1 1.043)">16</text>
<text font-size="25" text-anchor="middle" transform="translate(1607.3 723.4) scale(1 1.043)">64</text>
<text font-size="26.9" text-anchor="middle" transform="translate(1505.6 796) rotate(-90) scale(1 1.043)">Height (km)</text>
</svg>
</body></html>
